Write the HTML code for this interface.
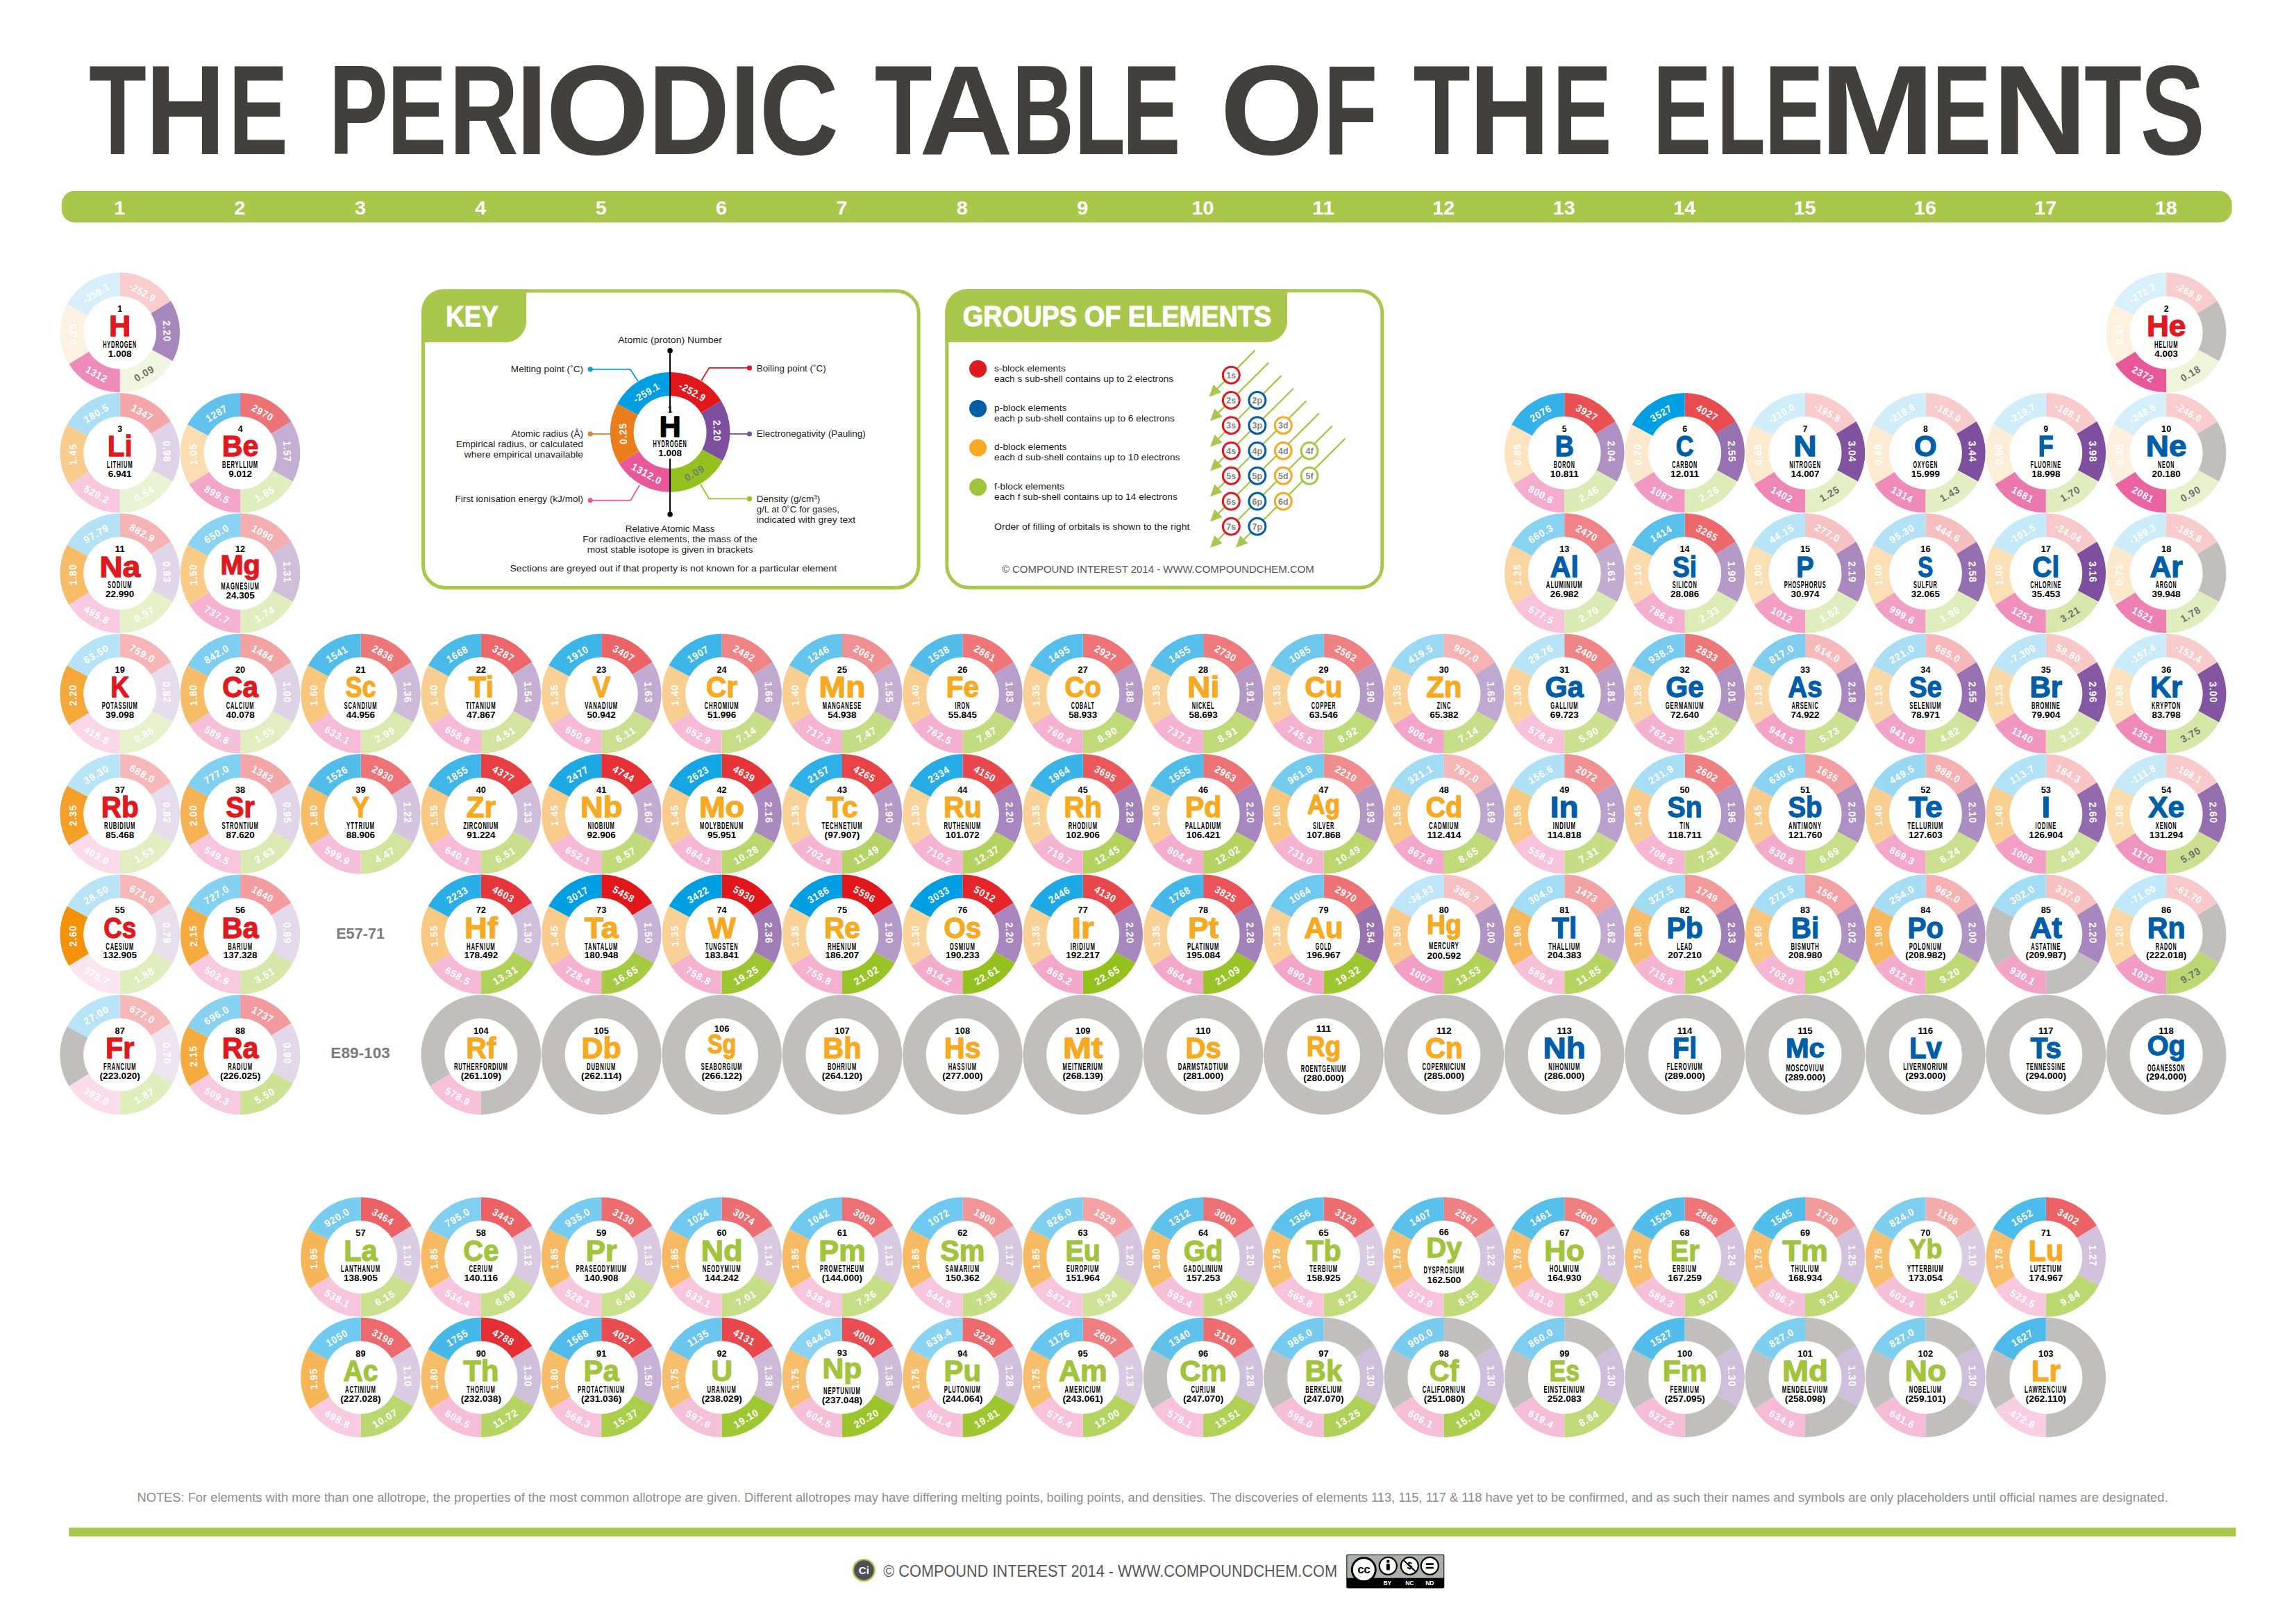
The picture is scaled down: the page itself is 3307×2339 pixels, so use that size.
<!DOCTYPE html>
<html><head><meta charset="utf-8"><title>The Periodic Table of the Elements</title><style>
html,body{margin:0;padding:0;background:#fff;}
body{width:3307px;height:2339px;overflow:hidden;}
svg{display:block;}
text{font-family:"Liberation Sans",sans-serif;}
.title{font-weight:bold;font-size:184px;fill:#41403e;}
.gn{font-weight:bold;font-size:28px;fill:#fff;text-anchor:middle;}
.v{font-weight:bold;font-size:14.6px;fill:#fff;text-anchor:middle;dominant-baseline:central;letter-spacing:1px;}
.vk{font-size:14.6px;fill:#fff;text-anchor:middle;dominant-baseline:central;font-weight:bold;letter-spacing:1px;}
.n{font-weight:bold;font-size:12.5px;fill:#000;text-anchor:middle;}
.s{font-weight:bold;font-size:42.6px;text-anchor:middle;stroke-width:1.3px;stroke-linejoin:round;}
.nm{font-size:14px;fill:#000;text-anchor:middle;font-weight:bold;letter-spacing:1.6px;}
.m{font-weight:bold;font-size:12.5px;fill:#000;text-anchor:middle;}
.lbl{font-weight:bold;font-size:21.5px;fill:#7b7b7b;text-anchor:middle;}
.tab{font-weight:bold;font-size:43px;fill:#fff;stroke:#fff;stroke-width:1.2px;stroke-linejoin:round;}
.kl{font-size:13.6px;fill:#1a1a1a;}
.cp{font-size:15px;fill:#555;}
.orb{font-weight:bold;font-size:12.5px;fill:#868686;text-anchor:middle;}
.note{font-size:18px;fill:#8c8c8c;}
</style></head><body>
<svg width="3307" height="2339" viewBox="0 0 3307 2339">
<text class="title" y="221.7"><tspan x="127.94" textLength="82.93" lengthAdjust="spacingAndGlyphs">T</tspan><tspan x="209.54" textLength="115.06" lengthAdjust="spacingAndGlyphs">H</tspan><tspan x="329.26" textLength="85.59" lengthAdjust="spacingAndGlyphs">E</tspan> <tspan x="473.63" textLength="84.84" lengthAdjust="spacingAndGlyphs">P</tspan><tspan x="557.86" textLength="85.59" lengthAdjust="spacingAndGlyphs">E</tspan><tspan x="647.11" textLength="99.85" lengthAdjust="spacingAndGlyphs">R</tspan><tspan x="743.08" textLength="45.41" lengthAdjust="spacingAndGlyphs">I</tspan><tspan x="785.7" textLength="149.75" lengthAdjust="spacingAndGlyphs">O</tspan><tspan x="933.29" textLength="117.9" lengthAdjust="spacingAndGlyphs">D</tspan><tspan x="1050.38" textLength="45.41" lengthAdjust="spacingAndGlyphs">I</tspan><tspan x="1093.66" textLength="114.44" lengthAdjust="spacingAndGlyphs">C</tspan> <tspan x="1259.64" textLength="82.83" lengthAdjust="spacingAndGlyphs">T</tspan><tspan x="1323.92" textLength="135.16" lengthAdjust="spacingAndGlyphs">A</tspan><tspan x="1457.79" textLength="89.03" lengthAdjust="spacingAndGlyphs">B</tspan><tspan x="1547.96" textLength="72.71" lengthAdjust="spacingAndGlyphs">L</tspan><tspan x="1616.52" textLength="83.93" lengthAdjust="spacingAndGlyphs">E</tspan> <tspan x="1757.34" textLength="148.96" lengthAdjust="spacingAndGlyphs">O</tspan><tspan x="1906.54" textLength="77.61" lengthAdjust="spacingAndGlyphs">F</tspan> <tspan x="2035.45" textLength="82.2" lengthAdjust="spacingAndGlyphs">T</tspan><tspan x="2116.27" textLength="115.91" lengthAdjust="spacingAndGlyphs">H</tspan><tspan x="2236.06" textLength="85.59" lengthAdjust="spacingAndGlyphs">E</tspan> <tspan x="2380.44" textLength="84.76" lengthAdjust="spacingAndGlyphs">E</tspan><tspan x="2473.32" textLength="69.39" lengthAdjust="spacingAndGlyphs">L</tspan><tspan x="2541.26" textLength="85.59" lengthAdjust="spacingAndGlyphs">E</tspan><tspan x="2621.07" textLength="165.77" lengthAdjust="spacingAndGlyphs">M</tspan><tspan x="2782.46" textLength="85.59" lengthAdjust="spacingAndGlyphs">E</tspan><tspan x="2869.71" textLength="136.6" lengthAdjust="spacingAndGlyphs">N</tspan><tspan x="3001.94" textLength="82.93" lengthAdjust="spacingAndGlyphs">T</tspan><tspan x="3082.72" textLength="93.05" lengthAdjust="spacingAndGlyphs">S</tspan></text>
<rect x="88.7" y="274.9" width="3126" height="45.7" rx="19" fill="#a9c74b"/>
<text class="gn" x="172.2" y="309.2" textLength="16.01" lengthAdjust="spacingAndGlyphs">1</text>
<text class="gn" x="345.58" y="309.2" textLength="16.01" lengthAdjust="spacingAndGlyphs">2</text>
<text class="gn" x="518.96" y="309.2" textLength="16.01" lengthAdjust="spacingAndGlyphs">3</text>
<text class="gn" x="692.34" y="309.2" textLength="16.01" lengthAdjust="spacingAndGlyphs">4</text>
<text class="gn" x="865.72" y="309.2" textLength="16.01" lengthAdjust="spacingAndGlyphs">5</text>
<text class="gn" x="1039.1" y="309.2" textLength="16.01" lengthAdjust="spacingAndGlyphs">6</text>
<text class="gn" x="1212.48" y="309.2" textLength="16.01" lengthAdjust="spacingAndGlyphs">7</text>
<text class="gn" x="1385.86" y="309.2" textLength="16.01" lengthAdjust="spacingAndGlyphs">8</text>
<text class="gn" x="1559.24" y="309.2" textLength="16.01" lengthAdjust="spacingAndGlyphs">9</text>
<text class="gn" x="1732.62" y="309.2" textLength="32.02" lengthAdjust="spacingAndGlyphs">10</text>
<text class="gn" x="1906" y="309.2" textLength="32.02" lengthAdjust="spacingAndGlyphs">11</text>
<text class="gn" x="2079.38" y="309.2" textLength="32.02" lengthAdjust="spacingAndGlyphs">12</text>
<text class="gn" x="2252.76" y="309.2" textLength="32.02" lengthAdjust="spacingAndGlyphs">13</text>
<text class="gn" x="2426.14" y="309.2" textLength="32.02" lengthAdjust="spacingAndGlyphs">14</text>
<text class="gn" x="2599.52" y="309.2" textLength="32.02" lengthAdjust="spacingAndGlyphs">15</text>
<text class="gn" x="2772.9" y="309.2" textLength="32.02" lengthAdjust="spacingAndGlyphs">16</text>
<text class="gn" x="2946.28" y="309.2" textLength="32.02" lengthAdjust="spacingAndGlyphs">17</text>
<text class="gn" x="3119.66" y="309.2" textLength="32.02" lengthAdjust="spacingAndGlyphs">18</text>
<rect x="609.5" y="418.9" width="713.6" height="427.6" rx="32" fill="none" stroke="#a9c74b" stroke-width="5"/>
<path d="M639 416.4 H758 V463 A30 30 0 0 1 728 493 H607 V448.4 A32 32 0 0 1 639 416.4 Z" fill="#a9c74b"/>
<text class="tab" x="642.3" y="469.5" textLength="75.3" lengthAdjust="spacingAndGlyphs">KEY</text>
<path d="M965.10 536.10A86.30 86.30 0 0 1 1038.52 577.05L1009.77 594.81A52.50 52.50 0 0 0 965.10 569.90Z" fill="#e2171c"/>
<path d="M1038.52 577.05A86.30 86.30 0 0 1 1040.94 663.58L1011.24 647.45A52.50 52.50 0 0 0 1009.77 594.81Z" fill="#7e4f9e"/>
<path d="M1040.94 663.58A86.30 86.30 0 0 1 965.10 708.70L965.10 674.90A52.50 52.50 0 0 0 1011.24 647.45Z" fill="#95c11e"/>
<path d="M965.10 708.70A86.30 86.30 0 0 1 891.68 667.75L920.43 649.99A52.50 52.50 0 0 0 965.10 674.90Z" fill="#e8579a"/>
<path d="M891.68 667.75A86.30 86.30 0 0 1 889.04 581.62L918.83 597.59A52.50 52.50 0 0 0 920.43 649.99Z" fill="#ec7d1c"/>
<path d="M889.04 581.62A86.30 86.30 0 0 1 965.10 536.10L965.10 569.90A52.50 52.50 0 0 0 918.83 597.59Z" fill="#009ee2"/>
<text class="vk" x="997.35" y="564.58" transform="rotate(29.15 997.35 564.58)" textLength="41.9" lengthAdjust="spacingAndGlyphs">-252.9</text>
<text class="vk" x="1032.67" y="620.51" transform="rotate(88.4 1032.67 620.51)" textLength="31" lengthAdjust="spacingAndGlyphs">2.20</text>
<text class="vk" x="1000.28" y="681.53" transform="rotate(-30.75 1000.28 681.53)" textLength="31" lengthAdjust="spacingAndGlyphs" style="fill:#777">0.09</text>
<text class="vk" x="931.59" y="682.49" transform="rotate(29.15 931.59 682.49)" textLength="47.8" lengthAdjust="spacingAndGlyphs">1312.0</text>
<text class="vk" x="897.53" y="624.46" transform="rotate(-91.75 897.53 624.46)" textLength="31" lengthAdjust="spacingAndGlyphs">0.25</text>
<text class="vk" x="931.1" y="565.6" transform="rotate(-30.9 931.1 565.6)" textLength="41.9" lengthAdjust="spacingAndGlyphs">-259.1</text>
<path d="M965.1 505V595M965.1 660.4V740.7" stroke="#000" stroke-width="2"/>
<circle cx="965.1" cy="505" r="3.8" fill="#000"/><circle cx="965.1" cy="740.7" r="3.8" fill="#000"/>
<text class="n" x="965.1" y="594.1" textLength="6.86" lengthAdjust="spacingAndGlyphs">1</text>
<text class="s" x="965.1" y="629.4" fill="#000" stroke="#000" textLength="31.25" lengthAdjust="spacingAndGlyphs">H</text>
<text class="nm" x="965.1" y="644.2" textLength="48.98" lengthAdjust="spacingAndGlyphs">HYDROGEN</text>
<text class="m" x="965.1" y="657.1" textLength="33.67" lengthAdjust="spacingAndGlyphs">1.008</text>
<path d="M850.2 531.8 L907.8 531.8 L918.9 549" fill="none" stroke="#009ee2" stroke-width="1.8"/><circle cx="850.2" cy="531.8" r="3.6" fill="#009ee2"/>
<path d="M1079.5 529.9 L1021.3 529.9 L1010.2 548.3" fill="none" stroke="#e2171c" stroke-width="1.8"/><circle cx="1079.5" cy="529.9" r="3.6" fill="#e2171c"/>
<path d="M850.2 625 L879.5 625" fill="none" stroke="#ec7d1c" stroke-width="1.8"/><circle cx="850.2" cy="625" r="3.6" fill="#ec7d1c"/>
<path d="M1079.5 625 L1051 625" fill="none" stroke="#7e4f9e" stroke-width="1.8"/><circle cx="1079.5" cy="625" r="3.6" fill="#7e4f9e"/>
<path d="M850.2 720.6 L908.4 720.6 L921.1 698.7" fill="none" stroke="#e8579a" stroke-width="1.8"/><circle cx="850.2" cy="720.6" r="3.6" fill="#e8579a"/>
<path d="M1079.5 718.4 L1021.3 718.4 L1009.2 697.8" fill="none" stroke="#95c11e" stroke-width="1.8"/><circle cx="1079.5" cy="718.4" r="3.6" fill="#95c11e"/>
<text class="kl" x="965.1" y="494.3" text-anchor="middle" textLength="149.66" lengthAdjust="spacingAndGlyphs">Atomic (proton) Number</text>
<text class="kl" x="840" y="535.6" text-anchor="end" textLength="104.16" lengthAdjust="spacingAndGlyphs">Melting point (˚C)</text>
<text class="kl" x="1089.7" y="534.6" textLength="100" lengthAdjust="spacingAndGlyphs">Boiling point (˚C)</text>
<text class="kl" x="840" y="628.8" text-anchor="end" textLength="103.59" lengthAdjust="spacingAndGlyphs">Atomic radius (Å)</text>
<text class="kl" x="840" y="643.7" text-anchor="end" textLength="183.11" lengthAdjust="spacingAndGlyphs">Empirical radius, or calculated</text>
<text class="kl" x="840" y="658.6" text-anchor="end" textLength="171.13" lengthAdjust="spacingAndGlyphs">where empirical unavailable</text>
<text class="kl" x="1089.7" y="628.8" textLength="157.05" lengthAdjust="spacingAndGlyphs">Electronegativity (Pauling)</text>
<text class="kl" x="840" y="723.2" text-anchor="end" textLength="184.51" lengthAdjust="spacingAndGlyphs">First ionisation energy (kJ/mol)</text>
<text class="kl" x="1089.7" y="722.6" textLength="91.68" lengthAdjust="spacingAndGlyphs">Density (g/cm³)</text>
<text class="kl" x="1089.7" y="737.5" textLength="119.22" lengthAdjust="spacingAndGlyphs">g/L at 0˚C for gases,</text>
<text class="kl" x="1089.7" y="753.4" textLength="142.56" lengthAdjust="spacingAndGlyphs">indicated with grey text</text>
<text class="kl" x="965.1" y="766.1" text-anchor="middle" textLength="128.8" lengthAdjust="spacingAndGlyphs">Relative Atomic Mass</text>
<text class="kl" x="965.1" y="781.4" text-anchor="middle" textLength="251.82" lengthAdjust="spacingAndGlyphs">For radioactive elements, the mass of the</text>
<text class="kl" x="965.1" y="796.3" text-anchor="middle" textLength="238.88" lengthAdjust="spacingAndGlyphs">most stable isotope is given in brackets</text>
<text class="kl" x="734.5" y="823.4" textLength="470.6" lengthAdjust="spacingAndGlyphs">Sections are greyed out if that property is not known for a particular element</text>
<rect x="1363.8" y="418.7" width="627" height="427.6" rx="32" fill="none" stroke="#a9c74b" stroke-width="5"/>
<path d="M1393.3 416.2 H1854 V462.7 A30 30 0 0 1 1824 492.7 H1361.3 V448.2 A32 32 0 0 1 1393.3 416.2 Z" fill="#a9c74b"/>
<text class="tab" x="1386.8" y="470.3" textLength="444.5" lengthAdjust="spacingAndGlyphs">GROUPS OF ELEMENTS</text>
<circle cx="1408.6" cy="531.2" r="12.5" fill="#e1191f"/>
<text class="kl" x="1432.1" y="534.6" textLength="102.67" lengthAdjust="spacingAndGlyphs">s-block elements</text>
<text class="kl" x="1432.1" y="549.6" textLength="258.05" lengthAdjust="spacingAndGlyphs">each s sub-shell contains up to 2 electrons</text>
<circle cx="1408.6" cy="588.4" r="12.5" fill="#005ea9"/>
<text class="kl" x="1432.1" y="591.8" textLength="104.44" lengthAdjust="spacingAndGlyphs">p-block elements</text>
<text class="kl" x="1432.1" y="606.8" textLength="259.82" lengthAdjust="spacingAndGlyphs">each p sub-shell contains up to 6 electrons</text>
<circle cx="1408.6" cy="645" r="12.5" fill="#f8a922"/>
<text class="kl" x="1432.1" y="648.4" textLength="104.44" lengthAdjust="spacingAndGlyphs">d-block elements</text>
<text class="kl" x="1432.1" y="663.4" textLength="267.31" lengthAdjust="spacingAndGlyphs">each d sub-shell contains up to 10 electrons</text>
<circle cx="1408.6" cy="701.6" r="12.5" fill="#a2c43c"/>
<text class="kl" x="1432.1" y="705" textLength="100.83" lengthAdjust="spacingAndGlyphs">f-block elements</text>
<text class="kl" x="1432.1" y="720" textLength="263.7" lengthAdjust="spacingAndGlyphs">each f sub-shell contains up to 14 electrons</text>
<text class="kl" x="1432.1" y="762.5" textLength="281.29" lengthAdjust="spacingAndGlyphs">Order of filling of orbitals is shown to the right</text>
<text class="cp" x="1442.9" y="824.8" textLength="449.9" lengthAdjust="spacingAndGlyphs">© COMPOUND INTEREST 2014 - WWW.COMPOUNDCHEM.COM</text>
<path d="M1807.8 504.3 L1752.13 560.72" stroke="#a9c74b" stroke-width="2.4"/>
<path d="M1741.6 571.4 L1747.84 553.68 L1759.23 564.92 Z" fill="#a9c74b"/>
<path d="M1827 522.7 L1753.64 595.63" stroke="#a9c74b" stroke-width="2.4"/>
<path d="M1743 606.2 L1749.42 588.54 L1760.7 599.89 Z" fill="#a9c74b"/>
<path d="M1845.5 541.1 L1753.61 632.99" stroke="#a9c74b" stroke-width="2.4"/>
<path d="M1743 643.6 L1749.36 625.92 L1760.68 637.24 Z" fill="#a9c74b"/>
<path d="M1863 559.5 L1753.66 667.84" stroke="#a9c74b" stroke-width="2.4"/>
<path d="M1743 678.4 L1749.45 660.75 L1760.71 672.12 Z" fill="#a9c74b"/>
<path d="M1881.4 577.6 L1753.64 704.62" stroke="#a9c74b" stroke-width="2.4"/>
<path d="M1743 715.2 L1749.42 697.54 L1760.7 708.89 Z" fill="#a9c74b"/>
<path d="M1899.8 595.4 L1753.64 740.63" stroke="#a9c74b" stroke-width="2.4"/>
<path d="M1743 751.2 L1749.42 733.54 L1760.7 744.89 Z" fill="#a9c74b"/>
<path d="M1918.5 613.8 L1753.62 778.21" stroke="#a9c74b" stroke-width="2.4"/>
<path d="M1743 788.8 L1749.39 771.13 L1760.69 782.46 Z" fill="#a9c74b"/>
<path d="M1937.5 631.7 L1790.43 778.21" stroke="#a9c74b" stroke-width="2.4"/>
<path d="M1779.8 788.8 L1786.2 771.13 L1797.49 782.47 Z" fill="#a9c74b"/>
<circle cx="1773.3" cy="540.2" r="12.0" fill="#fff" stroke="#e1191f" stroke-width="3.0"/>
<text class="orb" x="1773.3" y="544.8">1s</text>
<circle cx="1773.3" cy="576.5" r="12.0" fill="#fff" stroke="#e1191f" stroke-width="3.0"/>
<text class="orb" x="1773.3" y="581.1">2s</text>
<circle cx="1810.9" cy="576.5" r="12.0" fill="#fff" stroke="#005ea9" stroke-width="3.0"/>
<text class="orb" x="1810.9" y="581.1">2p</text>
<circle cx="1773.3" cy="612.7" r="12.0" fill="#fff" stroke="#e1191f" stroke-width="3.0"/>
<text class="orb" x="1773.3" y="617.3">3s</text>
<circle cx="1810.9" cy="612.7" r="12.0" fill="#fff" stroke="#005ea9" stroke-width="3.0"/>
<text class="orb" x="1810.9" y="617.3">3p</text>
<circle cx="1848.3" cy="612.7" r="12.0" fill="#fff" stroke="#f8a922" stroke-width="3.0"/>
<text class="orb" x="1848.3" y="617.3">3d</text>
<circle cx="1773.3" cy="649.2" r="12.0" fill="#fff" stroke="#e1191f" stroke-width="3.0"/>
<text class="orb" x="1773.3" y="653.8">4s</text>
<circle cx="1810.9" cy="649.2" r="12.0" fill="#fff" stroke="#005ea9" stroke-width="3.0"/>
<text class="orb" x="1810.9" y="653.8">4p</text>
<circle cx="1848.3" cy="649.2" r="12.0" fill="#fff" stroke="#f8a922" stroke-width="3.0"/>
<text class="orb" x="1848.3" y="653.8">4d</text>
<circle cx="1886" cy="649.2" r="12.0" fill="#fff" stroke="#a9c74b" stroke-width="3.0"/>
<text class="orb" x="1886" y="653.8">4f</text>
<circle cx="1773.3" cy="685.2" r="12.0" fill="#fff" stroke="#e1191f" stroke-width="3.0"/>
<text class="orb" x="1773.3" y="689.8">5s</text>
<circle cx="1810.9" cy="685.2" r="12.0" fill="#fff" stroke="#005ea9" stroke-width="3.0"/>
<text class="orb" x="1810.9" y="689.8">5p</text>
<circle cx="1848.3" cy="685.2" r="12.0" fill="#fff" stroke="#f8a922" stroke-width="3.0"/>
<text class="orb" x="1848.3" y="689.8">5d</text>
<circle cx="1886" cy="685.2" r="12.0" fill="#fff" stroke="#a9c74b" stroke-width="3.0"/>
<text class="orb" x="1886" y="689.8">5f</text>
<circle cx="1773.3" cy="722" r="12.0" fill="#fff" stroke="#e1191f" stroke-width="3.0"/>
<text class="orb" x="1773.3" y="726.6">6s</text>
<circle cx="1810.9" cy="722" r="12.0" fill="#fff" stroke="#005ea9" stroke-width="3.0"/>
<text class="orb" x="1810.9" y="726.6">6p</text>
<circle cx="1848.3" cy="722" r="12.0" fill="#fff" stroke="#f8a922" stroke-width="3.0"/>
<text class="orb" x="1848.3" y="726.6">6d</text>
<circle cx="1773.3" cy="758.2" r="12.0" fill="#fff" stroke="#e1191f" stroke-width="3.0"/>
<text class="orb" x="1773.3" y="762.8">7s</text>
<circle cx="1810.9" cy="758.2" r="12.0" fill="#fff" stroke="#005ea9" stroke-width="3.0"/>
<text class="orb" x="1810.9" y="762.8">7p</text>
<path d="M172.70 392.60A86.30 86.30 0 0 1 246.12 433.55L217.37 451.31A52.50 52.50 0 0 0 172.70 426.40Z" fill="#f9cccd"/>
<path d="M246.12 433.55A86.30 86.30 0 0 1 248.54 520.08L218.84 503.95A52.50 52.50 0 0 0 217.37 451.31Z" fill="#a787bd"/>
<path d="M248.54 520.08A86.30 86.30 0 0 1 172.70 565.20L172.70 531.40A52.50 52.50 0 0 0 218.84 503.95Z" fill="#f0f6df"/>
<path d="M172.70 565.20A86.30 86.30 0 0 1 99.28 524.25L128.03 506.49A52.50 52.50 0 0 0 172.70 531.40Z" fill="#ef8bb9"/>
<path d="M99.28 524.25A86.30 86.30 0 0 1 96.64 438.12L126.43 454.09A52.50 52.50 0 0 0 128.03 506.49Z" fill="#fdf2e1"/>
<path d="M96.64 438.12A86.30 86.30 0 0 1 172.70 392.60L172.70 426.40A52.50 52.50 0 0 0 126.43 454.09Z" fill="#d6effa"/>
<text class="v" x="204.95" y="421.08" transform="rotate(29.15 204.95 421.08)" textLength="41.9" lengthAdjust="spacingAndGlyphs">-252.9</text>
<text class="v" x="240.27" y="477.01" transform="rotate(88.4 240.27 477.01)" textLength="31" lengthAdjust="spacingAndGlyphs">2.20</text>
<text class="v" x="207.88" y="538.03" transform="rotate(-30.75 207.88 538.03)" textLength="31" lengthAdjust="spacingAndGlyphs" style="fill:#6e6e6e">0.09</text>
<text class="v" x="139.19" y="538.99" transform="rotate(29.15 139.19 538.99)" textLength="33.6" lengthAdjust="spacingAndGlyphs">1312</text>
<text class="v" x="105.13" y="480.96" transform="rotate(-91.75 105.13 480.96)" textLength="31" lengthAdjust="spacingAndGlyphs">0.25</text>
<text class="v" x="138.7" y="422.1" transform="rotate(-30.9 138.7 422.1)" textLength="41.9" lengthAdjust="spacingAndGlyphs">-259.1</text>
<text class="n" x="172.7" y="448.6" textLength="6.86" lengthAdjust="spacingAndGlyphs">1</text>
<text class="s" x="172.7" y="483.9" fill="#e1191f" stroke="#e1191f" textLength="31.25" lengthAdjust="spacingAndGlyphs">H</text>
<text class="nm" x="172.7" y="500.7" textLength="48.98" lengthAdjust="spacingAndGlyphs">HYDROGEN</text>
<text class="m" x="172.7" y="513.6" textLength="33.67" lengthAdjust="spacingAndGlyphs">1.008</text>
<path d="M3193.58 433.55A86.30 86.30 0 0 1 3196.00 520.08L3166.30 503.95A52.50 52.50 0 0 0 3164.83 451.31Z" fill="#c0bfbe"/>
<path d="M3120.16 392.60A86.30 86.30 0 0 1 3193.58 433.55L3164.83 451.31A52.50 52.50 0 0 0 3120.16 426.40Z" fill="#f9cccd"/>
<path d="M3196.00 520.08A86.30 86.30 0 0 1 3120.16 565.20L3120.16 531.40A52.50 52.50 0 0 0 3166.30 503.95Z" fill="#eef5db"/>
<path d="M3120.16 565.20A86.30 86.30 0 0 1 3046.74 524.25L3075.49 506.49A52.50 52.50 0 0 0 3120.16 531.40Z" fill="#e8579a"/>
<path d="M3046.74 524.25A86.30 86.30 0 0 1 3044.10 438.12L3073.89 454.09A52.50 52.50 0 0 0 3075.49 506.49Z" fill="#fdf1e0"/>
<path d="M3044.10 438.12A86.30 86.30 0 0 1 3120.16 392.60L3120.16 426.40A52.50 52.50 0 0 0 3073.89 454.09Z" fill="#d8f0fb"/>
<text class="v" x="3152.41" y="421.08" transform="rotate(29.15 3152.41 421.08)" textLength="41.9" lengthAdjust="spacingAndGlyphs">-268.9</text>
<text class="v" x="3155.34" y="538.03" transform="rotate(-30.75 3155.34 538.03)" textLength="31" lengthAdjust="spacingAndGlyphs" style="fill:#6e6e6e">0.18</text>
<text class="v" x="3086.65" y="538.99" transform="rotate(29.15 3086.65 538.99)" textLength="33.6" lengthAdjust="spacingAndGlyphs">2372</text>
<text class="v" x="3052.59" y="480.96" transform="rotate(-91.75 3052.59 480.96)" textLength="31" lengthAdjust="spacingAndGlyphs">0.31</text>
<text class="v" x="3086.16" y="422.1" transform="rotate(-30.9 3086.16 422.1)" textLength="41.9" lengthAdjust="spacingAndGlyphs">-272.2</text>
<text class="n" x="3120.16" y="448.6" textLength="6.86" lengthAdjust="spacingAndGlyphs">2</text>
<text class="s" x="3120.16" y="483.9" fill="#e1191f" stroke="#e1191f" textLength="56.53" lengthAdjust="spacingAndGlyphs">He</text>
<text class="nm" x="3120.16" y="500.7" textLength="34.57" lengthAdjust="spacingAndGlyphs">HELIUM</text>
<text class="m" x="3120.16" y="513.6" textLength="33.67" lengthAdjust="spacingAndGlyphs">4.003</text>
<path d="M172.70 565.97A86.30 86.30 0 0 1 246.12 606.92L217.37 624.68A52.50 52.50 0 0 0 172.70 599.77Z" fill="#f4a6a8"/>
<path d="M246.12 606.92A86.30 86.30 0 0 1 248.54 693.45L218.84 677.32A52.50 52.50 0 0 0 217.37 624.68Z" fill="#dfd3e7"/>
<path d="M248.54 693.45A86.30 86.30 0 0 1 172.70 738.57L172.70 704.77A52.50 52.50 0 0 0 218.84 677.32Z" fill="#eaf3d3"/>
<path d="M172.70 738.57A86.30 86.30 0 0 1 99.28 697.62L128.03 679.86A52.50 52.50 0 0 0 172.70 704.77Z" fill="#f7c8de"/>
<path d="M99.28 697.62A86.30 86.30 0 0 1 96.64 611.49L126.43 627.46A52.50 52.50 0 0 0 128.03 679.86Z" fill="#f9cc8d"/>
<path d="M96.64 611.49A86.30 86.30 0 0 1 172.70 565.97L172.70 599.77A52.50 52.50 0 0 0 126.43 627.46Z" fill="#acdff6"/>
<text class="v" x="204.95" y="594.45" transform="rotate(29.15 204.95 594.45)" textLength="33.6" lengthAdjust="spacingAndGlyphs">1347</text>
<text class="v" x="240.27" y="650.38" transform="rotate(88.4 240.27 650.38)" textLength="31" lengthAdjust="spacingAndGlyphs">0.98</text>
<text class="v" x="207.88" y="711.4" transform="rotate(-30.75 207.88 711.4)" textLength="31" lengthAdjust="spacingAndGlyphs">0.54</text>
<text class="v" x="139.19" y="712.36" transform="rotate(29.15 139.19 712.36)" textLength="39.4" lengthAdjust="spacingAndGlyphs">520.2</text>
<text class="v" x="105.13" y="654.33" transform="rotate(-91.75 105.13 654.33)" textLength="31" lengthAdjust="spacingAndGlyphs">1.45</text>
<text class="v" x="138.7" y="595.47" transform="rotate(-30.9 138.7 595.47)" textLength="39.4" lengthAdjust="spacingAndGlyphs">180.5</text>
<text class="n" x="172.7" y="621.97" textLength="6.86" lengthAdjust="spacingAndGlyphs">3</text>
<text class="s" x="172.7" y="657.27" fill="#e1191f" stroke="#e1191f" textLength="35.74" lengthAdjust="spacingAndGlyphs">Li</text>
<text class="nm" x="172.7" y="674.07" textLength="37.92" lengthAdjust="spacingAndGlyphs">LITHIUM</text>
<text class="m" x="172.7" y="686.97" textLength="33.67" lengthAdjust="spacingAndGlyphs">6.941</text>
<path d="M346.08 565.97A86.30 86.30 0 0 1 419.50 606.92L390.75 624.68A52.50 52.50 0 0 0 346.08 599.77Z" fill="#ed7275"/>
<path d="M419.50 606.92A86.30 86.30 0 0 1 421.92 693.45L392.22 677.32A52.50 52.50 0 0 0 390.75 624.68Z" fill="#c4aed3"/>
<path d="M421.92 693.45A86.30 86.30 0 0 1 346.08 738.57L346.08 704.77A52.50 52.50 0 0 0 392.22 677.32Z" fill="#e0edbd"/>
<path d="M346.08 738.57A86.30 86.30 0 0 1 272.66 697.62L301.41 679.86A52.50 52.50 0 0 0 346.08 704.77Z" fill="#f3a6c9"/>
<path d="M272.66 697.62A86.30 86.30 0 0 1 270.02 611.49L299.81 627.46A52.50 52.50 0 0 0 301.41 679.86Z" fill="#fbddb1"/>
<path d="M270.02 611.49A86.30 86.30 0 0 1 346.08 565.97L346.08 599.77A52.50 52.50 0 0 0 299.81 627.46Z" fill="#61c3ed"/>
<text class="v" x="378.33" y="594.45" transform="rotate(29.15 378.33 594.45)" textLength="33.6" lengthAdjust="spacingAndGlyphs">2970</text>
<text class="v" x="413.65" y="650.38" transform="rotate(88.4 413.65 650.38)" textLength="31" lengthAdjust="spacingAndGlyphs">1.57</text>
<text class="v" x="381.26" y="711.4" transform="rotate(-30.75 381.26 711.4)" textLength="31" lengthAdjust="spacingAndGlyphs">1.85</text>
<text class="v" x="312.57" y="712.36" transform="rotate(29.15 312.57 712.36)" textLength="39.4" lengthAdjust="spacingAndGlyphs">899.5</text>
<text class="v" x="278.51" y="654.33" transform="rotate(-91.75 278.51 654.33)" textLength="31" lengthAdjust="spacingAndGlyphs">1.05</text>
<text class="v" x="312.08" y="595.47" transform="rotate(-30.9 312.08 595.47)" textLength="33.6" lengthAdjust="spacingAndGlyphs">1287</text>
<text class="n" x="346.08" y="621.97" textLength="6.86" lengthAdjust="spacingAndGlyphs">4</text>
<text class="s" x="346.08" y="657.27" fill="#e1191f" stroke="#e1191f" textLength="52.54" lengthAdjust="spacingAndGlyphs">Be</text>
<text class="nm" x="346.08" y="674.07" textLength="51.92" lengthAdjust="spacingAndGlyphs">BERYLLIUM</text>
<text class="m" x="346.08" y="686.97" textLength="33.67" lengthAdjust="spacingAndGlyphs">9.012</text>
<path d="M2253.26 565.97A86.30 86.30 0 0 1 2326.68 606.92L2297.93 624.68A52.50 52.50 0 0 0 2253.26 599.77Z" fill="#e95053"/>
<path d="M2326.68 606.92A86.30 86.30 0 0 1 2329.10 693.45L2299.40 677.32A52.50 52.50 0 0 0 2297.93 624.68Z" fill="#ae91c2"/>
<path d="M2329.10 693.45A86.30 86.30 0 0 1 2253.26 738.57L2253.26 704.77A52.50 52.50 0 0 0 2299.40 677.32Z" fill="#dcebb5"/>
<path d="M2253.26 738.57A86.30 86.30 0 0 1 2179.84 697.62L2208.59 679.86A52.50 52.50 0 0 0 2253.26 704.77Z" fill="#f4adce"/>
<path d="M2179.84 697.62A86.30 86.30 0 0 1 2177.20 611.49L2206.99 627.46A52.50 52.50 0 0 0 2208.59 679.86Z" fill="#fce4c1"/>
<path d="M2177.20 611.49A86.30 86.30 0 0 1 2253.26 565.97L2253.26 599.77A52.50 52.50 0 0 0 2206.99 627.46Z" fill="#33b1e8"/>
<text class="v" x="2285.51" y="594.45" transform="rotate(29.15 2285.51 594.45)" textLength="33.6" lengthAdjust="spacingAndGlyphs">3927</text>
<text class="v" x="2320.83" y="650.38" transform="rotate(88.4 2320.83 650.38)" textLength="31" lengthAdjust="spacingAndGlyphs">2.04</text>
<text class="v" x="2288.44" y="711.4" transform="rotate(-30.75 2288.44 711.4)" textLength="31" lengthAdjust="spacingAndGlyphs">2.46</text>
<text class="v" x="2219.75" y="712.36" transform="rotate(29.15 2219.75 712.36)" textLength="39.4" lengthAdjust="spacingAndGlyphs">800.6</text>
<text class="v" x="2185.69" y="654.33" transform="rotate(-91.75 2185.69 654.33)" textLength="31" lengthAdjust="spacingAndGlyphs">0.85</text>
<text class="v" x="2219.26" y="595.47" transform="rotate(-30.9 2219.26 595.47)" textLength="33.6" lengthAdjust="spacingAndGlyphs">2076</text>
<text class="n" x="2253.26" y="621.97" textLength="6.86" lengthAdjust="spacingAndGlyphs">5</text>
<text class="s" x="2253.26" y="657.27" fill="#005ea9" stroke="#005ea9" textLength="27.26" lengthAdjust="spacingAndGlyphs">B</text>
<text class="nm" x="2253.26" y="674.07" textLength="30.79" lengthAdjust="spacingAndGlyphs">BORON</text>
<text class="m" x="2253.26" y="686.97" textLength="41.23" lengthAdjust="spacingAndGlyphs">10.811</text>
<path d="M2426.64 565.97A86.30 86.30 0 0 1 2500.06 606.92L2471.31 624.68A52.50 52.50 0 0 0 2426.64 599.77Z" fill="#e94c50"/>
<path d="M2500.06 606.92A86.30 86.30 0 0 1 2502.48 693.45L2472.78 677.32A52.50 52.50 0 0 0 2471.31 624.68Z" fill="#9771b1"/>
<path d="M2502.48 693.45A86.30 86.30 0 0 1 2426.64 738.57L2426.64 704.77A52.50 52.50 0 0 0 2472.78 677.32Z" fill="#ddebb8"/>
<path d="M2426.64 738.57A86.30 86.30 0 0 1 2353.22 697.62L2381.97 679.86A52.50 52.50 0 0 0 2426.64 704.77Z" fill="#f199c2"/>
<path d="M2353.22 697.62A86.30 86.30 0 0 1 2350.58 611.49L2380.37 627.46A52.50 52.50 0 0 0 2381.97 679.86Z" fill="#fce8cc"/>
<path d="M2350.58 611.49A86.30 86.30 0 0 1 2426.64 565.97L2426.64 599.77A52.50 52.50 0 0 0 2380.37 627.46Z" fill="#009ee2"/>
<text class="v" x="2458.89" y="594.45" transform="rotate(29.15 2458.89 594.45)" textLength="33.6" lengthAdjust="spacingAndGlyphs">4027</text>
<text class="v" x="2494.21" y="650.38" transform="rotate(88.4 2494.21 650.38)" textLength="31" lengthAdjust="spacingAndGlyphs">2.55</text>
<text class="v" x="2461.82" y="711.4" transform="rotate(-30.75 2461.82 711.4)" textLength="31" lengthAdjust="spacingAndGlyphs">2.26</text>
<text class="v" x="2393.13" y="712.36" transform="rotate(29.15 2393.13 712.36)" textLength="33.6" lengthAdjust="spacingAndGlyphs">1087</text>
<text class="v" x="2359.07" y="654.33" transform="rotate(-91.75 2359.07 654.33)" textLength="31" lengthAdjust="spacingAndGlyphs">0.70</text>
<text class="v" x="2392.64" y="595.47" transform="rotate(-30.9 2392.64 595.47)" textLength="33.6" lengthAdjust="spacingAndGlyphs">3527</text>
<text class="n" x="2426.64" y="621.97" textLength="6.86" lengthAdjust="spacingAndGlyphs">6</text>
<text class="s" x="2426.64" y="657.27" fill="#005ea9" stroke="#005ea9" textLength="25.77" lengthAdjust="spacingAndGlyphs">C</text>
<text class="nm" x="2426.64" y="674.07" textLength="36.77" lengthAdjust="spacingAndGlyphs">CARBON</text>
<text class="m" x="2426.64" y="686.97" textLength="41.23" lengthAdjust="spacingAndGlyphs">12.011</text>
<path d="M2600.02 565.97A86.30 86.30 0 0 1 2673.44 606.92L2644.69 624.68A52.50 52.50 0 0 0 2600.02 599.77Z" fill="#f9cbcc"/>
<path d="M2673.44 606.92A86.30 86.30 0 0 1 2675.86 693.45L2646.16 677.32A52.50 52.50 0 0 0 2644.69 624.68Z" fill="#8153a0"/>
<path d="M2675.86 693.45A86.30 86.30 0 0 1 2600.02 738.57L2600.02 704.77A52.50 52.50 0 0 0 2646.16 677.32Z" fill="#e4efc6"/>
<path d="M2600.02 738.57A86.30 86.30 0 0 1 2526.60 697.62L2555.35 679.86A52.50 52.50 0 0 0 2600.02 704.77Z" fill="#ee86b6"/>
<path d="M2526.60 697.62A86.30 86.30 0 0 1 2523.96 611.49L2553.75 627.46A52.50 52.50 0 0 0 2555.35 679.86Z" fill="#fceacf"/>
<path d="M2523.96 611.49A86.30 86.30 0 0 1 2600.02 565.97L2600.02 599.77A52.50 52.50 0 0 0 2553.75 627.46Z" fill="#d0edfa"/>
<text class="v" x="2632.27" y="594.45" transform="rotate(29.15 2632.27 594.45)" textLength="41.9" lengthAdjust="spacingAndGlyphs">-195.8</text>
<text class="v" x="2667.59" y="650.38" transform="rotate(88.4 2667.59 650.38)" textLength="31" lengthAdjust="spacingAndGlyphs">3.04</text>
<text class="v" x="2635.2" y="711.4" transform="rotate(-30.75 2635.2 711.4)" textLength="31" lengthAdjust="spacingAndGlyphs" style="fill:#6e6e6e">1.25</text>
<text class="v" x="2566.51" y="712.36" transform="rotate(29.15 2566.51 712.36)" textLength="33.6" lengthAdjust="spacingAndGlyphs">1402</text>
<text class="v" x="2532.45" y="654.33" transform="rotate(-91.75 2532.45 654.33)" textLength="31" lengthAdjust="spacingAndGlyphs">0.65</text>
<text class="v" x="2566.02" y="595.47" transform="rotate(-30.9 2566.02 595.47)" textLength="41.9" lengthAdjust="spacingAndGlyphs">-210.0</text>
<text class="n" x="2600.02" y="621.97" textLength="6.86" lengthAdjust="spacingAndGlyphs">7</text>
<text class="s" x="2600.02" y="657.27" fill="#005ea9" stroke="#005ea9" textLength="33.3" lengthAdjust="spacingAndGlyphs">N</text>
<text class="nm" x="2600.02" y="674.07" textLength="45.7" lengthAdjust="spacingAndGlyphs">NITROGEN</text>
<text class="m" x="2600.02" y="686.97" textLength="41.23" lengthAdjust="spacingAndGlyphs">14.007</text>
<path d="M2773.40 565.97A86.30 86.30 0 0 1 2846.82 606.92L2818.07 624.68A52.50 52.50 0 0 0 2773.40 599.77Z" fill="#f8cbcc"/>
<path d="M2846.82 606.92A86.30 86.30 0 0 1 2849.24 693.45L2819.54 677.32A52.50 52.50 0 0 0 2818.07 624.68Z" fill="#7e4f9e"/>
<path d="M2849.24 693.45A86.30 86.30 0 0 1 2773.40 738.57L2773.40 704.77A52.50 52.50 0 0 0 2819.54 677.32Z" fill="#e3efc3"/>
<path d="M2773.40 738.57A86.30 86.30 0 0 1 2699.98 697.62L2728.73 679.86A52.50 52.50 0 0 0 2773.40 704.77Z" fill="#ef8bb9"/>
<path d="M2699.98 697.62A86.30 86.30 0 0 1 2697.34 611.49L2727.13 627.46A52.50 52.50 0 0 0 2728.73 679.86Z" fill="#fdebd2"/>
<path d="M2697.34 611.49A86.30 86.30 0 0 1 2773.40 565.97L2773.40 599.77A52.50 52.50 0 0 0 2727.13 627.46Z" fill="#d1edfa"/>
<text class="v" x="2805.65" y="594.45" transform="rotate(29.15 2805.65 594.45)" textLength="41.9" lengthAdjust="spacingAndGlyphs">-183.0</text>
<text class="v" x="2840.97" y="650.38" transform="rotate(88.4 2840.97 650.38)" textLength="31" lengthAdjust="spacingAndGlyphs">3.44</text>
<text class="v" x="2808.58" y="711.4" transform="rotate(-30.75 2808.58 711.4)" textLength="31" lengthAdjust="spacingAndGlyphs" style="fill:#6e6e6e">1.43</text>
<text class="v" x="2739.89" y="712.36" transform="rotate(29.15 2739.89 712.36)" textLength="33.6" lengthAdjust="spacingAndGlyphs">1314</text>
<text class="v" x="2705.83" y="654.33" transform="rotate(-91.75 2705.83 654.33)" textLength="31" lengthAdjust="spacingAndGlyphs">0.60</text>
<text class="v" x="2739.4" y="595.47" transform="rotate(-30.9 2739.4 595.47)" textLength="41.9" lengthAdjust="spacingAndGlyphs">-218.8</text>
<text class="n" x="2773.4" y="621.97" textLength="6.86" lengthAdjust="spacingAndGlyphs">8</text>
<text class="s" x="2773.4" y="657.27" fill="#005ea9" stroke="#005ea9" textLength="32.56" lengthAdjust="spacingAndGlyphs">O</text>
<text class="nm" x="2773.4" y="674.07" textLength="35.79" lengthAdjust="spacingAndGlyphs">OXYGEN</text>
<text class="m" x="2773.4" y="686.97" textLength="41.23" lengthAdjust="spacingAndGlyphs">15.999</text>
<path d="M2946.78 565.97A86.30 86.30 0 0 1 3020.20 606.92L2991.45 624.68A52.50 52.50 0 0 0 2946.78 599.77Z" fill="#f9cbcc"/>
<path d="M3020.20 606.92A86.30 86.30 0 0 1 3022.62 693.45L2992.92 677.32A52.50 52.50 0 0 0 2991.45 624.68Z" fill="#7e4f9e"/>
<path d="M3022.62 693.45A86.30 86.30 0 0 1 2946.78 738.57L2946.78 704.77A52.50 52.50 0 0 0 2992.92 677.32Z" fill="#e1edbf"/>
<path d="M2946.78 738.57A86.30 86.30 0 0 1 2873.36 697.62L2902.11 679.86A52.50 52.50 0 0 0 2946.78 704.77Z" fill="#ec77ad"/>
<path d="M2873.36 697.62A86.30 86.30 0 0 1 2870.72 611.49L2900.51 627.46A52.50 52.50 0 0 0 2902.11 679.86Z" fill="#fdeed8"/>
<path d="M2870.72 611.49A86.30 86.30 0 0 1 2946.78 565.97L2946.78 599.77A52.50 52.50 0 0 0 2900.51 627.46Z" fill="#d1edfa"/>
<text class="v" x="2979.03" y="594.45" transform="rotate(29.15 2979.03 594.45)" textLength="41.9" lengthAdjust="spacingAndGlyphs">-188.1</text>
<text class="v" x="3014.35" y="650.38" transform="rotate(88.4 3014.35 650.38)" textLength="31" lengthAdjust="spacingAndGlyphs">3.98</text>
<text class="v" x="2981.96" y="711.4" transform="rotate(-30.75 2981.96 711.4)" textLength="31" lengthAdjust="spacingAndGlyphs" style="fill:#6e6e6e">1.70</text>
<text class="v" x="2913.27" y="712.36" transform="rotate(29.15 2913.27 712.36)" textLength="33.6" lengthAdjust="spacingAndGlyphs">1681</text>
<text class="v" x="2879.21" y="654.33" transform="rotate(-91.75 2879.21 654.33)" textLength="31" lengthAdjust="spacingAndGlyphs">0.50</text>
<text class="v" x="2912.78" y="595.47" transform="rotate(-30.9 2912.78 595.47)" textLength="41.9" lengthAdjust="spacingAndGlyphs">-219.7</text>
<text class="n" x="2946.78" y="621.97" textLength="6.86" lengthAdjust="spacingAndGlyphs">9</text>
<text class="s" x="2946.78" y="657.27" fill="#005ea9" stroke="#005ea9" textLength="21.99" lengthAdjust="spacingAndGlyphs">F</text>
<text class="nm" x="2946.78" y="674.07" textLength="44.43" lengthAdjust="spacingAndGlyphs">FLUORINE</text>
<text class="m" x="2946.78" y="686.97" textLength="41.23" lengthAdjust="spacingAndGlyphs">18.998</text>
<path d="M3193.58 606.92A86.30 86.30 0 0 1 3196.00 693.45L3166.30 677.32A52.50 52.50 0 0 0 3164.83 624.68Z" fill="#c0bfbe"/>
<path d="M3120.16 565.97A86.30 86.30 0 0 1 3193.58 606.92L3164.83 624.68A52.50 52.50 0 0 0 3120.16 599.77Z" fill="#f9cccd"/>
<path d="M3196.00 693.45A86.30 86.30 0 0 1 3120.16 738.57L3120.16 704.77A52.50 52.50 0 0 0 3166.30 677.32Z" fill="#e7f1cc"/>
<path d="M3120.16 738.57A86.30 86.30 0 0 1 3046.74 697.62L3075.49 679.86A52.50 52.50 0 0 0 3120.16 704.77Z" fill="#ea64a2"/>
<path d="M3046.74 697.62A86.30 86.30 0 0 1 3044.10 611.49L3073.89 627.46A52.50 52.50 0 0 0 3075.49 679.86Z" fill="#fdf0de"/>
<path d="M3044.10 611.49A86.30 86.30 0 0 1 3120.16 565.97L3120.16 599.77A52.50 52.50 0 0 0 3073.89 627.46Z" fill="#d4effa"/>
<text class="v" x="3152.41" y="594.45" transform="rotate(29.15 3152.41 594.45)" textLength="41.9" lengthAdjust="spacingAndGlyphs">-246.0</text>
<text class="v" x="3155.34" y="711.4" transform="rotate(-30.75 3155.34 711.4)" textLength="31" lengthAdjust="spacingAndGlyphs" style="fill:#6e6e6e">0.90</text>
<text class="v" x="3086.65" y="712.36" transform="rotate(29.15 3086.65 712.36)" textLength="33.6" lengthAdjust="spacingAndGlyphs">2081</text>
<text class="v" x="3052.59" y="654.33" transform="rotate(-91.75 3052.59 654.33)" textLength="31" lengthAdjust="spacingAndGlyphs">0.38</text>
<text class="v" x="3086.16" y="595.47" transform="rotate(-30.9 3086.16 595.47)" textLength="41.9" lengthAdjust="spacingAndGlyphs">-248.6</text>
<text class="n" x="3120.16" y="621.97" textLength="14.22" lengthAdjust="spacingAndGlyphs">10</text>
<text class="s" x="3120.16" y="657.27" fill="#005ea9" stroke="#005ea9" textLength="58.58" lengthAdjust="spacingAndGlyphs">Ne</text>
<text class="nm" x="3120.16" y="674.07" textLength="24.35" lengthAdjust="spacingAndGlyphs">NEON</text>
<text class="m" x="3120.16" y="686.97" textLength="41.23" lengthAdjust="spacingAndGlyphs">20.180</text>
<path d="M172.70 739.34A86.30 86.30 0 0 1 246.12 780.29L217.37 798.05A52.50 52.50 0 0 0 172.70 773.14Z" fill="#f6b3b5"/>
<path d="M246.12 780.29A86.30 86.30 0 0 1 248.54 866.82L218.84 850.69A52.50 52.50 0 0 0 217.37 798.05Z" fill="#e1d6e9"/>
<path d="M248.54 866.82A86.30 86.30 0 0 1 172.70 911.94L172.70 878.14A52.50 52.50 0 0 0 218.84 850.69Z" fill="#e6f1ca"/>
<path d="M172.70 911.94A86.30 86.30 0 0 1 99.28 870.99L128.03 853.23A52.50 52.50 0 0 0 172.70 878.14Z" fill="#f8cbe0"/>
<path d="M99.28 870.99A86.30 86.30 0 0 1 96.64 784.86L126.43 800.83A52.50 52.50 0 0 0 128.03 853.23Z" fill="#f7bc68"/>
<path d="M96.64 784.86A86.30 86.30 0 0 1 172.70 739.34L172.70 773.14A52.50 52.50 0 0 0 126.43 800.83Z" fill="#b3e2f6"/>
<text class="v" x="204.95" y="767.82" transform="rotate(29.15 204.95 767.82)" textLength="39.4" lengthAdjust="spacingAndGlyphs">882.9</text>
<text class="v" x="240.27" y="823.75" transform="rotate(88.4 240.27 823.75)" textLength="31" lengthAdjust="spacingAndGlyphs">0.93</text>
<text class="v" x="207.88" y="884.77" transform="rotate(-30.75 207.88 884.77)" textLength="31" lengthAdjust="spacingAndGlyphs">0.97</text>
<text class="v" x="139.19" y="885.73" transform="rotate(29.15 139.19 885.73)" textLength="39.4" lengthAdjust="spacingAndGlyphs">495.8</text>
<text class="v" x="105.13" y="827.7" transform="rotate(-91.75 105.13 827.7)" textLength="31" lengthAdjust="spacingAndGlyphs">1.80</text>
<text class="v" x="138.7" y="768.84" transform="rotate(-30.9 138.7 768.84)" textLength="39.4" lengthAdjust="spacingAndGlyphs">97.79</text>
<text class="n" x="172.7" y="795.34" textLength="14.22" lengthAdjust="spacingAndGlyphs">11</text>
<text class="s" x="172.7" y="830.64" fill="#e1191f" stroke="#e1191f" textLength="59.15" lengthAdjust="spacingAndGlyphs">Na</text>
<text class="nm" x="172.7" y="847.44" textLength="35.28" lengthAdjust="spacingAndGlyphs">SODIUM</text>
<text class="m" x="172.7" y="860.34" textLength="41.23" lengthAdjust="spacingAndGlyphs">22.990</text>
<path d="M346.08 739.34A86.30 86.30 0 0 1 419.50 780.29L390.75 798.05A52.50 52.50 0 0 0 346.08 773.14Z" fill="#f5aeaf"/>
<path d="M419.50 780.29A86.30 86.30 0 0 1 421.92 866.82L392.22 850.69A52.50 52.50 0 0 0 390.75 798.05Z" fill="#d0bfdb"/>
<path d="M421.92 866.82A86.30 86.30 0 0 1 346.08 911.94L346.08 878.14A52.50 52.50 0 0 0 392.22 850.69Z" fill="#e1edbf"/>
<path d="M346.08 911.94A86.30 86.30 0 0 1 272.66 870.99L301.41 853.23A52.50 52.50 0 0 0 346.08 878.14Z" fill="#f5b2d1"/>
<path d="M272.66 870.99A86.30 86.30 0 0 1 270.02 784.86L299.81 800.83A52.50 52.50 0 0 0 301.41 853.23Z" fill="#f9ca88"/>
<path d="M270.02 784.86A86.30 86.30 0 0 1 346.08 739.34L346.08 773.14A52.50 52.50 0 0 0 299.81 800.83Z" fill="#8ad3f2"/>
<text class="v" x="378.33" y="767.82" transform="rotate(29.15 378.33 767.82)" textLength="33.6" lengthAdjust="spacingAndGlyphs">1090</text>
<text class="v" x="413.65" y="823.75" transform="rotate(88.4 413.65 823.75)" textLength="31" lengthAdjust="spacingAndGlyphs">1.31</text>
<text class="v" x="381.26" y="884.77" transform="rotate(-30.75 381.26 884.77)" textLength="31" lengthAdjust="spacingAndGlyphs">1.74</text>
<text class="v" x="312.57" y="885.73" transform="rotate(29.15 312.57 885.73)" textLength="39.4" lengthAdjust="spacingAndGlyphs">737.7</text>
<text class="v" x="278.51" y="827.7" transform="rotate(-91.75 278.51 827.7)" textLength="31" lengthAdjust="spacingAndGlyphs">1.50</text>
<text class="v" x="312.08" y="768.84" transform="rotate(-30.9 312.08 768.84)" textLength="39.4" lengthAdjust="spacingAndGlyphs">650.0</text>
<text class="n" x="346.08" y="795.34" textLength="14.22" lengthAdjust="spacingAndGlyphs">12</text>
<text class="s" x="346.08" y="827.24" fill="#e1191f" stroke="#e1191f" textLength="57.36" lengthAdjust="spacingAndGlyphs" style="font-size:38.77px">Mg</text>
<text class="nm" x="346.08" y="849.04" textLength="55.45" lengthAdjust="spacingAndGlyphs">MAGNESIUM</text>
<text class="m" x="346.08" y="861.94" textLength="41.23" lengthAdjust="spacingAndGlyphs">24.305</text>
<path d="M2253.26 739.34A86.30 86.30 0 0 1 2326.68 780.29L2297.93 798.05A52.50 52.50 0 0 0 2253.26 773.14Z" fill="#ef8386"/>
<path d="M2326.68 780.29A86.30 86.30 0 0 1 2329.10 866.82L2299.40 850.69A52.50 52.50 0 0 0 2297.93 798.05Z" fill="#c2acd1"/>
<path d="M2329.10 866.82A86.30 86.30 0 0 1 2253.26 911.94L2253.26 878.14A52.50 52.50 0 0 0 2299.40 850.69Z" fill="#dbeab2"/>
<path d="M2253.26 911.94A86.30 86.30 0 0 1 2179.84 870.99L2208.59 853.23A52.50 52.50 0 0 0 2253.26 878.14Z" fill="#f7c2da"/>
<path d="M2179.84 870.99A86.30 86.30 0 0 1 2177.20 784.86L2206.99 800.83A52.50 52.50 0 0 0 2208.59 853.23Z" fill="#fad5a0"/>
<path d="M2177.20 784.86A86.30 86.30 0 0 1 2253.26 739.34L2253.26 773.14A52.50 52.50 0 0 0 2206.99 800.83Z" fill="#89d2f2"/>
<text class="v" x="2285.51" y="767.82" transform="rotate(29.15 2285.51 767.82)" textLength="33.6" lengthAdjust="spacingAndGlyphs">2470</text>
<text class="v" x="2320.83" y="823.75" transform="rotate(88.4 2320.83 823.75)" textLength="31" lengthAdjust="spacingAndGlyphs">1.61</text>
<text class="v" x="2288.44" y="884.77" transform="rotate(-30.75 2288.44 884.77)" textLength="31" lengthAdjust="spacingAndGlyphs">2.70</text>
<text class="v" x="2219.75" y="885.73" transform="rotate(29.15 2219.75 885.73)" textLength="39.4" lengthAdjust="spacingAndGlyphs">577.5</text>
<text class="v" x="2185.69" y="827.7" transform="rotate(-91.75 2185.69 827.7)" textLength="31" lengthAdjust="spacingAndGlyphs">1.25</text>
<text class="v" x="2219.26" y="768.84" transform="rotate(-30.9 2219.26 768.84)" textLength="39.4" lengthAdjust="spacingAndGlyphs">660.3</text>
<text class="n" x="2253.26" y="795.34" textLength="14.22" lengthAdjust="spacingAndGlyphs">13</text>
<text class="s" x="2253.26" y="830.64" fill="#005ea9" stroke="#005ea9" textLength="41.09" lengthAdjust="spacingAndGlyphs">Al</text>
<text class="nm" x="2253.26" y="847.44" textLength="52.86" lengthAdjust="spacingAndGlyphs">ALUMINIUM</text>
<text class="m" x="2253.26" y="860.34" textLength="41.23" lengthAdjust="spacingAndGlyphs">26.982</text>
<path d="M2426.64 739.34A86.30 86.30 0 0 1 2500.06 780.29L2471.31 798.05A52.50 52.50 0 0 0 2426.64 773.14Z" fill="#ec686b"/>
<path d="M2500.06 780.29A86.30 86.30 0 0 1 2502.48 866.82L2472.78 850.69A52.50 52.50 0 0 0 2471.31 798.05Z" fill="#b59ac7"/>
<path d="M2502.48 866.82A86.30 86.30 0 0 1 2426.64 911.94L2426.64 878.14A52.50 52.50 0 0 0 2472.78 850.69Z" fill="#ddebb7"/>
<path d="M2426.64 911.94A86.30 86.30 0 0 1 2353.22 870.99L2381.97 853.23A52.50 52.50 0 0 0 2426.64 878.14Z" fill="#f4aecf"/>
<path d="M2353.22 870.99A86.30 86.30 0 0 1 2350.58 784.86L2380.37 800.83A52.50 52.50 0 0 0 2381.97 853.23Z" fill="#fbdbad"/>
<path d="M2350.58 784.86A86.30 86.30 0 0 1 2426.64 739.34L2426.64 773.14A52.50 52.50 0 0 0 2380.37 800.83Z" fill="#59c0ec"/>
<text class="v" x="2458.89" y="767.82" transform="rotate(29.15 2458.89 767.82)" textLength="33.6" lengthAdjust="spacingAndGlyphs">3265</text>
<text class="v" x="2494.21" y="823.75" transform="rotate(88.4 2494.21 823.75)" textLength="31" lengthAdjust="spacingAndGlyphs">1.90</text>
<text class="v" x="2461.82" y="884.77" transform="rotate(-30.75 2461.82 884.77)" textLength="31" lengthAdjust="spacingAndGlyphs">2.33</text>
<text class="v" x="2393.13" y="885.73" transform="rotate(29.15 2393.13 885.73)" textLength="39.4" lengthAdjust="spacingAndGlyphs">786.5</text>
<text class="v" x="2359.07" y="827.7" transform="rotate(-91.75 2359.07 827.7)" textLength="31" lengthAdjust="spacingAndGlyphs">1.10</text>
<text class="v" x="2392.64" y="768.84" transform="rotate(-30.9 2392.64 768.84)" textLength="33.6" lengthAdjust="spacingAndGlyphs">1414</text>
<text class="n" x="2426.64" y="795.34" textLength="14.22" lengthAdjust="spacingAndGlyphs">14</text>
<text class="s" x="2426.64" y="830.64" fill="#005ea9" stroke="#005ea9" textLength="35.13" lengthAdjust="spacingAndGlyphs">Si</text>
<text class="nm" x="2426.64" y="847.44" textLength="35.99" lengthAdjust="spacingAndGlyphs">SILICON</text>
<text class="m" x="2426.64" y="860.34" textLength="41.23" lengthAdjust="spacingAndGlyphs">28.086</text>
<path d="M2600.02 739.34A86.30 86.30 0 0 1 2673.44 780.29L2644.69 798.05A52.50 52.50 0 0 0 2600.02 773.14Z" fill="#f7c2c3"/>
<path d="M2673.44 780.29A86.30 86.30 0 0 1 2675.86 866.82L2646.16 850.69A52.50 52.50 0 0 0 2644.69 798.05Z" fill="#a888bd"/>
<path d="M2675.86 866.82A86.30 86.30 0 0 1 2600.02 911.94L2600.02 878.14A52.50 52.50 0 0 0 2646.16 850.69Z" fill="#e0edbe"/>
<path d="M2600.02 911.94A86.30 86.30 0 0 1 2526.60 870.99L2555.35 853.23A52.50 52.50 0 0 0 2600.02 878.14Z" fill="#f29ec5"/>
<path d="M2526.60 870.99A86.30 86.30 0 0 1 2523.96 784.86L2553.75 800.83A52.50 52.50 0 0 0 2555.35 853.23Z" fill="#fbdfb5"/>
<path d="M2523.96 784.86A86.30 86.30 0 0 1 2600.02 739.34L2600.02 773.14A52.50 52.50 0 0 0 2553.75 800.83Z" fill="#b7e4f7"/>
<text class="v" x="2632.27" y="767.82" transform="rotate(29.15 2632.27 767.82)" textLength="39.4" lengthAdjust="spacingAndGlyphs">277.0</text>
<text class="v" x="2667.59" y="823.75" transform="rotate(88.4 2667.59 823.75)" textLength="31" lengthAdjust="spacingAndGlyphs">2.19</text>
<text class="v" x="2635.2" y="884.77" transform="rotate(-30.75 2635.2 884.77)" textLength="31" lengthAdjust="spacingAndGlyphs">1.82</text>
<text class="v" x="2566.51" y="885.73" transform="rotate(29.15 2566.51 885.73)" textLength="33.6" lengthAdjust="spacingAndGlyphs">1012</text>
<text class="v" x="2532.45" y="827.7" transform="rotate(-91.75 2532.45 827.7)" textLength="31" lengthAdjust="spacingAndGlyphs">1.00</text>
<text class="v" x="2566.02" y="768.84" transform="rotate(-30.9 2566.02 768.84)" textLength="39.4" lengthAdjust="spacingAndGlyphs">44.15</text>
<text class="n" x="2600.02" y="795.34" textLength="14.22" lengthAdjust="spacingAndGlyphs">15</text>
<text class="s" x="2600.02" y="830.64" fill="#005ea9" stroke="#005ea9" textLength="25.38" lengthAdjust="spacingAndGlyphs">P</text>
<text class="nm" x="2600.02" y="847.44" textLength="60.78" lengthAdjust="spacingAndGlyphs">PHOSPHORUS</text>
<text class="m" x="2600.02" y="860.34" textLength="41.23" lengthAdjust="spacingAndGlyphs">30.974</text>
<path d="M2773.40 739.34A86.30 86.30 0 0 1 2846.82 780.29L2818.07 798.05A52.50 52.50 0 0 0 2773.40 773.14Z" fill="#f7bec0"/>
<path d="M2846.82 780.29A86.30 86.30 0 0 1 2849.24 866.82L2819.54 850.69A52.50 52.50 0 0 0 2818.07 798.05Z" fill="#966fb0"/>
<path d="M2849.24 866.82A86.30 86.30 0 0 1 2773.40 911.94L2773.40 878.14A52.50 52.50 0 0 0 2819.54 850.69Z" fill="#dfecbc"/>
<path d="M2773.40 911.94A86.30 86.30 0 0 1 2699.98 870.99L2728.73 853.23A52.50 52.50 0 0 0 2773.40 878.14Z" fill="#f29fc5"/>
<path d="M2699.98 870.99A86.30 86.30 0 0 1 2697.34 784.86L2727.13 800.83A52.50 52.50 0 0 0 2728.73 853.23Z" fill="#fbdfb5"/>
<path d="M2697.34 784.86A86.30 86.30 0 0 1 2773.40 739.34L2773.40 773.14A52.50 52.50 0 0 0 2727.13 800.83Z" fill="#b3e2f6"/>
<text class="v" x="2805.65" y="767.82" transform="rotate(29.15 2805.65 767.82)" textLength="39.4" lengthAdjust="spacingAndGlyphs">444.6</text>
<text class="v" x="2840.97" y="823.75" transform="rotate(88.4 2840.97 823.75)" textLength="31" lengthAdjust="spacingAndGlyphs">2.58</text>
<text class="v" x="2808.58" y="884.77" transform="rotate(-30.75 2808.58 884.77)" textLength="31" lengthAdjust="spacingAndGlyphs">1.96</text>
<text class="v" x="2739.89" y="885.73" transform="rotate(29.15 2739.89 885.73)" textLength="39.4" lengthAdjust="spacingAndGlyphs">999.6</text>
<text class="v" x="2705.83" y="827.7" transform="rotate(-91.75 2705.83 827.7)" textLength="31" lengthAdjust="spacingAndGlyphs">1.00</text>
<text class="v" x="2739.4" y="768.84" transform="rotate(-30.9 2739.4 768.84)" textLength="39.4" lengthAdjust="spacingAndGlyphs">95.30</text>
<text class="n" x="2773.4" y="795.34" textLength="14.22" lengthAdjust="spacingAndGlyphs">16</text>
<text class="s" x="2773.4" y="830.64" fill="#005ea9" stroke="#005ea9" textLength="22.07" lengthAdjust="spacingAndGlyphs">S</text>
<text class="nm" x="2773.4" y="847.44" textLength="34.68" lengthAdjust="spacingAndGlyphs">SULFUR</text>
<text class="m" x="2773.4" y="860.34" textLength="41.23" lengthAdjust="spacingAndGlyphs">32.065</text>
<path d="M2946.78 739.34A86.30 86.30 0 0 1 3020.20 780.29L2991.45 798.05A52.50 52.50 0 0 0 2946.78 773.14Z" fill="#f8c9ca"/>
<path d="M3020.20 780.29A86.30 86.30 0 0 1 3022.62 866.82L2992.92 850.69A52.50 52.50 0 0 0 2991.45 798.05Z" fill="#7e4f9e"/>
<path d="M3022.62 866.82A86.30 86.30 0 0 1 2946.78 911.94L2946.78 878.14A52.50 52.50 0 0 0 2992.92 850.69Z" fill="#d8e8ac"/>
<path d="M2946.78 911.94A86.30 86.30 0 0 1 2873.36 870.99L2902.11 853.23A52.50 52.50 0 0 0 2946.78 878.14Z" fill="#f08fbb"/>
<path d="M2873.36 870.99A86.30 86.30 0 0 1 2870.72 784.86L2900.51 800.83A52.50 52.50 0 0 0 2902.11 853.23Z" fill="#fbdfb5"/>
<path d="M2870.72 784.86A86.30 86.30 0 0 1 2946.78 739.34L2946.78 773.14A52.50 52.50 0 0 0 2900.51 800.83Z" fill="#c4e9f8"/>
<text class="v" x="2979.03" y="767.82" transform="rotate(29.15 2979.03 767.82)" textLength="41.9" lengthAdjust="spacingAndGlyphs">-34.04</text>
<text class="v" x="3014.35" y="823.75" transform="rotate(88.4 3014.35 823.75)" textLength="31" lengthAdjust="spacingAndGlyphs">3.16</text>
<text class="v" x="2981.96" y="884.77" transform="rotate(-30.75 2981.96 884.77)" textLength="31" lengthAdjust="spacingAndGlyphs" style="fill:#6e6e6e">3.21</text>
<text class="v" x="2913.27" y="885.73" transform="rotate(29.15 2913.27 885.73)" textLength="33.6" lengthAdjust="spacingAndGlyphs">1251</text>
<text class="v" x="2879.21" y="827.7" transform="rotate(-91.75 2879.21 827.7)" textLength="31" lengthAdjust="spacingAndGlyphs">1.00</text>
<text class="v" x="2912.78" y="768.84" transform="rotate(-30.9 2912.78 768.84)" textLength="41.9" lengthAdjust="spacingAndGlyphs">-101.5</text>
<text class="n" x="2946.78" y="795.34" textLength="14.22" lengthAdjust="spacingAndGlyphs">17</text>
<text class="s" x="2946.78" y="830.64" fill="#005ea9" stroke="#005ea9" textLength="38.83" lengthAdjust="spacingAndGlyphs">Cl</text>
<text class="nm" x="2946.78" y="847.44" textLength="45.17" lengthAdjust="spacingAndGlyphs">CHLORINE</text>
<text class="m" x="2946.78" y="860.34" textLength="41.23" lengthAdjust="spacingAndGlyphs">35.453</text>
<path d="M3193.58 780.29A86.30 86.30 0 0 1 3196.00 866.82L3166.30 850.69A52.50 52.50 0 0 0 3164.83 798.05Z" fill="#c0bfbe"/>
<path d="M3120.16 739.34A86.30 86.30 0 0 1 3193.58 780.29L3164.83 798.05A52.50 52.50 0 0 0 3120.16 773.14Z" fill="#f8cbcc"/>
<path d="M3196.00 866.82A86.30 86.30 0 0 1 3120.16 911.94L3120.16 878.14A52.50 52.50 0 0 0 3166.30 850.69Z" fill="#e0edbe"/>
<path d="M3120.16 911.94A86.30 86.30 0 0 1 3046.74 870.99L3075.49 853.23A52.50 52.50 0 0 0 3120.16 878.14Z" fill="#ee7fb2"/>
<path d="M3046.74 870.99A86.30 86.30 0 0 1 3044.10 784.86L3073.89 800.83A52.50 52.50 0 0 0 3075.49 853.23Z" fill="#fce8cb"/>
<path d="M3044.10 784.86A86.30 86.30 0 0 1 3120.16 739.34L3120.16 773.14A52.50 52.50 0 0 0 3073.89 800.83Z" fill="#cdecf9"/>
<text class="v" x="3152.41" y="767.82" transform="rotate(29.15 3152.41 767.82)" textLength="41.9" lengthAdjust="spacingAndGlyphs">-185.8</text>
<text class="v" x="3155.34" y="884.77" transform="rotate(-30.75 3155.34 884.77)" textLength="31" lengthAdjust="spacingAndGlyphs" style="fill:#6e6e6e">1.78</text>
<text class="v" x="3086.65" y="885.73" transform="rotate(29.15 3086.65 885.73)" textLength="33.6" lengthAdjust="spacingAndGlyphs">1521</text>
<text class="v" x="3052.59" y="827.7" transform="rotate(-91.75 3052.59 827.7)" textLength="31" lengthAdjust="spacingAndGlyphs">0.71</text>
<text class="v" x="3086.16" y="768.84" transform="rotate(-30.9 3086.16 768.84)" textLength="41.9" lengthAdjust="spacingAndGlyphs">-189.3</text>
<text class="n" x="3120.16" y="795.34" textLength="14.22" lengthAdjust="spacingAndGlyphs">18</text>
<text class="s" x="3120.16" y="830.64" fill="#005ea9" stroke="#005ea9" textLength="47.47" lengthAdjust="spacingAndGlyphs">Ar</text>
<text class="nm" x="3120.16" y="847.44" textLength="30.62" lengthAdjust="spacingAndGlyphs">ARGON</text>
<text class="m" x="3120.16" y="860.34" textLength="41.23" lengthAdjust="spacingAndGlyphs">39.948</text>
<path d="M172.70 912.71A86.30 86.30 0 0 1 246.12 953.66L217.37 971.42A52.50 52.50 0 0 0 172.70 946.51Z" fill="#f6b6b8"/>
<path d="M246.12 953.66A86.30 86.30 0 0 1 248.54 1040.19L218.84 1024.06A52.50 52.50 0 0 0 217.37 971.42Z" fill="#e6ddec"/>
<path d="M248.54 1040.19A86.30 86.30 0 0 1 172.70 1085.31L172.70 1051.51A52.50 52.50 0 0 0 218.84 1024.06Z" fill="#e7f1cc"/>
<path d="M172.70 1085.31A86.30 86.30 0 0 1 99.28 1044.36L128.03 1026.60A52.50 52.50 0 0 0 172.70 1051.51Z" fill="#fad7e7"/>
<path d="M99.28 1044.36A86.30 86.30 0 0 1 96.64 958.23L126.43 974.20A52.50 52.50 0 0 0 128.03 1026.60Z" fill="#f5a83a"/>
<path d="M96.64 958.23A86.30 86.30 0 0 1 172.70 912.71L172.70 946.51A52.50 52.50 0 0 0 126.43 974.20Z" fill="#b6e3f7"/>
<text class="v" x="204.95" y="941.19" transform="rotate(29.15 204.95 941.19)" textLength="39.4" lengthAdjust="spacingAndGlyphs">759.0</text>
<text class="v" x="240.27" y="997.12" transform="rotate(88.4 240.27 997.12)" textLength="31" lengthAdjust="spacingAndGlyphs">0.82</text>
<text class="v" x="207.88" y="1058.14" transform="rotate(-30.75 207.88 1058.14)" textLength="31" lengthAdjust="spacingAndGlyphs">0.86</text>
<text class="v" x="139.19" y="1059.1" transform="rotate(29.15 139.19 1059.1)" textLength="39.4" lengthAdjust="spacingAndGlyphs">418.8</text>
<text class="v" x="105.13" y="1001.07" transform="rotate(-91.75 105.13 1001.07)" textLength="31" lengthAdjust="spacingAndGlyphs">2.20</text>
<text class="v" x="138.7" y="942.21" transform="rotate(-30.9 138.7 942.21)" textLength="39.4" lengthAdjust="spacingAndGlyphs">63.50</text>
<text class="n" x="172.7" y="968.71" textLength="14.22" lengthAdjust="spacingAndGlyphs">19</text>
<text class="s" x="172.7" y="1004.01" fill="#e1191f" stroke="#e1191f" textLength="26.92" lengthAdjust="spacingAndGlyphs">K</text>
<text class="nm" x="172.7" y="1020.81" textLength="52" lengthAdjust="spacingAndGlyphs">POTASSIUM</text>
<text class="m" x="172.7" y="1033.71" textLength="41.23" lengthAdjust="spacingAndGlyphs">39.098</text>
<path d="M346.08 912.71A86.30 86.30 0 0 1 419.50 953.66L390.75 971.42A52.50 52.50 0 0 0 346.08 946.51Z" fill="#f3a2a4"/>
<path d="M419.50 953.66A86.30 86.30 0 0 1 421.92 1040.19L392.22 1024.06A52.50 52.50 0 0 0 390.75 971.42Z" fill="#ded2e6"/>
<path d="M421.92 1040.19A86.30 86.30 0 0 1 346.08 1085.31L346.08 1051.51A52.50 52.50 0 0 0 392.22 1024.06Z" fill="#e2eec1"/>
<path d="M346.08 1085.31A86.30 86.30 0 0 1 272.66 1044.36L301.41 1026.60A52.50 52.50 0 0 0 346.08 1051.51Z" fill="#f6c0d9"/>
<path d="M272.66 1044.36A86.30 86.30 0 0 1 270.02 958.23L299.81 974.20A52.50 52.50 0 0 0 301.41 1026.60Z" fill="#f7bc68"/>
<path d="M270.02 958.23A86.30 86.30 0 0 1 346.08 912.71L346.08 946.51A52.50 52.50 0 0 0 299.81 974.20Z" fill="#7dcef0"/>
<text class="v" x="378.33" y="941.19" transform="rotate(29.15 378.33 941.19)" textLength="33.6" lengthAdjust="spacingAndGlyphs">1484</text>
<text class="v" x="413.65" y="997.12" transform="rotate(88.4 413.65 997.12)" textLength="31" lengthAdjust="spacingAndGlyphs">1.00</text>
<text class="v" x="381.26" y="1058.14" transform="rotate(-30.75 381.26 1058.14)" textLength="31" lengthAdjust="spacingAndGlyphs">1.55</text>
<text class="v" x="312.57" y="1059.1" transform="rotate(29.15 312.57 1059.1)" textLength="39.4" lengthAdjust="spacingAndGlyphs">589.8</text>
<text class="v" x="278.51" y="1001.07" transform="rotate(-91.75 278.51 1001.07)" textLength="31" lengthAdjust="spacingAndGlyphs">1.80</text>
<text class="v" x="312.08" y="942.21" transform="rotate(-30.9 312.08 942.21)" textLength="39.4" lengthAdjust="spacingAndGlyphs">842.0</text>
<text class="n" x="346.08" y="968.71" textLength="14.22" lengthAdjust="spacingAndGlyphs">20</text>
<text class="s" x="346.08" y="1004.01" fill="#e1191f" stroke="#e1191f" textLength="51.62" lengthAdjust="spacingAndGlyphs">Ca</text>
<text class="nm" x="346.08" y="1020.81" textLength="40.5" lengthAdjust="spacingAndGlyphs">CALCIUM</text>
<text class="m" x="346.08" y="1033.71" textLength="41.23" lengthAdjust="spacingAndGlyphs">40.078</text>
<path d="M519.46 912.71A86.30 86.30 0 0 1 592.88 953.66L564.13 971.42A52.50 52.50 0 0 0 519.46 946.51Z" fill="#ee777a"/>
<path d="M592.88 953.66A86.30 86.30 0 0 1 595.30 1040.19L565.60 1024.06A52.50 52.50 0 0 0 564.13 971.42Z" fill="#cdbbda"/>
<path d="M595.30 1040.19A86.30 86.30 0 0 1 519.46 1085.31L519.46 1051.51A52.50 52.50 0 0 0 565.60 1024.06Z" fill="#d9e9af"/>
<path d="M519.46 1085.31A86.30 86.30 0 0 1 446.04 1044.36L474.79 1026.60A52.50 52.50 0 0 0 519.46 1051.51Z" fill="#f6bcd7"/>
<path d="M446.04 1044.36A86.30 86.30 0 0 1 443.40 958.23L473.19 974.20A52.50 52.50 0 0 0 474.79 1026.60Z" fill="#f8c67d"/>
<path d="M443.40 958.23A86.30 86.30 0 0 1 519.46 912.71L519.46 946.51A52.50 52.50 0 0 0 473.19 974.20Z" fill="#52bdeb"/>
<text class="v" x="551.71" y="941.19" transform="rotate(29.15 551.71 941.19)" textLength="33.6" lengthAdjust="spacingAndGlyphs">2836</text>
<text class="v" x="587.03" y="997.12" transform="rotate(88.4 587.03 997.12)" textLength="31" lengthAdjust="spacingAndGlyphs">1.36</text>
<text class="v" x="554.64" y="1058.14" transform="rotate(-30.75 554.64 1058.14)" textLength="31" lengthAdjust="spacingAndGlyphs">2.99</text>
<text class="v" x="485.95" y="1059.1" transform="rotate(29.15 485.95 1059.1)" textLength="39.4" lengthAdjust="spacingAndGlyphs">633.1</text>
<text class="v" x="451.89" y="1001.07" transform="rotate(-91.75 451.89 1001.07)" textLength="31" lengthAdjust="spacingAndGlyphs">1.60</text>
<text class="v" x="485.46" y="942.21" transform="rotate(-30.9 485.46 942.21)" textLength="33.6" lengthAdjust="spacingAndGlyphs">1541</text>
<text class="n" x="519.46" y="968.71" textLength="14.22" lengthAdjust="spacingAndGlyphs">21</text>
<text class="s" x="519.46" y="1004.01" fill="#f8a922" stroke="#f8a922" textLength="44.08" lengthAdjust="spacingAndGlyphs">Sc</text>
<text class="nm" x="519.46" y="1020.81" textLength="47.83" lengthAdjust="spacingAndGlyphs">SCANDIUM</text>
<text class="m" x="519.46" y="1033.71" textLength="41.23" lengthAdjust="spacingAndGlyphs">44.956</text>
<path d="M692.84 912.71A86.30 86.30 0 0 1 766.26 953.66L737.51 971.42A52.50 52.50 0 0 0 692.84 946.51Z" fill="#ec676a"/>
<path d="M766.26 953.66A86.30 86.30 0 0 1 768.68 1040.19L738.98 1024.06A52.50 52.50 0 0 0 737.51 971.42Z" fill="#c5b0d4"/>
<path d="M768.68 1040.19A86.30 86.30 0 0 1 692.84 1085.31L692.84 1051.51A52.50 52.50 0 0 0 738.98 1024.06Z" fill="#d2e49f"/>
<path d="M692.84 1085.31A86.30 86.30 0 0 1 619.42 1044.36L648.17 1026.60A52.50 52.50 0 0 0 692.84 1051.51Z" fill="#f5bad5"/>
<path d="M619.42 1044.36A86.30 86.30 0 0 1 616.78 958.23L646.57 974.20A52.50 52.50 0 0 0 648.17 1026.60Z" fill="#f9cf91"/>
<path d="M616.78 958.23A86.30 86.30 0 0 1 692.84 912.71L692.84 946.51A52.50 52.50 0 0 0 646.57 974.20Z" fill="#4abaea"/>
<text class="v" x="725.09" y="941.19" transform="rotate(29.15 725.09 941.19)" textLength="33.6" lengthAdjust="spacingAndGlyphs">3287</text>
<text class="v" x="760.41" y="997.12" transform="rotate(88.4 760.41 997.12)" textLength="31" lengthAdjust="spacingAndGlyphs">1.54</text>
<text class="v" x="728.02" y="1058.14" transform="rotate(-30.75 728.02 1058.14)" textLength="31" lengthAdjust="spacingAndGlyphs">4.51</text>
<text class="v" x="659.33" y="1059.1" transform="rotate(29.15 659.33 1059.1)" textLength="39.4" lengthAdjust="spacingAndGlyphs">658.8</text>
<text class="v" x="625.27" y="1001.07" transform="rotate(-91.75 625.27 1001.07)" textLength="31" lengthAdjust="spacingAndGlyphs">1.40</text>
<text class="v" x="658.84" y="942.21" transform="rotate(-30.9 658.84 942.21)" textLength="33.6" lengthAdjust="spacingAndGlyphs">1668</text>
<text class="n" x="692.84" y="968.71" textLength="14.22" lengthAdjust="spacingAndGlyphs">22</text>
<text class="s" x="692.84" y="1004.01" fill="#f8a922" stroke="#f8a922" textLength="36.35" lengthAdjust="spacingAndGlyphs">Ti</text>
<text class="nm" x="692.84" y="1020.81" textLength="43.87" lengthAdjust="spacingAndGlyphs">TITANIUM</text>
<text class="m" x="692.84" y="1033.71" textLength="41.23" lengthAdjust="spacingAndGlyphs">47.867</text>
<path d="M866.22 912.71A86.30 86.30 0 0 1 939.64 953.66L910.89 971.42A52.50 52.50 0 0 0 866.22 946.51Z" fill="#eb6366"/>
<path d="M939.64 953.66A86.30 86.30 0 0 1 942.06 1040.19L912.36 1024.06A52.50 52.50 0 0 0 910.89 971.42Z" fill="#c1abd1"/>
<path d="M942.06 1040.19A86.30 86.30 0 0 1 866.22 1085.31L866.22 1051.51A52.50 52.50 0 0 0 912.36 1024.06Z" fill="#cae090"/>
<path d="M866.22 1085.31A86.30 86.30 0 0 1 792.80 1044.36L821.55 1026.60A52.50 52.50 0 0 0 866.22 1051.51Z" fill="#f6bad6"/>
<path d="M792.80 1044.36A86.30 86.30 0 0 1 790.16 958.23L819.95 974.20A52.50 52.50 0 0 0 821.55 1026.60Z" fill="#f9d196"/>
<path d="M790.16 958.23A86.30 86.30 0 0 1 866.22 912.71L866.22 946.51A52.50 52.50 0 0 0 819.95 974.20Z" fill="#3cb5e9"/>
<text class="v" x="898.47" y="941.19" transform="rotate(29.15 898.47 941.19)" textLength="33.6" lengthAdjust="spacingAndGlyphs">3407</text>
<text class="v" x="933.79" y="997.12" transform="rotate(88.4 933.79 997.12)" textLength="31" lengthAdjust="spacingAndGlyphs">1.63</text>
<text class="v" x="901.4" y="1058.14" transform="rotate(-30.75 901.4 1058.14)" textLength="31" lengthAdjust="spacingAndGlyphs">6.11</text>
<text class="v" x="832.71" y="1059.1" transform="rotate(29.15 832.71 1059.1)" textLength="39.4" lengthAdjust="spacingAndGlyphs">650.9</text>
<text class="v" x="798.65" y="1001.07" transform="rotate(-91.75 798.65 1001.07)" textLength="31" lengthAdjust="spacingAndGlyphs">1.35</text>
<text class="v" x="832.22" y="942.21" transform="rotate(-30.9 832.22 942.21)" textLength="33.6" lengthAdjust="spacingAndGlyphs">1910</text>
<text class="n" x="866.22" y="968.71" textLength="14.22" lengthAdjust="spacingAndGlyphs">23</text>
<text class="s" x="866.22" y="1004.01" fill="#f8a922" stroke="#f8a922" textLength="26.32" lengthAdjust="spacingAndGlyphs">V</text>
<text class="nm" x="866.22" y="1020.81" textLength="47.83" lengthAdjust="spacingAndGlyphs">VANADIUM</text>
<text class="m" x="866.22" y="1033.71" textLength="41.23" lengthAdjust="spacingAndGlyphs">50.942</text>
<path d="M1039.60 912.71A86.30 86.30 0 0 1 1113.02 953.66L1084.27 971.42A52.50 52.50 0 0 0 1039.60 946.51Z" fill="#ef8385"/>
<path d="M1113.02 953.66A86.30 86.30 0 0 1 1115.44 1040.19L1085.74 1024.06A52.50 52.50 0 0 0 1084.27 971.42Z" fill="#c0a9cf"/>
<path d="M1115.44 1040.19A86.30 86.30 0 0 1 1039.60 1085.31L1039.60 1051.51A52.50 52.50 0 0 0 1085.74 1024.06Z" fill="#c6de87"/>
<path d="M1039.60 1085.31A86.30 86.30 0 0 1 966.18 1044.36L994.93 1026.60A52.50 52.50 0 0 0 1039.60 1051.51Z" fill="#f6bad6"/>
<path d="M966.18 1044.36A86.30 86.30 0 0 1 963.54 958.23L993.33 974.20A52.50 52.50 0 0 0 994.93 1026.60Z" fill="#f9cf91"/>
<path d="M963.54 958.23A86.30 86.30 0 0 1 1039.60 912.71L1039.60 946.51A52.50 52.50 0 0 0 993.33 974.20Z" fill="#3cb5e9"/>
<text class="v" x="1071.85" y="941.19" transform="rotate(29.15 1071.85 941.19)" textLength="33.6" lengthAdjust="spacingAndGlyphs">2482</text>
<text class="v" x="1107.17" y="997.12" transform="rotate(88.4 1107.17 997.12)" textLength="31" lengthAdjust="spacingAndGlyphs">1.66</text>
<text class="v" x="1074.78" y="1058.14" transform="rotate(-30.75 1074.78 1058.14)" textLength="31" lengthAdjust="spacingAndGlyphs">7.14</text>
<text class="v" x="1006.09" y="1059.1" transform="rotate(29.15 1006.09 1059.1)" textLength="39.4" lengthAdjust="spacingAndGlyphs">652.9</text>
<text class="v" x="972.03" y="1001.07" transform="rotate(-91.75 972.03 1001.07)" textLength="31" lengthAdjust="spacingAndGlyphs">1.40</text>
<text class="v" x="1005.6" y="942.21" transform="rotate(-30.9 1005.6 942.21)" textLength="33.6" lengthAdjust="spacingAndGlyphs">1907</text>
<text class="n" x="1039.6" y="968.71" textLength="14.22" lengthAdjust="spacingAndGlyphs">24</text>
<text class="s" x="1039.6" y="1004.01" fill="#f8a922" stroke="#f8a922" textLength="45.21" lengthAdjust="spacingAndGlyphs">Cr</text>
<text class="nm" x="1039.6" y="1020.81" textLength="49.97" lengthAdjust="spacingAndGlyphs">CHROMIUM</text>
<text class="m" x="1039.6" y="1033.71" textLength="41.23" lengthAdjust="spacingAndGlyphs">51.996</text>
<path d="M1212.98 912.71A86.30 86.30 0 0 1 1286.40 953.66L1257.65 971.42A52.50 52.50 0 0 0 1212.98 946.51Z" fill="#f19093"/>
<path d="M1286.40 953.66A86.30 86.30 0 0 1 1288.82 1040.19L1259.12 1024.06A52.50 52.50 0 0 0 1257.65 971.42Z" fill="#c5b0d3"/>
<path d="M1288.82 1040.19A86.30 86.30 0 0 1 1212.98 1085.31L1212.98 1051.51A52.50 52.50 0 0 0 1259.12 1024.06Z" fill="#c5dd84"/>
<path d="M1212.98 1085.31A86.30 86.30 0 0 1 1139.56 1044.36L1168.31 1026.60A52.50 52.50 0 0 0 1212.98 1051.51Z" fill="#f5b4d2"/>
<path d="M1139.56 1044.36A86.30 86.30 0 0 1 1136.92 958.23L1166.71 974.20A52.50 52.50 0 0 0 1168.31 1026.60Z" fill="#f9cf91"/>
<path d="M1136.92 958.23A86.30 86.30 0 0 1 1212.98 912.71L1212.98 946.51A52.50 52.50 0 0 0 1166.71 974.20Z" fill="#63c4ed"/>
<text class="v" x="1245.23" y="941.19" transform="rotate(29.15 1245.23 941.19)" textLength="33.6" lengthAdjust="spacingAndGlyphs">2061</text>
<text class="v" x="1280.55" y="997.12" transform="rotate(88.4 1280.55 997.12)" textLength="31" lengthAdjust="spacingAndGlyphs">1.55</text>
<text class="v" x="1248.16" y="1058.14" transform="rotate(-30.75 1248.16 1058.14)" textLength="31" lengthAdjust="spacingAndGlyphs">7.47</text>
<text class="v" x="1179.47" y="1059.1" transform="rotate(29.15 1179.47 1059.1)" textLength="39.4" lengthAdjust="spacingAndGlyphs">717.3</text>
<text class="v" x="1145.41" y="1001.07" transform="rotate(-91.75 1145.41 1001.07)" textLength="31" lengthAdjust="spacingAndGlyphs">1.40</text>
<text class="v" x="1178.98" y="942.21" transform="rotate(-30.9 1178.98 942.21)" textLength="33.6" lengthAdjust="spacingAndGlyphs">1246</text>
<text class="n" x="1212.98" y="968.71" textLength="14.22" lengthAdjust="spacingAndGlyphs">25</text>
<text class="s" x="1212.98" y="1004.01" fill="#f8a922" stroke="#f8a922" textLength="66.98" lengthAdjust="spacingAndGlyphs">Mn</text>
<text class="nm" x="1212.98" y="1020.81" textLength="56.29" lengthAdjust="spacingAndGlyphs">MANGANESE</text>
<text class="m" x="1212.98" y="1033.71" textLength="41.23" lengthAdjust="spacingAndGlyphs">54.938</text>
<path d="M1386.36 912.71A86.30 86.30 0 0 1 1459.78 953.66L1431.03 971.42A52.50 52.50 0 0 0 1386.36 946.51Z" fill="#ee7679"/>
<path d="M1459.78 953.66A86.30 86.30 0 0 1 1462.20 1040.19L1432.50 1024.06A52.50 52.50 0 0 0 1431.03 971.42Z" fill="#b89eca"/>
<path d="M1462.20 1040.19A86.30 86.30 0 0 1 1386.36 1085.31L1386.36 1051.51A52.50 52.50 0 0 0 1432.50 1024.06Z" fill="#c3dc80"/>
<path d="M1386.36 1085.31A86.30 86.30 0 0 1 1312.94 1044.36L1341.69 1026.60A52.50 52.50 0 0 0 1386.36 1051.51Z" fill="#f4b0d0"/>
<path d="M1312.94 1044.36A86.30 86.30 0 0 1 1310.30 958.23L1340.09 974.20A52.50 52.50 0 0 0 1341.69 1026.60Z" fill="#f9cf91"/>
<path d="M1310.30 958.23A86.30 86.30 0 0 1 1386.36 912.71L1386.36 946.51A52.50 52.50 0 0 0 1340.09 974.20Z" fill="#52bdeb"/>
<text class="v" x="1418.61" y="941.19" transform="rotate(29.15 1418.61 941.19)" textLength="33.6" lengthAdjust="spacingAndGlyphs">2861</text>
<text class="v" x="1453.93" y="997.12" transform="rotate(88.4 1453.93 997.12)" textLength="31" lengthAdjust="spacingAndGlyphs">1.83</text>
<text class="v" x="1421.54" y="1058.14" transform="rotate(-30.75 1421.54 1058.14)" textLength="31" lengthAdjust="spacingAndGlyphs">7.87</text>
<text class="v" x="1352.85" y="1059.1" transform="rotate(29.15 1352.85 1059.1)" textLength="39.4" lengthAdjust="spacingAndGlyphs">762.5</text>
<text class="v" x="1318.79" y="1001.07" transform="rotate(-91.75 1318.79 1001.07)" textLength="31" lengthAdjust="spacingAndGlyphs">1.40</text>
<text class="v" x="1352.36" y="942.21" transform="rotate(-30.9 1352.36 942.21)" textLength="33.6" lengthAdjust="spacingAndGlyphs">1538</text>
<text class="n" x="1386.36" y="968.71" textLength="14.22" lengthAdjust="spacingAndGlyphs">26</text>
<text class="s" x="1386.36" y="1004.01" fill="#f8a922" stroke="#f8a922" textLength="47.28" lengthAdjust="spacingAndGlyphs">Fe</text>
<text class="nm" x="1386.36" y="1020.81" textLength="21.66" lengthAdjust="spacingAndGlyphs">IRON</text>
<text class="m" x="1386.36" y="1033.71" textLength="41.23" lengthAdjust="spacingAndGlyphs">55.845</text>
<path d="M1559.74 912.71A86.30 86.30 0 0 1 1633.16 953.66L1604.41 971.42A52.50 52.50 0 0 0 1559.74 946.51Z" fill="#ee7377"/>
<path d="M1633.16 953.66A86.30 86.30 0 0 1 1635.58 1040.19L1605.88 1024.06A52.50 52.50 0 0 0 1604.41 971.42Z" fill="#b69bc8"/>
<path d="M1635.58 1040.19A86.30 86.30 0 0 1 1559.74 1085.31L1559.74 1051.51A52.50 52.50 0 0 0 1605.88 1024.06Z" fill="#bfda78"/>
<path d="M1559.74 1085.31A86.30 86.30 0 0 1 1486.32 1044.36L1515.07 1026.60A52.50 52.50 0 0 0 1559.74 1051.51Z" fill="#f4b1d0"/>
<path d="M1486.32 1044.36A86.30 86.30 0 0 1 1483.68 958.23L1513.47 974.20A52.50 52.50 0 0 0 1515.07 1026.60Z" fill="#f9d196"/>
<path d="M1483.68 958.23A86.30 86.30 0 0 1 1559.74 912.71L1559.74 946.51A52.50 52.50 0 0 0 1513.47 974.20Z" fill="#54beec"/>
<text class="v" x="1591.99" y="941.19" transform="rotate(29.15 1591.99 941.19)" textLength="33.6" lengthAdjust="spacingAndGlyphs">2927</text>
<text class="v" x="1627.31" y="997.12" transform="rotate(88.4 1627.31 997.12)" textLength="31" lengthAdjust="spacingAndGlyphs">1.88</text>
<text class="v" x="1594.92" y="1058.14" transform="rotate(-30.75 1594.92 1058.14)" textLength="31" lengthAdjust="spacingAndGlyphs">8.90</text>
<text class="v" x="1526.23" y="1059.1" transform="rotate(29.15 1526.23 1059.1)" textLength="39.4" lengthAdjust="spacingAndGlyphs">760.4</text>
<text class="v" x="1492.17" y="1001.07" transform="rotate(-91.75 1492.17 1001.07)" textLength="31" lengthAdjust="spacingAndGlyphs">1.35</text>
<text class="v" x="1525.74" y="942.21" transform="rotate(-30.9 1525.74 942.21)" textLength="33.6" lengthAdjust="spacingAndGlyphs">1495</text>
<text class="n" x="1559.74" y="968.71" textLength="14.22" lengthAdjust="spacingAndGlyphs">27</text>
<text class="s" x="1559.74" y="1004.01" fill="#f8a922" stroke="#f8a922" textLength="52.27" lengthAdjust="spacingAndGlyphs">Co</text>
<text class="nm" x="1559.74" y="1020.81" textLength="34.04" lengthAdjust="spacingAndGlyphs">COBALT</text>
<text class="m" x="1559.74" y="1033.71" textLength="41.23" lengthAdjust="spacingAndGlyphs">58.933</text>
<path d="M1733.12 912.71A86.30 86.30 0 0 1 1806.54 953.66L1777.79 971.42A52.50 52.50 0 0 0 1733.12 946.51Z" fill="#ee7a7d"/>
<path d="M1806.54 953.66A86.30 86.30 0 0 1 1808.96 1040.19L1779.26 1024.06A52.50 52.50 0 0 0 1777.79 971.42Z" fill="#b499c7"/>
<path d="M1808.96 1040.19A86.30 86.30 0 0 1 1733.12 1085.31L1733.12 1051.51A52.50 52.50 0 0 0 1779.26 1024.06Z" fill="#bfda78"/>
<path d="M1733.12 1085.31A86.30 86.30 0 0 1 1659.70 1044.36L1688.45 1026.60A52.50 52.50 0 0 0 1733.12 1051.51Z" fill="#f5b3d1"/>
<path d="M1659.70 1044.36A86.30 86.30 0 0 1 1657.06 958.23L1686.85 974.20A52.50 52.50 0 0 0 1688.45 1026.60Z" fill="#f9d196"/>
<path d="M1657.06 958.23A86.30 86.30 0 0 1 1733.12 912.71L1733.12 946.51A52.50 52.50 0 0 0 1686.85 974.20Z" fill="#57bfec"/>
<text class="v" x="1765.37" y="941.19" transform="rotate(29.15 1765.37 941.19)" textLength="33.6" lengthAdjust="spacingAndGlyphs">2730</text>
<text class="v" x="1800.69" y="997.12" transform="rotate(88.4 1800.69 997.12)" textLength="31" lengthAdjust="spacingAndGlyphs">1.91</text>
<text class="v" x="1768.3" y="1058.14" transform="rotate(-30.75 1768.3 1058.14)" textLength="31" lengthAdjust="spacingAndGlyphs">8.91</text>
<text class="v" x="1699.61" y="1059.1" transform="rotate(29.15 1699.61 1059.1)" textLength="39.4" lengthAdjust="spacingAndGlyphs">737.1</text>
<text class="v" x="1665.55" y="1001.07" transform="rotate(-91.75 1665.55 1001.07)" textLength="31" lengthAdjust="spacingAndGlyphs">1.35</text>
<text class="v" x="1699.12" y="942.21" transform="rotate(-30.9 1699.12 942.21)" textLength="33.6" lengthAdjust="spacingAndGlyphs">1455</text>
<text class="n" x="1733.12" y="968.71" textLength="14.22" lengthAdjust="spacingAndGlyphs">28</text>
<text class="s" x="1733.12" y="1004.01" fill="#f8a922" stroke="#f8a922" textLength="46.36" lengthAdjust="spacingAndGlyphs">Ni</text>
<text class="nm" x="1733.12" y="1020.81" textLength="32.7" lengthAdjust="spacingAndGlyphs">NICKEL</text>
<text class="m" x="1733.12" y="1033.71" textLength="41.23" lengthAdjust="spacingAndGlyphs">58.693</text>
<path d="M1906.50 912.71A86.30 86.30 0 0 1 1979.92 953.66L1951.17 971.42A52.50 52.50 0 0 0 1906.50 946.51Z" fill="#ef8083"/>
<path d="M1979.92 953.66A86.30 86.30 0 0 1 1982.34 1040.19L1952.64 1024.06A52.50 52.50 0 0 0 1951.17 971.42Z" fill="#b59ac7"/>
<path d="M1982.34 1040.19A86.30 86.30 0 0 1 1906.50 1085.31L1906.50 1051.51A52.50 52.50 0 0 0 1952.64 1024.06Z" fill="#bfda78"/>
<path d="M1906.50 1085.31A86.30 86.30 0 0 1 1833.08 1044.36L1861.83 1026.60A52.50 52.50 0 0 0 1906.50 1051.51Z" fill="#f4b2d1"/>
<path d="M1833.08 1044.36A86.30 86.30 0 0 1 1830.44 958.23L1860.23 974.20A52.50 52.50 0 0 0 1861.83 1026.60Z" fill="#f9d196"/>
<path d="M1830.44 958.23A86.30 86.30 0 0 1 1906.50 912.71L1906.50 946.51A52.50 52.50 0 0 0 1860.23 974.20Z" fill="#6ec8ee"/>
<text class="v" x="1938.75" y="941.19" transform="rotate(29.15 1938.75 941.19)" textLength="33.6" lengthAdjust="spacingAndGlyphs">2562</text>
<text class="v" x="1974.07" y="997.12" transform="rotate(88.4 1974.07 997.12)" textLength="31" lengthAdjust="spacingAndGlyphs">1.90</text>
<text class="v" x="1941.68" y="1058.14" transform="rotate(-30.75 1941.68 1058.14)" textLength="31" lengthAdjust="spacingAndGlyphs">8.92</text>
<text class="v" x="1872.99" y="1059.1" transform="rotate(29.15 1872.99 1059.1)" textLength="39.4" lengthAdjust="spacingAndGlyphs">745.5</text>
<text class="v" x="1838.93" y="1001.07" transform="rotate(-91.75 1838.93 1001.07)" textLength="31" lengthAdjust="spacingAndGlyphs">1.35</text>
<text class="v" x="1872.5" y="942.21" transform="rotate(-30.9 1872.5 942.21)" textLength="33.6" lengthAdjust="spacingAndGlyphs">1085</text>
<text class="n" x="1906.5" y="968.71" textLength="14.22" lengthAdjust="spacingAndGlyphs">29</text>
<text class="s" x="1906.5" y="1004.01" fill="#f8a922" stroke="#f8a922" textLength="53.9" lengthAdjust="spacingAndGlyphs">Cu</text>
<text class="nm" x="1906.5" y="1020.81" textLength="35.46" lengthAdjust="spacingAndGlyphs">COPPER</text>
<text class="m" x="1906.5" y="1033.71" textLength="41.23" lengthAdjust="spacingAndGlyphs">63.546</text>
<path d="M2079.88 912.71A86.30 86.30 0 0 1 2153.30 953.66L2124.55 971.42A52.50 52.50 0 0 0 2079.88 946.51Z" fill="#f5b3b4"/>
<path d="M2153.30 953.66A86.30 86.30 0 0 1 2155.72 1040.19L2126.02 1024.06A52.50 52.50 0 0 0 2124.55 971.42Z" fill="#c0a9d0"/>
<path d="M2155.72 1040.19A86.30 86.30 0 0 1 2079.88 1085.31L2079.88 1051.51A52.50 52.50 0 0 0 2126.02 1024.06Z" fill="#c6de87"/>
<path d="M2079.88 1085.31A86.30 86.30 0 0 1 2006.46 1044.36L2035.21 1026.60A52.50 52.50 0 0 0 2079.88 1051.51Z" fill="#f3a5c9"/>
<path d="M2006.46 1044.36A86.30 86.30 0 0 1 2003.82 958.23L2033.61 974.20A52.50 52.50 0 0 0 2035.21 1026.60Z" fill="#f9d196"/>
<path d="M2003.82 958.23A86.30 86.30 0 0 1 2079.88 912.71L2079.88 946.51A52.50 52.50 0 0 0 2033.61 974.20Z" fill="#9ad9f4"/>
<text class="v" x="2112.13" y="941.19" transform="rotate(29.15 2112.13 941.19)" textLength="39.4" lengthAdjust="spacingAndGlyphs">907.0</text>
<text class="v" x="2147.45" y="997.12" transform="rotate(88.4 2147.45 997.12)" textLength="31" lengthAdjust="spacingAndGlyphs">1.65</text>
<text class="v" x="2115.06" y="1058.14" transform="rotate(-30.75 2115.06 1058.14)" textLength="31" lengthAdjust="spacingAndGlyphs">7.14</text>
<text class="v" x="2046.37" y="1059.1" transform="rotate(29.15 2046.37 1059.1)" textLength="39.4" lengthAdjust="spacingAndGlyphs">906.4</text>
<text class="v" x="2012.31" y="1001.07" transform="rotate(-91.75 2012.31 1001.07)" textLength="31" lengthAdjust="spacingAndGlyphs">1.35</text>
<text class="v" x="2045.88" y="942.21" transform="rotate(-30.9 2045.88 942.21)" textLength="39.4" lengthAdjust="spacingAndGlyphs">419.5</text>
<text class="n" x="2079.88" y="968.71" textLength="14.22" lengthAdjust="spacingAndGlyphs">30</text>
<text class="s" x="2079.88" y="1004.01" fill="#f8a922" stroke="#f8a922" textLength="51.41" lengthAdjust="spacingAndGlyphs">Zn</text>
<text class="nm" x="2079.88" y="1020.81" textLength="20.86" lengthAdjust="spacingAndGlyphs">ZINC</text>
<text class="m" x="2079.88" y="1033.71" textLength="41.23" lengthAdjust="spacingAndGlyphs">65.382</text>
<path d="M2253.26 912.71A86.30 86.30 0 0 1 2326.68 953.66L2297.93 971.42A52.50 52.50 0 0 0 2253.26 946.51Z" fill="#f08588"/>
<path d="M2326.68 953.66A86.30 86.30 0 0 1 2329.10 1040.19L2299.40 1024.06A52.50 52.50 0 0 0 2297.93 971.42Z" fill="#b99fca"/>
<path d="M2329.10 1040.19A86.30 86.30 0 0 1 2253.26 1085.31L2253.26 1051.51A52.50 52.50 0 0 0 2299.40 1024.06Z" fill="#cbe191"/>
<path d="M2253.26 1085.31A86.30 86.30 0 0 1 2179.84 1044.36L2208.59 1026.60A52.50 52.50 0 0 0 2253.26 1051.51Z" fill="#f7c1da"/>
<path d="M2179.84 1044.36A86.30 86.30 0 0 1 2177.20 958.23L2206.99 974.20A52.50 52.50 0 0 0 2208.59 1026.60Z" fill="#fad39b"/>
<path d="M2177.20 958.23A86.30 86.30 0 0 1 2253.26 912.71L2253.26 946.51A52.50 52.50 0 0 0 2206.99 974.20Z" fill="#b8e4f7"/>
<text class="v" x="2285.51" y="941.19" transform="rotate(29.15 2285.51 941.19)" textLength="33.6" lengthAdjust="spacingAndGlyphs">2400</text>
<text class="v" x="2320.83" y="997.12" transform="rotate(88.4 2320.83 997.12)" textLength="31" lengthAdjust="spacingAndGlyphs">1.81</text>
<text class="v" x="2288.44" y="1058.14" transform="rotate(-30.75 2288.44 1058.14)" textLength="31" lengthAdjust="spacingAndGlyphs">5.90</text>
<text class="v" x="2219.75" y="1059.1" transform="rotate(29.15 2219.75 1059.1)" textLength="39.4" lengthAdjust="spacingAndGlyphs">578.8</text>
<text class="v" x="2185.69" y="1001.07" transform="rotate(-91.75 2185.69 1001.07)" textLength="31" lengthAdjust="spacingAndGlyphs">1.30</text>
<text class="v" x="2219.26" y="942.21" transform="rotate(-30.9 2219.26 942.21)" textLength="39.4" lengthAdjust="spacingAndGlyphs">29.76</text>
<text class="n" x="2253.26" y="968.71" textLength="14.22" lengthAdjust="spacingAndGlyphs">31</text>
<text class="s" x="2253.26" y="1004.01" fill="#005ea9" stroke="#005ea9" textLength="55.34" lengthAdjust="spacingAndGlyphs">Ga</text>
<text class="nm" x="2253.26" y="1020.81" textLength="40.13" lengthAdjust="spacingAndGlyphs">GALLIUM</text>
<text class="m" x="2253.26" y="1033.71" textLength="41.23" lengthAdjust="spacingAndGlyphs">69.723</text>
<path d="M2426.64 912.71A86.30 86.30 0 0 1 2500.06 953.66L2471.31 971.42A52.50 52.50 0 0 0 2426.64 946.51Z" fill="#ee777a"/>
<path d="M2500.06 953.66A86.30 86.30 0 0 1 2502.48 1040.19L2472.78 1024.06A52.50 52.50 0 0 0 2471.31 971.42Z" fill="#b093c3"/>
<path d="M2502.48 1040.19A86.30 86.30 0 0 1 2426.64 1085.31L2426.64 1051.51A52.50 52.50 0 0 0 2472.78 1024.06Z" fill="#cee297"/>
<path d="M2426.64 1085.31A86.30 86.30 0 0 1 2353.22 1044.36L2381.97 1026.60A52.50 52.50 0 0 0 2426.64 1051.51Z" fill="#f4b0d0"/>
<path d="M2353.22 1044.36A86.30 86.30 0 0 1 2350.58 958.23L2380.37 974.20A52.50 52.50 0 0 0 2381.97 1026.60Z" fill="#fad5a0"/>
<path d="M2350.58 958.23A86.30 86.30 0 0 1 2426.64 912.71L2426.64 946.51A52.50 52.50 0 0 0 2380.37 974.20Z" fill="#77cbf0"/>
<text class="v" x="2458.89" y="941.19" transform="rotate(29.15 2458.89 941.19)" textLength="33.6" lengthAdjust="spacingAndGlyphs">2833</text>
<text class="v" x="2494.21" y="997.12" transform="rotate(88.4 2494.21 997.12)" textLength="31" lengthAdjust="spacingAndGlyphs">2.01</text>
<text class="v" x="2461.82" y="1058.14" transform="rotate(-30.75 2461.82 1058.14)" textLength="31" lengthAdjust="spacingAndGlyphs">5.32</text>
<text class="v" x="2393.13" y="1059.1" transform="rotate(29.15 2393.13 1059.1)" textLength="39.4" lengthAdjust="spacingAndGlyphs">762.2</text>
<text class="v" x="2359.07" y="1001.07" transform="rotate(-91.75 2359.07 1001.07)" textLength="31" lengthAdjust="spacingAndGlyphs">1.25</text>
<text class="v" x="2392.64" y="942.21" transform="rotate(-30.9 2392.64 942.21)" textLength="39.4" lengthAdjust="spacingAndGlyphs">938.3</text>
<text class="n" x="2426.64" y="968.71" textLength="14.22" lengthAdjust="spacingAndGlyphs">32</text>
<text class="s" x="2426.64" y="1004.01" fill="#005ea9" stroke="#005ea9" textLength="54.78" lengthAdjust="spacingAndGlyphs">Ge</text>
<text class="nm" x="2426.64" y="1020.81" textLength="55.88" lengthAdjust="spacingAndGlyphs">GERMANIUM</text>
<text class="m" x="2426.64" y="1033.71" textLength="41.23" lengthAdjust="spacingAndGlyphs">72.640</text>
<path d="M2600.02 912.71A86.30 86.30 0 0 1 2673.44 953.66L2644.69 971.42A52.50 52.50 0 0 0 2600.02 946.51Z" fill="#f6babc"/>
<path d="M2673.44 953.66A86.30 86.30 0 0 1 2675.86 1040.19L2646.16 1024.06A52.50 52.50 0 0 0 2644.69 971.42Z" fill="#a888be"/>
<path d="M2675.86 1040.19A86.30 86.30 0 0 1 2600.02 1085.31L2600.02 1051.51A52.50 52.50 0 0 0 2646.16 1024.06Z" fill="#cce193"/>
<path d="M2600.02 1085.31A86.30 86.30 0 0 1 2526.60 1044.36L2555.35 1026.60A52.50 52.50 0 0 0 2600.02 1051.51Z" fill="#f2a3c7"/>
<path d="M2526.60 1044.36A86.30 86.30 0 0 1 2523.96 958.23L2553.75 974.20A52.50 52.50 0 0 0 2555.35 1026.60Z" fill="#fad9a9"/>
<path d="M2523.96 958.23A86.30 86.30 0 0 1 2600.02 912.71L2600.02 946.51A52.50 52.50 0 0 0 2553.75 974.20Z" fill="#7fcef0"/>
<text class="v" x="2632.27" y="941.19" transform="rotate(29.15 2632.27 941.19)" textLength="39.4" lengthAdjust="spacingAndGlyphs">614.0</text>
<text class="v" x="2667.59" y="997.12" transform="rotate(88.4 2667.59 997.12)" textLength="31" lengthAdjust="spacingAndGlyphs">2.18</text>
<text class="v" x="2635.2" y="1058.14" transform="rotate(-30.75 2635.2 1058.14)" textLength="31" lengthAdjust="spacingAndGlyphs">5.73</text>
<text class="v" x="2566.51" y="1059.1" transform="rotate(29.15 2566.51 1059.1)" textLength="39.4" lengthAdjust="spacingAndGlyphs">944.5</text>
<text class="v" x="2532.45" y="1001.07" transform="rotate(-91.75 2532.45 1001.07)" textLength="31" lengthAdjust="spacingAndGlyphs">1.15</text>
<text class="v" x="2566.02" y="942.21" transform="rotate(-30.9 2566.02 942.21)" textLength="39.4" lengthAdjust="spacingAndGlyphs">817.0</text>
<text class="n" x="2600.02" y="968.71" textLength="14.22" lengthAdjust="spacingAndGlyphs">33</text>
<text class="s" x="2600.02" y="1004.01" fill="#005ea9" stroke="#005ea9" textLength="49.3" lengthAdjust="spacingAndGlyphs">As</text>
<text class="nm" x="2600.02" y="1020.81" textLength="39.15" lengthAdjust="spacingAndGlyphs">ARSENIC</text>
<text class="m" x="2600.02" y="1033.71" textLength="41.23" lengthAdjust="spacingAndGlyphs">74.922</text>
<path d="M2773.40 912.71A86.30 86.30 0 0 1 2846.82 953.66L2818.07 971.42A52.50 52.50 0 0 0 2773.40 946.51Z" fill="#f6b8ba"/>
<path d="M2846.82 953.66A86.30 86.30 0 0 1 2849.24 1040.19L2819.54 1024.06A52.50 52.50 0 0 0 2818.07 971.42Z" fill="#9771b1"/>
<path d="M2849.24 1040.19A86.30 86.30 0 0 1 2773.40 1085.31L2773.40 1051.51A52.50 52.50 0 0 0 2819.54 1024.06Z" fill="#d0e49c"/>
<path d="M2773.40 1085.31A86.30 86.30 0 0 1 2699.98 1044.36L2728.73 1026.60A52.50 52.50 0 0 0 2773.40 1051.51Z" fill="#f2a3c8"/>
<path d="M2699.98 1044.36A86.30 86.30 0 0 1 2697.34 958.23L2727.13 974.20A52.50 52.50 0 0 0 2728.73 1026.60Z" fill="#fad9a9"/>
<path d="M2697.34 958.23A86.30 86.30 0 0 1 2773.40 912.71L2773.40 946.51A52.50 52.50 0 0 0 2727.13 974.20Z" fill="#a9def5"/>
<text class="v" x="2805.65" y="941.19" transform="rotate(29.15 2805.65 941.19)" textLength="39.4" lengthAdjust="spacingAndGlyphs">685.0</text>
<text class="v" x="2840.97" y="997.12" transform="rotate(88.4 2840.97 997.12)" textLength="31" lengthAdjust="spacingAndGlyphs">2.55</text>
<text class="v" x="2808.58" y="1058.14" transform="rotate(-30.75 2808.58 1058.14)" textLength="31" lengthAdjust="spacingAndGlyphs">4.82</text>
<text class="v" x="2739.89" y="1059.1" transform="rotate(29.15 2739.89 1059.1)" textLength="39.4" lengthAdjust="spacingAndGlyphs">941.0</text>
<text class="v" x="2705.83" y="1001.07" transform="rotate(-91.75 2705.83 1001.07)" textLength="31" lengthAdjust="spacingAndGlyphs">1.15</text>
<text class="v" x="2739.4" y="942.21" transform="rotate(-30.9 2739.4 942.21)" textLength="39.4" lengthAdjust="spacingAndGlyphs">221.0</text>
<text class="n" x="2773.4" y="968.71" textLength="14.22" lengthAdjust="spacingAndGlyphs">34</text>
<text class="s" x="2773.4" y="1004.01" fill="#005ea9" stroke="#005ea9" textLength="47.36" lengthAdjust="spacingAndGlyphs">Se</text>
<text class="nm" x="2773.4" y="1020.81" textLength="46.17" lengthAdjust="spacingAndGlyphs">SELENIUM</text>
<text class="m" x="2773.4" y="1033.71" textLength="41.23" lengthAdjust="spacingAndGlyphs">78.971</text>
<path d="M2946.78 912.71A86.30 86.30 0 0 1 3020.20 953.66L2991.45 971.42A52.50 52.50 0 0 0 2946.78 946.51Z" fill="#f8c7c8"/>
<path d="M3020.20 953.66A86.30 86.30 0 0 1 3022.62 1040.19L2992.92 1024.06A52.50 52.50 0 0 0 2991.45 971.42Z" fill="#8458a3"/>
<path d="M3022.62 1040.19A86.30 86.30 0 0 1 2946.78 1085.31L2946.78 1051.51A52.50 52.50 0 0 0 2992.92 1024.06Z" fill="#d9e9ad"/>
<path d="M2946.78 1085.31A86.30 86.30 0 0 1 2873.36 1044.36L2902.11 1026.60A52.50 52.50 0 0 0 2946.78 1051.51Z" fill="#f196c0"/>
<path d="M2873.36 1044.36A86.30 86.30 0 0 1 2870.72 958.23L2900.51 974.20A52.50 52.50 0 0 0 2902.11 1026.60Z" fill="#fad9a9"/>
<path d="M2870.72 958.23A86.30 86.30 0 0 1 2946.78 912.71L2946.78 946.51A52.50 52.50 0 0 0 2900.51 974.20Z" fill="#bce5f7"/>
<text class="v" x="2979.03" y="941.19" transform="rotate(29.15 2979.03 941.19)" textLength="39.4" lengthAdjust="spacingAndGlyphs">58.80</text>
<text class="v" x="3014.35" y="997.12" transform="rotate(88.4 3014.35 997.12)" textLength="31" lengthAdjust="spacingAndGlyphs">2.96</text>
<text class="v" x="2981.96" y="1058.14" transform="rotate(-30.75 2981.96 1058.14)" textLength="31" lengthAdjust="spacingAndGlyphs">3.12</text>
<text class="v" x="2913.27" y="1059.1" transform="rotate(29.15 2913.27 1059.1)" textLength="33.6" lengthAdjust="spacingAndGlyphs">1140</text>
<text class="v" x="2879.21" y="1001.07" transform="rotate(-91.75 2879.21 1001.07)" textLength="31" lengthAdjust="spacingAndGlyphs">1.15</text>
<text class="v" x="2912.78" y="942.21" transform="rotate(-30.9 2912.78 942.21)" textLength="41.9" lengthAdjust="spacingAndGlyphs">-7.300</text>
<text class="n" x="2946.78" y="968.71" textLength="14.22" lengthAdjust="spacingAndGlyphs">35</text>
<text class="s" x="2946.78" y="1004.01" fill="#005ea9" stroke="#005ea9" textLength="46.69" lengthAdjust="spacingAndGlyphs">Br</text>
<text class="nm" x="2946.78" y="1020.81" textLength="41.71" lengthAdjust="spacingAndGlyphs">BROMINE</text>
<text class="m" x="2946.78" y="1033.71" textLength="41.23" lengthAdjust="spacingAndGlyphs">79.904</text>
<path d="M3120.16 912.71A86.30 86.30 0 0 1 3193.58 953.66L3164.83 971.42A52.50 52.50 0 0 0 3120.16 946.51Z" fill="#f8cbcc"/>
<path d="M3193.58 953.66A86.30 86.30 0 0 1 3196.00 1040.19L3166.30 1024.06A52.50 52.50 0 0 0 3164.83 971.42Z" fill="#8355a1"/>
<path d="M3196.00 1040.19A86.30 86.30 0 0 1 3120.16 1085.31L3120.16 1051.51A52.50 52.50 0 0 0 3166.30 1024.06Z" fill="#d5e7a6"/>
<path d="M3120.16 1085.31A86.30 86.30 0 0 1 3046.74 1044.36L3075.49 1026.60A52.50 52.50 0 0 0 3120.16 1051.51Z" fill="#ef89b8"/>
<path d="M3046.74 1044.36A86.30 86.30 0 0 1 3044.10 958.23L3073.89 974.20A52.50 52.50 0 0 0 3075.49 1026.60Z" fill="#fce3bf"/>
<path d="M3044.10 958.23A86.30 86.30 0 0 1 3120.16 912.71L3120.16 946.51A52.50 52.50 0 0 0 3073.89 974.20Z" fill="#caebf9"/>
<text class="v" x="3152.41" y="941.19" transform="rotate(29.15 3152.41 941.19)" textLength="41.9" lengthAdjust="spacingAndGlyphs">-153.4</text>
<text class="v" x="3187.73" y="997.12" transform="rotate(88.4 3187.73 997.12)" textLength="31" lengthAdjust="spacingAndGlyphs">3.00</text>
<text class="v" x="3155.34" y="1058.14" transform="rotate(-30.75 3155.34 1058.14)" textLength="31" lengthAdjust="spacingAndGlyphs" style="fill:#6e6e6e">3.75</text>
<text class="v" x="3086.65" y="1059.1" transform="rotate(29.15 3086.65 1059.1)" textLength="33.6" lengthAdjust="spacingAndGlyphs">1351</text>
<text class="v" x="3052.59" y="1001.07" transform="rotate(-91.75 3052.59 1001.07)" textLength="31" lengthAdjust="spacingAndGlyphs">0.88</text>
<text class="v" x="3086.16" y="942.21" transform="rotate(-30.9 3086.16 942.21)" textLength="41.9" lengthAdjust="spacingAndGlyphs">-157.4</text>
<text class="n" x="3120.16" y="968.71" textLength="14.22" lengthAdjust="spacingAndGlyphs">36</text>
<text class="s" x="3120.16" y="1004.01" fill="#005ea9" stroke="#005ea9" textLength="46.36" lengthAdjust="spacingAndGlyphs">Kr</text>
<text class="nm" x="3120.16" y="1020.81" textLength="42.31" lengthAdjust="spacingAndGlyphs">KRYPTON</text>
<text class="m" x="3120.16" y="1033.71" textLength="41.23" lengthAdjust="spacingAndGlyphs">83.798</text>
<path d="M172.70 1086.08A86.30 86.30 0 0 1 246.12 1127.03L217.37 1144.79A52.50 52.50 0 0 0 172.70 1119.88Z" fill="#f6b8ba"/>
<path d="M246.12 1127.03A86.30 86.30 0 0 1 248.54 1213.56L218.84 1197.43A52.50 52.50 0 0 0 217.37 1144.79Z" fill="#e6ddec"/>
<path d="M248.54 1213.56A86.30 86.30 0 0 1 172.70 1258.68L172.70 1224.88A52.50 52.50 0 0 0 218.84 1197.43Z" fill="#e2eec2"/>
<path d="M172.70 1258.68A86.30 86.30 0 0 1 99.28 1217.73L128.03 1199.97A52.50 52.50 0 0 0 172.70 1224.88Z" fill="#fadbe9"/>
<path d="M99.28 1217.73A86.30 86.30 0 0 1 96.64 1131.60L126.43 1147.57A52.50 52.50 0 0 0 128.03 1199.97Z" fill="#f4a028"/>
<path d="M96.64 1131.60A86.30 86.30 0 0 1 172.70 1086.08L172.70 1119.88A52.50 52.50 0 0 0 126.43 1147.57Z" fill="#b8e4f7"/>
<text class="v" x="204.95" y="1114.56" transform="rotate(29.15 204.95 1114.56)" textLength="39.4" lengthAdjust="spacingAndGlyphs">688.0</text>
<text class="v" x="240.27" y="1170.49" transform="rotate(88.4 240.27 1170.49)" textLength="31" lengthAdjust="spacingAndGlyphs">0.82</text>
<text class="v" x="207.88" y="1231.51" transform="rotate(-30.75 207.88 1231.51)" textLength="31" lengthAdjust="spacingAndGlyphs">1.53</text>
<text class="v" x="139.19" y="1232.47" transform="rotate(29.15 139.19 1232.47)" textLength="39.4" lengthAdjust="spacingAndGlyphs">403.0</text>
<text class="v" x="105.13" y="1174.44" transform="rotate(-91.75 105.13 1174.44)" textLength="31" lengthAdjust="spacingAndGlyphs">2.35</text>
<text class="v" x="138.7" y="1115.58" transform="rotate(-30.9 138.7 1115.58)" textLength="39.4" lengthAdjust="spacingAndGlyphs">39.30</text>
<text class="n" x="172.7" y="1142.08" textLength="14.22" lengthAdjust="spacingAndGlyphs">37</text>
<text class="s" x="172.7" y="1177.38" fill="#e1191f" stroke="#e1191f" textLength="53.84" lengthAdjust="spacingAndGlyphs">Rb</text>
<text class="nm" x="172.7" y="1194.18" textLength="45.32" lengthAdjust="spacingAndGlyphs">RUBIDIUM</text>
<text class="m" x="172.7" y="1207.08" textLength="41.23" lengthAdjust="spacingAndGlyphs">85.468</text>
<path d="M346.08 1086.08A86.30 86.30 0 0 1 419.50 1127.03L390.75 1144.79A52.50 52.50 0 0 0 346.08 1119.88Z" fill="#f4a5a7"/>
<path d="M419.50 1127.03A86.30 86.30 0 0 1 421.92 1213.56L392.22 1197.43A52.50 52.50 0 0 0 390.75 1144.79Z" fill="#e0d5e8"/>
<path d="M421.92 1213.56A86.30 86.30 0 0 1 346.08 1258.68L346.08 1224.88A52.50 52.50 0 0 0 392.22 1197.43Z" fill="#dbeab3"/>
<path d="M346.08 1258.68A86.30 86.30 0 0 1 272.66 1217.73L301.41 1199.97A52.50 52.50 0 0 0 346.08 1224.88Z" fill="#f7c5dc"/>
<path d="M272.66 1217.73A86.30 86.30 0 0 1 270.02 1131.60L299.81 1147.57A52.50 52.50 0 0 0 301.41 1199.97Z" fill="#f6b252"/>
<path d="M270.02 1131.60A86.30 86.30 0 0 1 346.08 1086.08L346.08 1119.88A52.50 52.50 0 0 0 299.81 1147.57Z" fill="#81cff1"/>
<text class="v" x="378.33" y="1114.56" transform="rotate(29.15 378.33 1114.56)" textLength="33.6" lengthAdjust="spacingAndGlyphs">1382</text>
<text class="v" x="413.65" y="1170.49" transform="rotate(88.4 413.65 1170.49)" textLength="31" lengthAdjust="spacingAndGlyphs">0.95</text>
<text class="v" x="381.26" y="1231.51" transform="rotate(-30.75 381.26 1231.51)" textLength="31" lengthAdjust="spacingAndGlyphs">2.63</text>
<text class="v" x="312.57" y="1232.47" transform="rotate(29.15 312.57 1232.47)" textLength="39.4" lengthAdjust="spacingAndGlyphs">549.5</text>
<text class="v" x="278.51" y="1174.44" transform="rotate(-91.75 278.51 1174.44)" textLength="31" lengthAdjust="spacingAndGlyphs">2.00</text>
<text class="v" x="312.08" y="1115.58" transform="rotate(-30.9 312.08 1115.58)" textLength="39.4" lengthAdjust="spacingAndGlyphs">777.0</text>
<text class="n" x="346.08" y="1142.08" textLength="14.22" lengthAdjust="spacingAndGlyphs">38</text>
<text class="s" x="346.08" y="1177.38" fill="#e1191f" stroke="#e1191f" textLength="41.51" lengthAdjust="spacingAndGlyphs">Sr</text>
<text class="nm" x="346.08" y="1194.18" textLength="53.22" lengthAdjust="spacingAndGlyphs">STRONTIUM</text>
<text class="m" x="346.08" y="1207.08" textLength="41.23" lengthAdjust="spacingAndGlyphs">87.620</text>
<path d="M519.46 1086.08A86.30 86.30 0 0 1 592.88 1127.03L564.13 1144.79A52.50 52.50 0 0 0 519.46 1119.88Z" fill="#ee7376"/>
<path d="M592.88 1127.03A86.30 86.30 0 0 1 595.30 1213.56L565.60 1197.43A52.50 52.50 0 0 0 564.13 1144.79Z" fill="#d4c4df"/>
<path d="M595.30 1213.56A86.30 86.30 0 0 1 519.46 1258.68L519.46 1224.88A52.50 52.50 0 0 0 565.60 1197.43Z" fill="#d2e59f"/>
<path d="M519.46 1258.68A86.30 86.30 0 0 1 446.04 1217.73L474.79 1199.97A52.50 52.50 0 0 0 519.46 1224.88Z" fill="#f6bfd9"/>
<path d="M446.04 1217.73A86.30 86.30 0 0 1 443.40 1131.60L473.19 1147.57A52.50 52.50 0 0 0 474.79 1199.97Z" fill="#f7bc68"/>
<path d="M443.40 1131.60A86.30 86.30 0 0 1 519.46 1086.08L519.46 1119.88A52.50 52.50 0 0 0 473.19 1147.57Z" fill="#52bdeb"/>
<text class="v" x="551.71" y="1114.56" transform="rotate(29.15 551.71 1114.56)" textLength="33.6" lengthAdjust="spacingAndGlyphs">2930</text>
<text class="v" x="587.03" y="1170.49" transform="rotate(88.4 587.03 1170.49)" textLength="31" lengthAdjust="spacingAndGlyphs">1.22</text>
<text class="v" x="554.64" y="1231.51" transform="rotate(-30.75 554.64 1231.51)" textLength="31" lengthAdjust="spacingAndGlyphs">4.47</text>
<text class="v" x="485.95" y="1232.47" transform="rotate(29.15 485.95 1232.47)" textLength="39.4" lengthAdjust="spacingAndGlyphs">599.9</text>
<text class="v" x="451.89" y="1174.44" transform="rotate(-91.75 451.89 1174.44)" textLength="31" lengthAdjust="spacingAndGlyphs">1.80</text>
<text class="v" x="485.46" y="1115.58" transform="rotate(-30.9 485.46 1115.58)" textLength="33.6" lengthAdjust="spacingAndGlyphs">1526</text>
<text class="n" x="519.46" y="1142.08" textLength="14.22" lengthAdjust="spacingAndGlyphs">39</text>
<text class="s" x="519.46" y="1177.38" fill="#f8a922" stroke="#f8a922" textLength="25.21" lengthAdjust="spacingAndGlyphs">Y</text>
<text class="nm" x="519.46" y="1194.18" textLength="40.94" lengthAdjust="spacingAndGlyphs">YTTRIUM</text>
<text class="m" x="519.46" y="1207.08" textLength="41.23" lengthAdjust="spacingAndGlyphs">88.906</text>
<path d="M692.84 1086.08A86.30 86.30 0 0 1 766.26 1127.03L737.51 1144.79A52.50 52.50 0 0 0 692.84 1119.88Z" fill="#e73f43"/>
<path d="M766.26 1127.03A86.30 86.30 0 0 1 768.68 1213.56L738.98 1197.43A52.50 52.50 0 0 0 737.51 1144.79Z" fill="#cfbddb"/>
<path d="M768.68 1213.56A86.30 86.30 0 0 1 692.84 1258.68L692.84 1224.88A52.50 52.50 0 0 0 738.98 1197.43Z" fill="#c9df8c"/>
<path d="M692.84 1258.68A86.30 86.30 0 0 1 619.42 1217.73L648.17 1199.97A52.50 52.50 0 0 0 692.84 1224.88Z" fill="#f6bbd6"/>
<path d="M619.42 1217.73A86.30 86.30 0 0 1 616.78 1131.60L646.57 1147.57A52.50 52.50 0 0 0 648.17 1199.97Z" fill="#f8c882"/>
<path d="M616.78 1131.60A86.30 86.30 0 0 1 692.84 1086.08L692.84 1119.88A52.50 52.50 0 0 0 646.57 1147.57Z" fill="#3fb6e9"/>
<text class="v" x="725.09" y="1114.56" transform="rotate(29.15 725.09 1114.56)" textLength="33.6" lengthAdjust="spacingAndGlyphs">4377</text>
<text class="v" x="760.41" y="1170.49" transform="rotate(88.4 760.41 1170.49)" textLength="31" lengthAdjust="spacingAndGlyphs">1.33</text>
<text class="v" x="728.02" y="1231.51" transform="rotate(-30.75 728.02 1231.51)" textLength="31" lengthAdjust="spacingAndGlyphs">6.51</text>
<text class="v" x="659.33" y="1232.47" transform="rotate(29.15 659.33 1232.47)" textLength="39.4" lengthAdjust="spacingAndGlyphs">640.1</text>
<text class="v" x="625.27" y="1174.44" transform="rotate(-91.75 625.27 1174.44)" textLength="31" lengthAdjust="spacingAndGlyphs">1.55</text>
<text class="v" x="658.84" y="1115.58" transform="rotate(-30.9 658.84 1115.58)" textLength="33.6" lengthAdjust="spacingAndGlyphs">1855</text>
<text class="n" x="692.84" y="1142.08" textLength="14.22" lengthAdjust="spacingAndGlyphs">40</text>
<text class="s" x="692.84" y="1177.38" fill="#f8a922" stroke="#f8a922" textLength="42.72" lengthAdjust="spacingAndGlyphs">Zr</text>
<text class="nm" x="692.84" y="1194.18" textLength="50.99" lengthAdjust="spacingAndGlyphs">ZIRCONIUM</text>
<text class="m" x="692.84" y="1207.08" textLength="41.23" lengthAdjust="spacingAndGlyphs">91.224</text>
<path d="M866.22 1086.08A86.30 86.30 0 0 1 939.64 1127.03L910.89 1144.79A52.50 52.50 0 0 0 866.22 1119.88Z" fill="#e53135"/>
<path d="M939.64 1127.03A86.30 86.30 0 0 1 942.06 1213.56L912.36 1197.43A52.50 52.50 0 0 0 910.89 1144.79Z" fill="#c3acd2"/>
<path d="M942.06 1213.56A86.30 86.30 0 0 1 866.22 1258.68L866.22 1224.88A52.50 52.50 0 0 0 912.36 1197.43Z" fill="#c1db7b"/>
<path d="M866.22 1258.68A86.30 86.30 0 0 1 792.80 1217.73L821.55 1199.97A52.50 52.50 0 0 0 866.22 1224.88Z" fill="#f6bad6"/>
<path d="M792.80 1217.73A86.30 86.30 0 0 1 790.16 1131.60L819.95 1147.57A52.50 52.50 0 0 0 821.55 1199.97Z" fill="#f9cc8d"/>
<path d="M790.16 1131.60A86.30 86.30 0 0 1 866.22 1086.08L866.22 1119.88A52.50 52.50 0 0 0 819.95 1147.57Z" fill="#1ca9e5"/>
<text class="v" x="898.47" y="1114.56" transform="rotate(29.15 898.47 1114.56)" textLength="33.6" lengthAdjust="spacingAndGlyphs">4744</text>
<text class="v" x="933.79" y="1170.49" transform="rotate(88.4 933.79 1170.49)" textLength="31" lengthAdjust="spacingAndGlyphs">1.60</text>
<text class="v" x="901.4" y="1231.51" transform="rotate(-30.75 901.4 1231.51)" textLength="31" lengthAdjust="spacingAndGlyphs">8.57</text>
<text class="v" x="832.71" y="1232.47" transform="rotate(29.15 832.71 1232.47)" textLength="39.4" lengthAdjust="spacingAndGlyphs">652.1</text>
<text class="v" x="798.65" y="1174.44" transform="rotate(-91.75 798.65 1174.44)" textLength="31" lengthAdjust="spacingAndGlyphs">1.45</text>
<text class="v" x="832.22" y="1115.58" transform="rotate(-30.9 832.22 1115.58)" textLength="33.6" lengthAdjust="spacingAndGlyphs">2477</text>
<text class="n" x="866.22" y="1142.08" textLength="14.22" lengthAdjust="spacingAndGlyphs">41</text>
<text class="s" x="866.22" y="1177.38" fill="#f8a922" stroke="#f8a922" textLength="60.38" lengthAdjust="spacingAndGlyphs">Nb</text>
<text class="nm" x="866.22" y="1194.18" textLength="39.34" lengthAdjust="spacingAndGlyphs">NIOBIUM</text>
<text class="m" x="866.22" y="1207.08" textLength="41.23" lengthAdjust="spacingAndGlyphs">92.906</text>
<path d="M1039.60 1086.08A86.30 86.30 0 0 1 1113.02 1127.03L1084.27 1144.79A52.50 52.50 0 0 0 1039.60 1119.88Z" fill="#e63539"/>
<path d="M1113.02 1127.03A86.30 86.30 0 0 1 1115.44 1213.56L1085.74 1197.43A52.50 52.50 0 0 0 1084.27 1144.79Z" fill="#a98abe"/>
<path d="M1115.44 1213.56A86.30 86.30 0 0 1 1039.60 1258.68L1039.60 1224.88A52.50 52.50 0 0 0 1085.74 1197.43Z" fill="#bad76e"/>
<path d="M1039.60 1258.68A86.30 86.30 0 0 1 966.18 1217.73L994.93 1199.97A52.50 52.50 0 0 0 1039.60 1224.88Z" fill="#f5b7d4"/>
<path d="M966.18 1217.73A86.30 86.30 0 0 1 963.54 1131.60L993.33 1147.57A52.50 52.50 0 0 0 994.93 1199.97Z" fill="#f9cc8d"/>
<path d="M963.54 1131.60A86.30 86.30 0 0 1 1039.60 1086.08L1039.60 1119.88A52.50 52.50 0 0 0 993.33 1147.57Z" fill="#14a6e4"/>
<text class="v" x="1071.85" y="1114.56" transform="rotate(29.15 1071.85 1114.56)" textLength="33.6" lengthAdjust="spacingAndGlyphs">4639</text>
<text class="v" x="1107.17" y="1170.49" transform="rotate(88.4 1107.17 1170.49)" textLength="31" lengthAdjust="spacingAndGlyphs">2.16</text>
<text class="v" x="1074.78" y="1231.51" transform="rotate(-30.75 1074.78 1231.51)" textLength="39.4" lengthAdjust="spacingAndGlyphs">10.28</text>
<text class="v" x="1006.09" y="1232.47" transform="rotate(29.15 1006.09 1232.47)" textLength="39.4" lengthAdjust="spacingAndGlyphs">684.3</text>
<text class="v" x="972.03" y="1174.44" transform="rotate(-91.75 972.03 1174.44)" textLength="31" lengthAdjust="spacingAndGlyphs">1.45</text>
<text class="v" x="1005.6" y="1115.58" transform="rotate(-30.9 1005.6 1115.58)" textLength="33.6" lengthAdjust="spacingAndGlyphs">2623</text>
<text class="n" x="1039.6" y="1142.08" textLength="14.22" lengthAdjust="spacingAndGlyphs">42</text>
<text class="s" x="1039.6" y="1177.38" fill="#f8a922" stroke="#f8a922" textLength="65.35" lengthAdjust="spacingAndGlyphs">Mo</text>
<text class="nm" x="1039.6" y="1194.18" textLength="63.09" lengthAdjust="spacingAndGlyphs">MOLYBDENUM</text>
<text class="m" x="1039.6" y="1207.08" textLength="41.23" lengthAdjust="spacingAndGlyphs">95.951</text>
<path d="M1212.98 1086.08A86.30 86.30 0 0 1 1286.40 1127.03L1257.65 1144.79A52.50 52.50 0 0 0 1212.98 1119.88Z" fill="#e84347"/>
<path d="M1286.40 1127.03A86.30 86.30 0 0 1 1288.82 1213.56L1259.12 1197.43A52.50 52.50 0 0 0 1257.65 1144.79Z" fill="#b59ac7"/>
<path d="M1288.82 1213.56A86.30 86.30 0 0 1 1212.98 1258.68L1212.98 1224.88A52.50 52.50 0 0 0 1259.12 1197.43Z" fill="#b6d465"/>
<path d="M1212.98 1258.68A86.30 86.30 0 0 1 1139.56 1217.73L1168.31 1199.97A52.50 52.50 0 0 0 1212.98 1224.88Z" fill="#f5b6d3"/>
<path d="M1139.56 1217.73A86.30 86.30 0 0 1 1136.92 1131.60L1166.71 1147.57A52.50 52.50 0 0 0 1168.31 1199.97Z" fill="#f9d196"/>
<path d="M1136.92 1131.60A86.30 86.30 0 0 1 1212.98 1086.08L1212.98 1119.88A52.50 52.50 0 0 0 1166.71 1147.57Z" fill="#2eafe7"/>
<text class="v" x="1245.23" y="1114.56" transform="rotate(29.15 1245.23 1114.56)" textLength="33.6" lengthAdjust="spacingAndGlyphs">4265</text>
<text class="v" x="1280.55" y="1170.49" transform="rotate(88.4 1280.55 1170.49)" textLength="31" lengthAdjust="spacingAndGlyphs">1.90</text>
<text class="v" x="1248.16" y="1231.51" transform="rotate(-30.75 1248.16 1231.51)" textLength="39.4" lengthAdjust="spacingAndGlyphs">11.49</text>
<text class="v" x="1179.47" y="1232.47" transform="rotate(29.15 1179.47 1232.47)" textLength="39.4" lengthAdjust="spacingAndGlyphs">702.4</text>
<text class="v" x="1145.41" y="1174.44" transform="rotate(-91.75 1145.41 1174.44)" textLength="31" lengthAdjust="spacingAndGlyphs">1.35</text>
<text class="v" x="1178.98" y="1115.58" transform="rotate(-30.9 1178.98 1115.58)" textLength="33.6" lengthAdjust="spacingAndGlyphs">2157</text>
<text class="n" x="1212.98" y="1142.08" textLength="14.22" lengthAdjust="spacingAndGlyphs">43</text>
<text class="s" x="1212.98" y="1177.38" fill="#f8a922" stroke="#f8a922" textLength="45.29" lengthAdjust="spacingAndGlyphs">Tc</text>
<text class="nm" x="1212.98" y="1194.18" textLength="58.78" lengthAdjust="spacingAndGlyphs">TECHNETIUM</text>
<text class="m" x="1212.98" y="1207.08" textLength="50.76" lengthAdjust="spacingAndGlyphs">(97.907)</text>
<path d="M1386.36 1086.08A86.30 86.30 0 0 1 1459.78 1127.03L1431.03 1144.79A52.50 52.50 0 0 0 1386.36 1119.88Z" fill="#e8474b"/>
<path d="M1459.78 1127.03A86.30 86.30 0 0 1 1462.20 1213.56L1432.50 1197.43A52.50 52.50 0 0 0 1431.03 1144.79Z" fill="#a787bd"/>
<path d="M1462.20 1213.56A86.30 86.30 0 0 1 1386.36 1258.68L1386.36 1224.88A52.50 52.50 0 0 0 1432.50 1197.43Z" fill="#b3d35e"/>
<path d="M1386.36 1258.68A86.30 86.30 0 0 1 1312.94 1217.73L1341.69 1199.97A52.50 52.50 0 0 0 1386.36 1224.88Z" fill="#f5b5d2"/>
<path d="M1312.94 1217.73A86.30 86.30 0 0 1 1310.30 1131.60L1340.09 1147.57A52.50 52.50 0 0 0 1341.69 1199.97Z" fill="#fad39b"/>
<path d="M1310.30 1131.60A86.30 86.30 0 0 1 1386.36 1086.08L1386.36 1119.88A52.50 52.50 0 0 0 1340.09 1147.57Z" fill="#24ace6"/>
<text class="v" x="1418.61" y="1114.56" transform="rotate(29.15 1418.61 1114.56)" textLength="33.6" lengthAdjust="spacingAndGlyphs">4150</text>
<text class="v" x="1453.93" y="1170.49" transform="rotate(88.4 1453.93 1170.49)" textLength="31" lengthAdjust="spacingAndGlyphs">2.20</text>
<text class="v" x="1421.54" y="1231.51" transform="rotate(-30.75 1421.54 1231.51)" textLength="39.4" lengthAdjust="spacingAndGlyphs">12.37</text>
<text class="v" x="1352.85" y="1232.47" transform="rotate(29.15 1352.85 1232.47)" textLength="39.4" lengthAdjust="spacingAndGlyphs">710.2</text>
<text class="v" x="1318.79" y="1174.44" transform="rotate(-91.75 1318.79 1174.44)" textLength="31" lengthAdjust="spacingAndGlyphs">1.30</text>
<text class="v" x="1352.36" y="1115.58" transform="rotate(-30.9 1352.36 1115.58)" textLength="33.6" lengthAdjust="spacingAndGlyphs">2334</text>
<text class="n" x="1386.36" y="1142.08" textLength="14.22" lengthAdjust="spacingAndGlyphs">44</text>
<text class="s" x="1386.36" y="1177.38" fill="#f8a922" stroke="#f8a922" textLength="54.88" lengthAdjust="spacingAndGlyphs">Ru</text>
<text class="nm" x="1386.36" y="1194.18" textLength="53.89" lengthAdjust="spacingAndGlyphs">RUTHENIUM</text>
<text class="m" x="1386.36" y="1207.08" textLength="48.79" lengthAdjust="spacingAndGlyphs">101.072</text>
<path d="M1559.74 1086.08A86.30 86.30 0 0 1 1633.16 1127.03L1604.41 1144.79A52.50 52.50 0 0 0 1559.74 1119.88Z" fill="#ea585c"/>
<path d="M1633.16 1127.03A86.30 86.30 0 0 1 1635.58 1213.56L1605.88 1197.43A52.50 52.50 0 0 0 1604.41 1144.79Z" fill="#a382ba"/>
<path d="M1635.58 1213.56A86.30 86.30 0 0 1 1559.74 1258.68L1559.74 1224.88A52.50 52.50 0 0 0 1605.88 1197.43Z" fill="#b3d35e"/>
<path d="M1559.74 1258.68A86.30 86.30 0 0 1 1486.32 1217.73L1515.07 1199.97A52.50 52.50 0 0 0 1559.74 1224.88Z" fill="#f5b4d2"/>
<path d="M1486.32 1217.73A86.30 86.30 0 0 1 1483.68 1131.60L1513.47 1147.57A52.50 52.50 0 0 0 1515.07 1199.97Z" fill="#f9d196"/>
<path d="M1483.68 1131.60A86.30 86.30 0 0 1 1559.74 1086.08L1559.74 1119.88A52.50 52.50 0 0 0 1513.47 1147.57Z" fill="#39b4e8"/>
<text class="v" x="1591.99" y="1114.56" transform="rotate(29.15 1591.99 1114.56)" textLength="33.6" lengthAdjust="spacingAndGlyphs">3695</text>
<text class="v" x="1627.31" y="1170.49" transform="rotate(88.4 1627.31 1170.49)" textLength="31" lengthAdjust="spacingAndGlyphs">2.28</text>
<text class="v" x="1594.92" y="1231.51" transform="rotate(-30.75 1594.92 1231.51)" textLength="39.4" lengthAdjust="spacingAndGlyphs">12.45</text>
<text class="v" x="1526.23" y="1232.47" transform="rotate(29.15 1526.23 1232.47)" textLength="39.4" lengthAdjust="spacingAndGlyphs">719.7</text>
<text class="v" x="1492.17" y="1174.44" transform="rotate(-91.75 1492.17 1174.44)" textLength="31" lengthAdjust="spacingAndGlyphs">1.35</text>
<text class="v" x="1525.74" y="1115.58" transform="rotate(-30.9 1525.74 1115.58)" textLength="33.6" lengthAdjust="spacingAndGlyphs">1964</text>
<text class="n" x="1559.74" y="1142.08" textLength="14.22" lengthAdjust="spacingAndGlyphs">45</text>
<text class="s" x="1559.74" y="1177.38" fill="#f8a922" stroke="#f8a922" textLength="54.88" lengthAdjust="spacingAndGlyphs">Rh</text>
<text class="nm" x="1559.74" y="1194.18" textLength="42.18" lengthAdjust="spacingAndGlyphs">RHODIUM</text>
<text class="m" x="1559.74" y="1207.08" textLength="48.79" lengthAdjust="spacingAndGlyphs">102.906</text>
<path d="M1733.12 1086.08A86.30 86.30 0 0 1 1806.54 1127.03L1777.79 1144.79A52.50 52.50 0 0 0 1733.12 1119.88Z" fill="#ed7275"/>
<path d="M1806.54 1127.03A86.30 86.30 0 0 1 1808.96 1213.56L1779.26 1197.43A52.50 52.50 0 0 0 1777.79 1144.79Z" fill="#a787bd"/>
<path d="M1808.96 1213.56A86.30 86.30 0 0 1 1733.12 1258.68L1733.12 1224.88A52.50 52.50 0 0 0 1779.26 1197.43Z" fill="#b4d361"/>
<path d="M1733.12 1258.68A86.30 86.30 0 0 1 1659.70 1217.73L1688.45 1199.97A52.50 52.50 0 0 0 1733.12 1224.88Z" fill="#f4adce"/>
<path d="M1659.70 1217.73A86.30 86.30 0 0 1 1657.06 1131.60L1686.85 1147.57A52.50 52.50 0 0 0 1688.45 1199.97Z" fill="#f9cf91"/>
<path d="M1657.06 1131.60A86.30 86.30 0 0 1 1733.12 1086.08L1733.12 1119.88A52.50 52.50 0 0 0 1686.85 1147.57Z" fill="#51bdeb"/>
<text class="v" x="1765.37" y="1114.56" transform="rotate(29.15 1765.37 1114.56)" textLength="33.6" lengthAdjust="spacingAndGlyphs">2963</text>
<text class="v" x="1800.69" y="1170.49" transform="rotate(88.4 1800.69 1170.49)" textLength="31" lengthAdjust="spacingAndGlyphs">2.20</text>
<text class="v" x="1768.3" y="1231.51" transform="rotate(-30.75 1768.3 1231.51)" textLength="39.4" lengthAdjust="spacingAndGlyphs">12.02</text>
<text class="v" x="1699.61" y="1232.47" transform="rotate(29.15 1699.61 1232.47)" textLength="39.4" lengthAdjust="spacingAndGlyphs">804.4</text>
<text class="v" x="1665.55" y="1174.44" transform="rotate(-91.75 1665.55 1174.44)" textLength="31" lengthAdjust="spacingAndGlyphs">1.40</text>
<text class="v" x="1699.12" y="1115.58" transform="rotate(-30.9 1699.12 1115.58)" textLength="33.6" lengthAdjust="spacingAndGlyphs">1555</text>
<text class="n" x="1733.12" y="1142.08" textLength="14.22" lengthAdjust="spacingAndGlyphs">46</text>
<text class="s" x="1733.12" y="1177.38" fill="#f8a922" stroke="#f8a922" textLength="52.46" lengthAdjust="spacingAndGlyphs">Pd</text>
<text class="nm" x="1733.12" y="1194.18" textLength="52.13" lengthAdjust="spacingAndGlyphs">PALLADIUM</text>
<text class="m" x="1733.12" y="1207.08" textLength="48.79" lengthAdjust="spacingAndGlyphs">106.421</text>
<path d="M1906.50 1086.08A86.30 86.30 0 0 1 1979.92 1127.03L1951.17 1144.79A52.50 52.50 0 0 0 1906.50 1119.88Z" fill="#f18c8e"/>
<path d="M1979.92 1127.03A86.30 86.30 0 0 1 1982.34 1213.56L1952.64 1197.43A52.50 52.50 0 0 0 1951.17 1144.79Z" fill="#b398c6"/>
<path d="M1982.34 1213.56A86.30 86.30 0 0 1 1906.50 1258.68L1906.50 1224.88A52.50 52.50 0 0 0 1952.64 1197.43Z" fill="#bad66c"/>
<path d="M1906.50 1258.68A86.30 86.30 0 0 1 1833.08 1217.73L1861.83 1199.97A52.50 52.50 0 0 0 1906.50 1224.88Z" fill="#f5b3d1"/>
<path d="M1833.08 1217.73A86.30 86.30 0 0 1 1830.44 1131.60L1860.23 1147.57A52.50 52.50 0 0 0 1861.83 1199.97Z" fill="#f8c67d"/>
<path d="M1830.44 1131.60A86.30 86.30 0 0 1 1906.50 1086.08L1906.50 1119.88A52.50 52.50 0 0 0 1860.23 1147.57Z" fill="#75cbef"/>
<text class="v" x="1938.75" y="1114.56" transform="rotate(29.15 1938.75 1114.56)" textLength="33.6" lengthAdjust="spacingAndGlyphs">2210</text>
<text class="v" x="1974.07" y="1170.49" transform="rotate(88.4 1974.07 1170.49)" textLength="31" lengthAdjust="spacingAndGlyphs">1.93</text>
<text class="v" x="1941.68" y="1231.51" transform="rotate(-30.75 1941.68 1231.51)" textLength="39.4" lengthAdjust="spacingAndGlyphs">10.49</text>
<text class="v" x="1872.99" y="1232.47" transform="rotate(29.15 1872.99 1232.47)" textLength="39.4" lengthAdjust="spacingAndGlyphs">731.0</text>
<text class="v" x="1838.93" y="1174.44" transform="rotate(-91.75 1838.93 1174.44)" textLength="31" lengthAdjust="spacingAndGlyphs">1.60</text>
<text class="v" x="1872.5" y="1115.58" transform="rotate(-30.9 1872.5 1115.58)" textLength="39.4" lengthAdjust="spacingAndGlyphs">961.8</text>
<text class="n" x="1906.5" y="1142.08" textLength="14.22" lengthAdjust="spacingAndGlyphs">47</text>
<text class="s" x="1906.5" y="1172.18" fill="#f8a922" stroke="#f8a922" textLength="46.99" lengthAdjust="spacingAndGlyphs" style="font-size:38.34px">Ag</text>
<text class="nm" x="1906.5" y="1194.18" textLength="31.14" lengthAdjust="spacingAndGlyphs">SILVER</text>
<text class="m" x="1906.5" y="1207.08" textLength="48.79" lengthAdjust="spacingAndGlyphs">107.868</text>
<path d="M2079.88 1086.08A86.30 86.30 0 0 1 2153.30 1127.03L2124.55 1144.79A52.50 52.50 0 0 0 2079.88 1119.88Z" fill="#f6b6b8"/>
<path d="M2153.30 1127.03A86.30 86.30 0 0 1 2155.72 1213.56L2126.02 1197.43A52.50 52.50 0 0 0 2124.55 1144.79Z" fill="#bea7ce"/>
<path d="M2155.72 1213.56A86.30 86.30 0 0 1 2079.88 1258.68L2079.88 1224.88A52.50 52.50 0 0 0 2126.02 1197.43Z" fill="#c0da7a"/>
<path d="M2079.88 1258.68A86.30 86.30 0 0 1 2006.46 1217.73L2035.21 1199.97A52.50 52.50 0 0 0 2079.88 1224.88Z" fill="#f3a8cb"/>
<path d="M2006.46 1217.73A86.30 86.30 0 0 1 2003.82 1131.60L2033.61 1147.57A52.50 52.50 0 0 0 2035.21 1199.97Z" fill="#f8c882"/>
<path d="M2003.82 1131.60A86.30 86.30 0 0 1 2079.88 1086.08L2079.88 1119.88A52.50 52.50 0 0 0 2033.61 1147.57Z" fill="#a1dbf4"/>
<text class="v" x="2112.13" y="1114.56" transform="rotate(29.15 2112.13 1114.56)" textLength="39.4" lengthAdjust="spacingAndGlyphs">767.0</text>
<text class="v" x="2147.45" y="1170.49" transform="rotate(88.4 2147.45 1170.49)" textLength="31" lengthAdjust="spacingAndGlyphs">1.69</text>
<text class="v" x="2115.06" y="1231.51" transform="rotate(-30.75 2115.06 1231.51)" textLength="31" lengthAdjust="spacingAndGlyphs">8.65</text>
<text class="v" x="2046.37" y="1232.47" transform="rotate(29.15 2046.37 1232.47)" textLength="39.4" lengthAdjust="spacingAndGlyphs">867.8</text>
<text class="v" x="2012.31" y="1174.44" transform="rotate(-91.75 2012.31 1174.44)" textLength="31" lengthAdjust="spacingAndGlyphs">1.55</text>
<text class="v" x="2045.88" y="1115.58" transform="rotate(-30.9 2045.88 1115.58)" textLength="39.4" lengthAdjust="spacingAndGlyphs">321.1</text>
<text class="n" x="2079.88" y="1142.08" textLength="14.22" lengthAdjust="spacingAndGlyphs">48</text>
<text class="s" x="2079.88" y="1177.38" fill="#f8a922" stroke="#f8a922" textLength="52.86" lengthAdjust="spacingAndGlyphs">Cd</text>
<text class="nm" x="2079.88" y="1194.18" textLength="43.55" lengthAdjust="spacingAndGlyphs">CADMIUM</text>
<text class="m" x="2079.88" y="1207.08" textLength="48.79" lengthAdjust="spacingAndGlyphs">112.414</text>
<path d="M2253.26 1086.08A86.30 86.30 0 0 1 2326.68 1127.03L2297.93 1144.79A52.50 52.50 0 0 0 2253.26 1119.88Z" fill="#f19092"/>
<path d="M2326.68 1127.03A86.30 86.30 0 0 1 2329.10 1213.56L2299.40 1197.43A52.50 52.50 0 0 0 2297.93 1144.79Z" fill="#baa1cb"/>
<path d="M2329.10 1213.56A86.30 86.30 0 0 1 2253.26 1258.68L2253.26 1224.88A52.50 52.50 0 0 0 2299.40 1197.43Z" fill="#c6dd85"/>
<path d="M2253.26 1258.68A86.30 86.30 0 0 1 2179.84 1217.73L2208.59 1199.97A52.50 52.50 0 0 0 2253.26 1224.88Z" fill="#f7c4db"/>
<path d="M2179.84 1217.73A86.30 86.30 0 0 1 2177.20 1131.60L2206.99 1147.57A52.50 52.50 0 0 0 2208.59 1199.97Z" fill="#f8c882"/>
<path d="M2177.20 1131.60A86.30 86.30 0 0 1 2253.26 1086.08L2253.26 1119.88A52.50 52.50 0 0 0 2206.99 1147.57Z" fill="#aee0f6"/>
<text class="v" x="2285.51" y="1114.56" transform="rotate(29.15 2285.51 1114.56)" textLength="33.6" lengthAdjust="spacingAndGlyphs">2072</text>
<text class="v" x="2320.83" y="1170.49" transform="rotate(88.4 2320.83 1170.49)" textLength="31" lengthAdjust="spacingAndGlyphs">1.78</text>
<text class="v" x="2288.44" y="1231.51" transform="rotate(-30.75 2288.44 1231.51)" textLength="31" lengthAdjust="spacingAndGlyphs">7.31</text>
<text class="v" x="2219.75" y="1232.47" transform="rotate(29.15 2219.75 1232.47)" textLength="39.4" lengthAdjust="spacingAndGlyphs">558.3</text>
<text class="v" x="2185.69" y="1174.44" transform="rotate(-91.75 2185.69 1174.44)" textLength="31" lengthAdjust="spacingAndGlyphs">1.55</text>
<text class="v" x="2219.26" y="1115.58" transform="rotate(-30.9 2219.26 1115.58)" textLength="39.4" lengthAdjust="spacingAndGlyphs">156.6</text>
<text class="n" x="2253.26" y="1142.08" textLength="14.22" lengthAdjust="spacingAndGlyphs">49</text>
<text class="s" x="2253.26" y="1177.38" fill="#005ea9" stroke="#005ea9" textLength="40.8" lengthAdjust="spacingAndGlyphs">In</text>
<text class="nm" x="2253.26" y="1194.18" textLength="33.17" lengthAdjust="spacingAndGlyphs">INDIUM</text>
<text class="m" x="2253.26" y="1207.08" textLength="48.79" lengthAdjust="spacingAndGlyphs">114.818</text>
<path d="M2426.64 1086.08A86.30 86.30 0 0 1 2500.06 1127.03L2471.31 1144.79A52.50 52.50 0 0 0 2426.64 1119.88Z" fill="#ef7f81"/>
<path d="M2500.06 1127.03A86.30 86.30 0 0 1 2502.48 1213.56L2472.78 1197.43A52.50 52.50 0 0 0 2471.31 1144.79Z" fill="#b296c5"/>
<path d="M2502.48 1213.56A86.30 86.30 0 0 1 2426.64 1258.68L2426.64 1224.88A52.50 52.50 0 0 0 2472.78 1197.43Z" fill="#c6dd85"/>
<path d="M2426.64 1258.68A86.30 86.30 0 0 1 2353.22 1217.73L2381.97 1199.97A52.50 52.50 0 0 0 2426.64 1224.88Z" fill="#f5b5d3"/>
<path d="M2353.22 1217.73A86.30 86.30 0 0 1 2350.58 1131.60L2380.37 1147.57A52.50 52.50 0 0 0 2381.97 1199.97Z" fill="#f9cc8d"/>
<path d="M2350.58 1131.60A86.30 86.30 0 0 1 2426.64 1086.08L2426.64 1119.88A52.50 52.50 0 0 0 2380.37 1147.57Z" fill="#a8def5"/>
<text class="v" x="2458.89" y="1114.56" transform="rotate(29.15 2458.89 1114.56)" textLength="33.6" lengthAdjust="spacingAndGlyphs">2602</text>
<text class="v" x="2494.21" y="1170.49" transform="rotate(88.4 2494.21 1170.49)" textLength="31" lengthAdjust="spacingAndGlyphs">1.96</text>
<text class="v" x="2461.82" y="1231.51" transform="rotate(-30.75 2461.82 1231.51)" textLength="31" lengthAdjust="spacingAndGlyphs">7.31</text>
<text class="v" x="2393.13" y="1232.47" transform="rotate(29.15 2393.13 1232.47)" textLength="39.4" lengthAdjust="spacingAndGlyphs">708.6</text>
<text class="v" x="2359.07" y="1174.44" transform="rotate(-91.75 2359.07 1174.44)" textLength="31" lengthAdjust="spacingAndGlyphs">1.45</text>
<text class="v" x="2392.64" y="1115.58" transform="rotate(-30.9 2392.64 1115.58)" textLength="39.4" lengthAdjust="spacingAndGlyphs">231.9</text>
<text class="n" x="2426.64" y="1142.08" textLength="14.22" lengthAdjust="spacingAndGlyphs">50</text>
<text class="s" x="2426.64" y="1177.38" fill="#005ea9" stroke="#005ea9" textLength="50.2" lengthAdjust="spacingAndGlyphs">Sn</text>
<text class="nm" x="2426.64" y="1194.18" textLength="14.93" lengthAdjust="spacingAndGlyphs">TIN</text>
<text class="m" x="2426.64" y="1207.08" textLength="48.79" lengthAdjust="spacingAndGlyphs">118.711</text>
<path d="M2600.02 1086.08A86.30 86.30 0 0 1 2673.44 1127.03L2644.69 1144.79A52.50 52.50 0 0 0 2600.02 1119.88Z" fill="#f39ea0"/>
<path d="M2673.44 1127.03A86.30 86.30 0 0 1 2675.86 1213.56L2646.16 1197.43A52.50 52.50 0 0 0 2644.69 1144.79Z" fill="#ae90c2"/>
<path d="M2675.86 1213.56A86.30 86.30 0 0 1 2600.02 1258.68L2600.02 1224.88A52.50 52.50 0 0 0 2646.16 1197.43Z" fill="#c8df8a"/>
<path d="M2600.02 1258.68A86.30 86.30 0 0 1 2526.60 1217.73L2555.35 1199.97A52.50 52.50 0 0 0 2600.02 1224.88Z" fill="#f3abcc"/>
<path d="M2526.60 1217.73A86.30 86.30 0 0 1 2523.96 1131.60L2553.75 1147.57A52.50 52.50 0 0 0 2555.35 1199.97Z" fill="#f9cc8d"/>
<path d="M2523.96 1131.60A86.30 86.30 0 0 1 2600.02 1086.08L2600.02 1119.88A52.50 52.50 0 0 0 2553.75 1147.57Z" fill="#8bd3f2"/>
<text class="v" x="2632.27" y="1114.56" transform="rotate(29.15 2632.27 1114.56)" textLength="33.6" lengthAdjust="spacingAndGlyphs">1635</text>
<text class="v" x="2667.59" y="1170.49" transform="rotate(88.4 2667.59 1170.49)" textLength="31" lengthAdjust="spacingAndGlyphs">2.05</text>
<text class="v" x="2635.2" y="1231.51" transform="rotate(-30.75 2635.2 1231.51)" textLength="31" lengthAdjust="spacingAndGlyphs">6.69</text>
<text class="v" x="2566.51" y="1232.47" transform="rotate(29.15 2566.51 1232.47)" textLength="39.4" lengthAdjust="spacingAndGlyphs">830.6</text>
<text class="v" x="2532.45" y="1174.44" transform="rotate(-91.75 2532.45 1174.44)" textLength="31" lengthAdjust="spacingAndGlyphs">1.45</text>
<text class="v" x="2566.02" y="1115.58" transform="rotate(-30.9 2566.02 1115.58)" textLength="39.4" lengthAdjust="spacingAndGlyphs">630.6</text>
<text class="n" x="2600.02" y="1142.08" textLength="14.22" lengthAdjust="spacingAndGlyphs">51</text>
<text class="s" x="2600.02" y="1177.38" fill="#005ea9" stroke="#005ea9" textLength="49.16" lengthAdjust="spacingAndGlyphs">Sb</text>
<text class="nm" x="2600.02" y="1194.18" textLength="48.13" lengthAdjust="spacingAndGlyphs">ANTIMONY</text>
<text class="m" x="2600.02" y="1207.08" textLength="48.79" lengthAdjust="spacingAndGlyphs">121.760</text>
<path d="M2773.40 1086.08A86.30 86.30 0 0 1 2846.82 1127.03L2818.07 1144.79A52.50 52.50 0 0 0 2773.40 1119.88Z" fill="#f5b0b2"/>
<path d="M2846.82 1127.03A86.30 86.30 0 0 1 2849.24 1213.56L2819.54 1197.43A52.50 52.50 0 0 0 2818.07 1144.79Z" fill="#ac8dc0"/>
<path d="M2849.24 1213.56A86.30 86.30 0 0 1 2773.40 1258.68L2773.40 1224.88A52.50 52.50 0 0 0 2819.54 1197.43Z" fill="#cae08e"/>
<path d="M2773.40 1258.68A86.30 86.30 0 0 1 2699.98 1217.73L2728.73 1199.97A52.50 52.50 0 0 0 2773.40 1224.88Z" fill="#f3a8cb"/>
<path d="M2699.98 1217.73A86.30 86.30 0 0 1 2697.34 1131.60L2727.13 1147.57A52.50 52.50 0 0 0 2728.73 1199.97Z" fill="#f9cf91"/>
<path d="M2697.34 1131.60A86.30 86.30 0 0 1 2773.40 1086.08L2773.40 1119.88A52.50 52.50 0 0 0 2727.13 1147.57Z" fill="#98d8f3"/>
<text class="v" x="2805.65" y="1114.56" transform="rotate(29.15 2805.65 1114.56)" textLength="39.4" lengthAdjust="spacingAndGlyphs">988.0</text>
<text class="v" x="2840.97" y="1170.49" transform="rotate(88.4 2840.97 1170.49)" textLength="31" lengthAdjust="spacingAndGlyphs">2.10</text>
<text class="v" x="2808.58" y="1231.51" transform="rotate(-30.75 2808.58 1231.51)" textLength="31" lengthAdjust="spacingAndGlyphs">6.24</text>
<text class="v" x="2739.89" y="1232.47" transform="rotate(29.15 2739.89 1232.47)" textLength="39.4" lengthAdjust="spacingAndGlyphs">869.3</text>
<text class="v" x="2705.83" y="1174.44" transform="rotate(-91.75 2705.83 1174.44)" textLength="31" lengthAdjust="spacingAndGlyphs">1.40</text>
<text class="v" x="2739.4" y="1115.58" transform="rotate(-30.9 2739.4 1115.58)" textLength="39.4" lengthAdjust="spacingAndGlyphs">449.5</text>
<text class="n" x="2773.4" y="1142.08" textLength="14.22" lengthAdjust="spacingAndGlyphs">52</text>
<text class="s" x="2773.4" y="1177.38" fill="#005ea9" stroke="#005ea9" textLength="48.57" lengthAdjust="spacingAndGlyphs">Te</text>
<text class="nm" x="2773.4" y="1194.18" textLength="51.7" lengthAdjust="spacingAndGlyphs">TELLURIUM</text>
<text class="m" x="2773.4" y="1207.08" textLength="48.79" lengthAdjust="spacingAndGlyphs">127.603</text>
<path d="M2946.78 1086.08A86.30 86.30 0 0 1 3020.20 1127.03L2991.45 1144.79A52.50 52.50 0 0 0 2946.78 1119.88Z" fill="#f8c4c5"/>
<path d="M3020.20 1127.03A86.30 86.30 0 0 1 3022.62 1213.56L2992.92 1197.43A52.50 52.50 0 0 0 2991.45 1144.79Z" fill="#926aad"/>
<path d="M3022.62 1213.56A86.30 86.30 0 0 1 2946.78 1258.68L2946.78 1224.88A52.50 52.50 0 0 0 2992.92 1197.43Z" fill="#d0e39a"/>
<path d="M2946.78 1258.68A86.30 86.30 0 0 1 2873.36 1217.73L2902.11 1199.97A52.50 52.50 0 0 0 2946.78 1224.88Z" fill="#f29ec5"/>
<path d="M2873.36 1217.73A86.30 86.30 0 0 1 2870.72 1131.60L2900.51 1147.57A52.50 52.50 0 0 0 2902.11 1199.97Z" fill="#f9cf91"/>
<path d="M2870.72 1131.60A86.30 86.30 0 0 1 2946.78 1086.08L2946.78 1119.88A52.50 52.50 0 0 0 2900.51 1147.57Z" fill="#b1e2f6"/>
<text class="v" x="2979.03" y="1114.56" transform="rotate(29.15 2979.03 1114.56)" textLength="39.4" lengthAdjust="spacingAndGlyphs">184.3</text>
<text class="v" x="3014.35" y="1170.49" transform="rotate(88.4 3014.35 1170.49)" textLength="31" lengthAdjust="spacingAndGlyphs">2.66</text>
<text class="v" x="2981.96" y="1231.51" transform="rotate(-30.75 2981.96 1231.51)" textLength="31" lengthAdjust="spacingAndGlyphs">4.94</text>
<text class="v" x="2913.27" y="1232.47" transform="rotate(29.15 2913.27 1232.47)" textLength="33.6" lengthAdjust="spacingAndGlyphs">1008</text>
<text class="v" x="2879.21" y="1174.44" transform="rotate(-91.75 2879.21 1174.44)" textLength="31" lengthAdjust="spacingAndGlyphs">1.40</text>
<text class="v" x="2912.78" y="1115.58" transform="rotate(-30.9 2912.78 1115.58)" textLength="39.4" lengthAdjust="spacingAndGlyphs">113.7</text>
<text class="n" x="2946.78" y="1142.08" textLength="14.22" lengthAdjust="spacingAndGlyphs">53</text>
<text class="s" x="2946.78" y="1177.38" fill="#005ea9" stroke="#005ea9" textLength="12.67" lengthAdjust="spacingAndGlyphs">I</text>
<text class="nm" x="2946.78" y="1194.18" textLength="30.72" lengthAdjust="spacingAndGlyphs">IODINE</text>
<text class="m" x="2946.78" y="1207.08" textLength="48.79" lengthAdjust="spacingAndGlyphs">126.904</text>
<path d="M3120.16 1086.08A86.30 86.30 0 0 1 3193.58 1127.03L3164.83 1144.79A52.50 52.50 0 0 0 3120.16 1119.88Z" fill="#f8cacb"/>
<path d="M3193.58 1127.03A86.30 86.30 0 0 1 3196.00 1213.56L3166.30 1197.43A52.50 52.50 0 0 0 3164.83 1144.79Z" fill="#956eaf"/>
<path d="M3196.00 1213.56A86.30 86.30 0 0 1 3120.16 1258.68L3120.16 1224.88A52.50 52.50 0 0 0 3166.30 1197.43Z" fill="#cbe191"/>
<path d="M3120.16 1258.68A86.30 86.30 0 0 1 3046.74 1217.73L3075.49 1199.97A52.50 52.50 0 0 0 3120.16 1224.88Z" fill="#f094be"/>
<path d="M3046.74 1217.73A86.30 86.30 0 0 1 3044.10 1131.60L3073.89 1147.57A52.50 52.50 0 0 0 3075.49 1199.97Z" fill="#fbdcaf"/>
<path d="M3044.10 1131.60A86.30 86.30 0 0 1 3120.16 1086.08L3120.16 1119.88A52.50 52.50 0 0 0 3073.89 1147.57Z" fill="#c5e9f8"/>
<text class="v" x="3152.41" y="1114.56" transform="rotate(29.15 3152.41 1114.56)" textLength="41.9" lengthAdjust="spacingAndGlyphs">-108.1</text>
<text class="v" x="3187.73" y="1170.49" transform="rotate(88.4 3187.73 1170.49)" textLength="31" lengthAdjust="spacingAndGlyphs">2.60</text>
<text class="v" x="3155.34" y="1231.51" transform="rotate(-30.75 3155.34 1231.51)" textLength="31" lengthAdjust="spacingAndGlyphs" style="fill:#6e6e6e">5.90</text>
<text class="v" x="3086.65" y="1232.47" transform="rotate(29.15 3086.65 1232.47)" textLength="33.6" lengthAdjust="spacingAndGlyphs">1170</text>
<text class="v" x="3052.59" y="1174.44" transform="rotate(-91.75 3052.59 1174.44)" textLength="31" lengthAdjust="spacingAndGlyphs">1.08</text>
<text class="v" x="3086.16" y="1115.58" transform="rotate(-30.9 3086.16 1115.58)" textLength="41.9" lengthAdjust="spacingAndGlyphs">-111.8</text>
<text class="n" x="3120.16" y="1142.08" textLength="14.22" lengthAdjust="spacingAndGlyphs">54</text>
<text class="s" x="3120.16" y="1177.38" fill="#005ea9" stroke="#005ea9" textLength="52.33" lengthAdjust="spacingAndGlyphs">Xe</text>
<text class="nm" x="3120.16" y="1194.18" textLength="30.64" lengthAdjust="spacingAndGlyphs">XENON</text>
<text class="m" x="3120.16" y="1207.08" textLength="48.79" lengthAdjust="spacingAndGlyphs">131.294</text>
<path d="M172.70 1259.45A86.30 86.30 0 0 1 246.12 1300.40L217.37 1318.16A52.50 52.50 0 0 0 172.70 1293.25Z" fill="#f6b9ba"/>
<path d="M246.12 1300.40A86.30 86.30 0 0 1 248.54 1386.93L218.84 1370.80A52.50 52.50 0 0 0 217.37 1318.16Z" fill="#e8dfed"/>
<path d="M248.54 1386.93A86.30 86.30 0 0 1 172.70 1432.05L172.70 1398.25A52.50 52.50 0 0 0 218.84 1370.80Z" fill="#e0edbd"/>
<path d="M172.70 1432.05A86.30 86.30 0 0 1 99.28 1391.10L128.03 1373.34A52.50 52.50 0 0 0 172.70 1398.25Z" fill="#fbe5ef"/>
<path d="M99.28 1391.10A86.30 86.30 0 0 1 96.64 1304.97L126.43 1320.94A52.50 52.50 0 0 0 128.03 1373.34Z" fill="#f29208"/>
<path d="M96.64 1304.97A86.30 86.30 0 0 1 172.70 1259.45L172.70 1293.25A52.50 52.50 0 0 0 126.43 1320.94Z" fill="#b9e4f7"/>
<text class="v" x="204.95" y="1287.93" transform="rotate(29.15 204.95 1287.93)" textLength="39.4" lengthAdjust="spacingAndGlyphs">671.0</text>
<text class="v" x="240.27" y="1343.86" transform="rotate(88.4 240.27 1343.86)" textLength="31" lengthAdjust="spacingAndGlyphs">0.79</text>
<text class="v" x="207.88" y="1404.88" transform="rotate(-30.75 207.88 1404.88)" textLength="31" lengthAdjust="spacingAndGlyphs">1.88</text>
<text class="v" x="139.19" y="1405.84" transform="rotate(29.15 139.19 1405.84)" textLength="39.4" lengthAdjust="spacingAndGlyphs">375.7</text>
<text class="v" x="105.13" y="1347.81" transform="rotate(-91.75 105.13 1347.81)" textLength="31" lengthAdjust="spacingAndGlyphs">2.60</text>
<text class="v" x="138.7" y="1288.95" transform="rotate(-30.9 138.7 1288.95)" textLength="39.4" lengthAdjust="spacingAndGlyphs">28.50</text>
<text class="n" x="172.7" y="1315.45" textLength="14.22" lengthAdjust="spacingAndGlyphs">55</text>
<text class="s" x="172.7" y="1350.75" fill="#e1191f" stroke="#e1191f" textLength="47.05" lengthAdjust="spacingAndGlyphs">Cs</text>
<text class="nm" x="172.7" y="1367.55" textLength="40.69" lengthAdjust="spacingAndGlyphs">CAESIUM</text>
<text class="m" x="172.7" y="1380.45" textLength="48.79" lengthAdjust="spacingAndGlyphs">132.905</text>
<path d="M346.08 1259.45A86.30 86.30 0 0 1 419.50 1300.40L390.75 1318.16A52.50 52.50 0 0 0 346.08 1293.25Z" fill="#f39da0"/>
<path d="M419.50 1300.40A86.30 86.30 0 0 1 421.92 1386.93L392.22 1370.80A52.50 52.50 0 0 0 390.75 1318.16Z" fill="#e3d9ea"/>
<path d="M421.92 1386.93A86.30 86.30 0 0 1 346.08 1432.05L346.08 1398.25A52.50 52.50 0 0 0 392.22 1370.80Z" fill="#d7e7a9"/>
<path d="M346.08 1432.05A86.30 86.30 0 0 1 272.66 1391.10L301.41 1373.34A52.50 52.50 0 0 0 346.08 1398.25Z" fill="#f8cadf"/>
<path d="M272.66 1391.10A86.30 86.30 0 0 1 270.02 1304.97L299.81 1320.94A52.50 52.50 0 0 0 301.41 1373.34Z" fill="#f5ab40"/>
<path d="M270.02 1304.97A86.30 86.30 0 0 1 346.08 1259.45L346.08 1293.25A52.50 52.50 0 0 0 299.81 1320.94Z" fill="#85d1f1"/>
<text class="v" x="378.33" y="1287.93" transform="rotate(29.15 378.33 1287.93)" textLength="33.6" lengthAdjust="spacingAndGlyphs">1640</text>
<text class="v" x="413.65" y="1343.86" transform="rotate(88.4 413.65 1343.86)" textLength="31" lengthAdjust="spacingAndGlyphs">0.89</text>
<text class="v" x="381.26" y="1404.88" transform="rotate(-30.75 381.26 1404.88)" textLength="31" lengthAdjust="spacingAndGlyphs">3.51</text>
<text class="v" x="312.57" y="1405.84" transform="rotate(29.15 312.57 1405.84)" textLength="39.4" lengthAdjust="spacingAndGlyphs">502.9</text>
<text class="v" x="278.51" y="1347.81" transform="rotate(-91.75 278.51 1347.81)" textLength="31" lengthAdjust="spacingAndGlyphs">2.15</text>
<text class="v" x="312.08" y="1288.95" transform="rotate(-30.9 312.08 1288.95)" textLength="39.4" lengthAdjust="spacingAndGlyphs">727.0</text>
<text class="n" x="346.08" y="1315.45" textLength="14.22" lengthAdjust="spacingAndGlyphs">56</text>
<text class="s" x="346.08" y="1350.75" fill="#e1191f" stroke="#e1191f" textLength="53.11" lengthAdjust="spacingAndGlyphs">Ba</text>
<text class="nm" x="346.08" y="1367.55" textLength="35.69" lengthAdjust="spacingAndGlyphs">BARIUM</text>
<text class="m" x="346.08" y="1380.45" textLength="48.79" lengthAdjust="spacingAndGlyphs">137.328</text>
<path d="M519.46 1724.20A86.30 86.30 0 0 1 592.88 1765.15L564.13 1782.91A52.50 52.50 0 0 0 519.46 1758.00Z" fill="#eb6164"/>
<path d="M592.88 1765.15A86.30 86.30 0 0 1 595.30 1851.68L565.60 1835.55A52.50 52.50 0 0 0 564.13 1782.91Z" fill="#d9cce3"/>
<path d="M595.30 1851.68A86.30 86.30 0 0 1 519.46 1896.80L519.46 1863.00A52.50 52.50 0 0 0 565.60 1835.55Z" fill="#cae08f"/>
<path d="M519.46 1896.80A86.30 86.30 0 0 1 446.04 1855.85L474.79 1838.09A52.50 52.50 0 0 0 519.46 1863.00Z" fill="#f7c6dd"/>
<path d="M446.04 1855.85A86.30 86.30 0 0 1 443.40 1769.72L473.19 1785.69A52.50 52.50 0 0 0 474.79 1838.09Z" fill="#f6b557"/>
<path d="M443.40 1769.72A86.30 86.30 0 0 1 519.46 1724.20L519.46 1758.00A52.50 52.50 0 0 0 473.19 1785.69Z" fill="#78ccf0"/>
<text class="v" x="551.71" y="1752.68" transform="rotate(29.15 551.71 1752.68)" textLength="33.6" lengthAdjust="spacingAndGlyphs">3464</text>
<text class="v" x="587.03" y="1808.61" transform="rotate(88.4 587.03 1808.61)" textLength="31" lengthAdjust="spacingAndGlyphs">1.10</text>
<text class="v" x="554.64" y="1869.63" transform="rotate(-30.75 554.64 1869.63)" textLength="31" lengthAdjust="spacingAndGlyphs">6.15</text>
<text class="v" x="485.95" y="1870.59" transform="rotate(29.15 485.95 1870.59)" textLength="39.4" lengthAdjust="spacingAndGlyphs">538.1</text>
<text class="v" x="451.89" y="1812.56" transform="rotate(-91.75 451.89 1812.56)" textLength="31" lengthAdjust="spacingAndGlyphs">1.95</text>
<text class="v" x="485.46" y="1753.7" transform="rotate(-30.9 485.46 1753.7)" textLength="39.4" lengthAdjust="spacingAndGlyphs">920.0</text>
<text class="n" x="519.46" y="1780.2" textLength="14.22" lengthAdjust="spacingAndGlyphs">57</text>
<text class="s" x="519.46" y="1815.5" fill="#a2c43c" stroke="#a2c43c" textLength="48.53" lengthAdjust="spacingAndGlyphs">La</text>
<text class="nm" x="519.46" y="1832.3" textLength="56.89" lengthAdjust="spacingAndGlyphs">LANTHANUM</text>
<text class="m" x="519.46" y="1845.2" textLength="48.79" lengthAdjust="spacingAndGlyphs">138.905</text>
<path d="M692.84 1724.20A86.30 86.30 0 0 1 766.26 1765.15L737.51 1782.91A52.50 52.50 0 0 0 692.84 1758.00Z" fill="#eb6165"/>
<path d="M766.26 1765.15A86.30 86.30 0 0 1 768.68 1851.68L738.98 1835.55A52.50 52.50 0 0 0 737.51 1782.91Z" fill="#d8cae2"/>
<path d="M768.68 1851.68A86.30 86.30 0 0 1 692.84 1896.80L692.84 1863.00A52.50 52.50 0 0 0 738.98 1835.55Z" fill="#c8df8a"/>
<path d="M692.84 1896.80A86.30 86.30 0 0 1 619.42 1855.85L648.17 1838.09A52.50 52.50 0 0 0 692.84 1863.00Z" fill="#f7c6dd"/>
<path d="M619.42 1855.85A86.30 86.30 0 0 1 616.78 1769.72L646.57 1785.69A52.50 52.50 0 0 0 648.17 1838.09Z" fill="#f7ba62"/>
<path d="M616.78 1769.72A86.30 86.30 0 0 1 692.84 1724.20L692.84 1758.00A52.50 52.50 0 0 0 646.57 1785.69Z" fill="#80cff1"/>
<text class="v" x="725.09" y="1752.68" transform="rotate(29.15 725.09 1752.68)" textLength="33.6" lengthAdjust="spacingAndGlyphs">3443</text>
<text class="v" x="760.41" y="1808.61" transform="rotate(88.4 760.41 1808.61)" textLength="31" lengthAdjust="spacingAndGlyphs">1.12</text>
<text class="v" x="728.02" y="1869.63" transform="rotate(-30.75 728.02 1869.63)" textLength="31" lengthAdjust="spacingAndGlyphs">6.69</text>
<text class="v" x="659.33" y="1870.59" transform="rotate(29.15 659.33 1870.59)" textLength="39.4" lengthAdjust="spacingAndGlyphs">534.4</text>
<text class="v" x="625.27" y="1812.56" transform="rotate(-91.75 625.27 1812.56)" textLength="31" lengthAdjust="spacingAndGlyphs">1.85</text>
<text class="v" x="658.84" y="1753.7" transform="rotate(-30.9 658.84 1753.7)" textLength="39.4" lengthAdjust="spacingAndGlyphs">795.0</text>
<text class="n" x="692.84" y="1780.2" textLength="14.22" lengthAdjust="spacingAndGlyphs">58</text>
<text class="s" x="692.84" y="1815.5" fill="#a2c43c" stroke="#a2c43c" textLength="51.06" lengthAdjust="spacingAndGlyphs">Ce</text>
<text class="nm" x="692.84" y="1832.3" textLength="34.88" lengthAdjust="spacingAndGlyphs">CERIUM</text>
<text class="m" x="692.84" y="1845.2" textLength="48.79" lengthAdjust="spacingAndGlyphs">140.116</text>
<path d="M866.22 1724.20A86.30 86.30 0 0 1 939.64 1765.15L910.89 1782.91A52.50 52.50 0 0 0 866.22 1758.00Z" fill="#ed6c70"/>
<path d="M939.64 1765.15A86.30 86.30 0 0 1 942.06 1851.68L912.36 1835.55A52.50 52.50 0 0 0 910.89 1782.91Z" fill="#d8cae2"/>
<path d="M942.06 1851.68A86.30 86.30 0 0 1 866.22 1896.80L866.22 1863.00A52.50 52.50 0 0 0 912.36 1835.55Z" fill="#c9e08d"/>
<path d="M866.22 1896.80A86.30 86.30 0 0 1 792.80 1855.85L821.55 1838.09A52.50 52.50 0 0 0 866.22 1863.00Z" fill="#f7c7dd"/>
<path d="M792.80 1855.85A86.30 86.30 0 0 1 790.16 1769.72L819.95 1785.69A52.50 52.50 0 0 0 821.55 1838.09Z" fill="#f7ba62"/>
<path d="M790.16 1769.72A86.30 86.30 0 0 1 866.22 1724.20L866.22 1758.00A52.50 52.50 0 0 0 819.95 1785.69Z" fill="#77cbf0"/>
<text class="v" x="898.47" y="1752.68" transform="rotate(29.15 898.47 1752.68)" textLength="33.6" lengthAdjust="spacingAndGlyphs">3130</text>
<text class="v" x="933.79" y="1808.61" transform="rotate(88.4 933.79 1808.61)" textLength="31" lengthAdjust="spacingAndGlyphs">1.13</text>
<text class="v" x="901.4" y="1869.63" transform="rotate(-30.75 901.4 1869.63)" textLength="31" lengthAdjust="spacingAndGlyphs">6.40</text>
<text class="v" x="832.71" y="1870.59" transform="rotate(29.15 832.71 1870.59)" textLength="39.4" lengthAdjust="spacingAndGlyphs">528.1</text>
<text class="v" x="798.65" y="1812.56" transform="rotate(-91.75 798.65 1812.56)" textLength="31" lengthAdjust="spacingAndGlyphs">1.85</text>
<text class="v" x="832.22" y="1753.7" transform="rotate(-30.9 832.22 1753.7)" textLength="39.4" lengthAdjust="spacingAndGlyphs">935.0</text>
<text class="n" x="866.22" y="1780.2" textLength="14.22" lengthAdjust="spacingAndGlyphs">59</text>
<text class="s" x="866.22" y="1815.5" fill="#a2c43c" stroke="#a2c43c" textLength="44.81" lengthAdjust="spacingAndGlyphs">Pr</text>
<text class="nm" x="866.22" y="1832.3" textLength="73.36" lengthAdjust="spacingAndGlyphs">PRASEODYMIUM</text>
<text class="m" x="866.22" y="1845.2" textLength="48.79" lengthAdjust="spacingAndGlyphs">140.908</text>
<path d="M1039.60 1724.20A86.30 86.30 0 0 1 1113.02 1765.15L1084.27 1782.91A52.50 52.50 0 0 0 1039.60 1758.00Z" fill="#ed6e72"/>
<path d="M1113.02 1765.15A86.30 86.30 0 0 1 1115.44 1851.68L1085.74 1835.55A52.50 52.50 0 0 0 1084.27 1782.91Z" fill="#d8c9e1"/>
<path d="M1115.44 1851.68A86.30 86.30 0 0 1 1039.60 1896.80L1039.60 1863.00A52.50 52.50 0 0 0 1085.74 1835.55Z" fill="#c7de88"/>
<path d="M1039.60 1896.80A86.30 86.30 0 0 1 966.18 1855.85L994.93 1838.09A52.50 52.50 0 0 0 1039.60 1863.00Z" fill="#f7c7dd"/>
<path d="M966.18 1855.85A86.30 86.30 0 0 1 963.54 1769.72L993.33 1785.69A52.50 52.50 0 0 0 994.93 1838.09Z" fill="#f7ba62"/>
<path d="M963.54 1769.72A86.30 86.30 0 0 1 1039.60 1724.20L1039.60 1758.00A52.50 52.50 0 0 0 993.33 1785.69Z" fill="#71c9ef"/>
<text class="v" x="1071.85" y="1752.68" transform="rotate(29.15 1071.85 1752.68)" textLength="33.6" lengthAdjust="spacingAndGlyphs">3074</text>
<text class="v" x="1107.17" y="1808.61" transform="rotate(88.4 1107.17 1808.61)" textLength="31" lengthAdjust="spacingAndGlyphs">1.14</text>
<text class="v" x="1074.78" y="1869.63" transform="rotate(-30.75 1074.78 1869.63)" textLength="31" lengthAdjust="spacingAndGlyphs">7.01</text>
<text class="v" x="1006.09" y="1870.59" transform="rotate(29.15 1006.09 1870.59)" textLength="39.4" lengthAdjust="spacingAndGlyphs">533.1</text>
<text class="v" x="972.03" y="1812.56" transform="rotate(-91.75 972.03 1812.56)" textLength="31" lengthAdjust="spacingAndGlyphs">1.85</text>
<text class="v" x="1005.6" y="1753.7" transform="rotate(-30.9 1005.6 1753.7)" textLength="33.6" lengthAdjust="spacingAndGlyphs">1024</text>
<text class="n" x="1039.6" y="1780.2" textLength="14.22" lengthAdjust="spacingAndGlyphs">60</text>
<text class="s" x="1039.6" y="1815.5" fill="#a2c43c" stroke="#a2c43c" textLength="60.38" lengthAdjust="spacingAndGlyphs">Nd</text>
<text class="nm" x="1039.6" y="1832.3" textLength="55.7" lengthAdjust="spacingAndGlyphs">NEODYMIUM</text>
<text class="m" x="1039.6" y="1845.2" textLength="48.79" lengthAdjust="spacingAndGlyphs">144.242</text>
<path d="M1212.98 1724.20A86.30 86.30 0 0 1 1286.40 1765.15L1257.65 1782.91A52.50 52.50 0 0 0 1212.98 1758.00Z" fill="#ed7174"/>
<path d="M1286.40 1765.15A86.30 86.30 0 0 1 1288.82 1851.68L1259.12 1835.55A52.50 52.50 0 0 0 1257.65 1782.91Z" fill="#d8cae2"/>
<path d="M1288.82 1851.68A86.30 86.30 0 0 1 1212.98 1896.80L1212.98 1863.00A52.50 52.50 0 0 0 1259.12 1835.55Z" fill="#c6de85"/>
<path d="M1212.98 1896.80A86.30 86.30 0 0 1 1139.56 1855.85L1168.31 1838.09A52.50 52.50 0 0 0 1212.98 1863.00Z" fill="#f7c6dd"/>
<path d="M1139.56 1855.85A86.30 86.30 0 0 1 1136.92 1769.72L1166.71 1785.69A52.50 52.50 0 0 0 1168.31 1838.09Z" fill="#f7ba62"/>
<path d="M1136.92 1769.72A86.30 86.30 0 0 1 1212.98 1724.20L1212.98 1758.00A52.50 52.50 0 0 0 1166.71 1785.69Z" fill="#70c9ef"/>
<text class="v" x="1245.23" y="1752.68" transform="rotate(29.15 1245.23 1752.68)" textLength="33.6" lengthAdjust="spacingAndGlyphs">3000</text>
<text class="v" x="1280.55" y="1808.61" transform="rotate(88.4 1280.55 1808.61)" textLength="31" lengthAdjust="spacingAndGlyphs">1.13</text>
<text class="v" x="1248.16" y="1869.63" transform="rotate(-30.75 1248.16 1869.63)" textLength="31" lengthAdjust="spacingAndGlyphs">7.26</text>
<text class="v" x="1179.47" y="1870.59" transform="rotate(29.15 1179.47 1870.59)" textLength="39.4" lengthAdjust="spacingAndGlyphs">538.6</text>
<text class="v" x="1145.41" y="1812.56" transform="rotate(-91.75 1145.41 1812.56)" textLength="31" lengthAdjust="spacingAndGlyphs">1.85</text>
<text class="v" x="1178.98" y="1753.7" transform="rotate(-30.9 1178.98 1753.7)" textLength="33.6" lengthAdjust="spacingAndGlyphs">1042</text>
<text class="n" x="1212.98" y="1780.2" textLength="14.22" lengthAdjust="spacingAndGlyphs">61</text>
<text class="s" x="1212.98" y="1815.5" fill="#a2c43c" stroke="#a2c43c" textLength="67.4" lengthAdjust="spacingAndGlyphs">Pm</text>
<text class="nm" x="1212.98" y="1832.3" textLength="63.76" lengthAdjust="spacingAndGlyphs">PROMETHEUM</text>
<text class="m" x="1212.98" y="1845.2" textLength="58.32" lengthAdjust="spacingAndGlyphs">(144.000)</text>
<path d="M1386.36 1724.20A86.30 86.30 0 0 1 1459.78 1765.15L1431.03 1782.91A52.50 52.50 0 0 0 1386.36 1758.00Z" fill="#f29598"/>
<path d="M1459.78 1765.15A86.30 86.30 0 0 1 1462.20 1851.68L1432.50 1835.55A52.50 52.50 0 0 0 1431.03 1782.91Z" fill="#d6c7e0"/>
<path d="M1462.20 1851.68A86.30 86.30 0 0 1 1386.36 1896.80L1386.36 1863.00A52.50 52.50 0 0 0 1432.50 1835.55Z" fill="#c5dd85"/>
<path d="M1386.36 1896.80A86.30 86.30 0 0 1 1312.94 1855.85L1341.69 1838.09A52.50 52.50 0 0 0 1386.36 1863.00Z" fill="#f7c5dc"/>
<path d="M1312.94 1855.85A86.30 86.30 0 0 1 1310.30 1769.72L1340.09 1785.69A52.50 52.50 0 0 0 1341.69 1838.09Z" fill="#f7ba62"/>
<path d="M1310.30 1769.72A86.30 86.30 0 0 1 1386.36 1724.20L1386.36 1758.00A52.50 52.50 0 0 0 1340.09 1785.69Z" fill="#6ec8ef"/>
<text class="v" x="1418.61" y="1752.68" transform="rotate(29.15 1418.61 1752.68)" textLength="33.6" lengthAdjust="spacingAndGlyphs">1900</text>
<text class="v" x="1453.93" y="1808.61" transform="rotate(88.4 1453.93 1808.61)" textLength="31" lengthAdjust="spacingAndGlyphs">1.17</text>
<text class="v" x="1421.54" y="1869.63" transform="rotate(-30.75 1421.54 1869.63)" textLength="31" lengthAdjust="spacingAndGlyphs">7.35</text>
<text class="v" x="1352.85" y="1870.59" transform="rotate(29.15 1352.85 1870.59)" textLength="39.4" lengthAdjust="spacingAndGlyphs">544.5</text>
<text class="v" x="1318.79" y="1812.56" transform="rotate(-91.75 1318.79 1812.56)" textLength="31" lengthAdjust="spacingAndGlyphs">1.85</text>
<text class="v" x="1352.36" y="1753.7" transform="rotate(-30.9 1352.36 1753.7)" textLength="33.6" lengthAdjust="spacingAndGlyphs">1072</text>
<text class="n" x="1386.36" y="1780.2" textLength="14.22" lengthAdjust="spacingAndGlyphs">62</text>
<text class="s" x="1386.36" y="1815.5" fill="#a2c43c" stroke="#a2c43c" textLength="64.1" lengthAdjust="spacingAndGlyphs">Sm</text>
<text class="nm" x="1386.36" y="1832.3" textLength="49.53" lengthAdjust="spacingAndGlyphs">SAMARIUM</text>
<text class="m" x="1386.36" y="1845.2" textLength="48.79" lengthAdjust="spacingAndGlyphs">150.362</text>
<path d="M1559.74 1724.20A86.30 86.30 0 0 1 1633.16 1765.15L1604.41 1782.91A52.50 52.50 0 0 0 1559.74 1758.00Z" fill="#f3a1a3"/>
<path d="M1633.16 1765.15A86.30 86.30 0 0 1 1635.58 1851.68L1605.88 1835.55A52.50 52.50 0 0 0 1604.41 1782.91Z" fill="#d5c5df"/>
<path d="M1635.58 1851.68A86.30 86.30 0 0 1 1559.74 1896.80L1559.74 1863.00A52.50 52.50 0 0 0 1605.88 1835.55Z" fill="#cee298"/>
<path d="M1559.74 1896.80A86.30 86.30 0 0 1 1486.32 1855.85L1515.07 1838.09A52.50 52.50 0 0 0 1559.74 1863.00Z" fill="#f7c5dc"/>
<path d="M1486.32 1855.85A86.30 86.30 0 0 1 1483.68 1769.72L1513.47 1785.69A52.50 52.50 0 0 0 1515.07 1838.09Z" fill="#f7ba62"/>
<path d="M1483.68 1769.72A86.30 86.30 0 0 1 1559.74 1724.20L1559.74 1758.00A52.50 52.50 0 0 0 1513.47 1785.69Z" fill="#7ecef0"/>
<text class="v" x="1591.99" y="1752.68" transform="rotate(29.15 1591.99 1752.68)" textLength="33.6" lengthAdjust="spacingAndGlyphs">1529</text>
<text class="v" x="1627.31" y="1808.61" transform="rotate(88.4 1627.31 1808.61)" textLength="31" lengthAdjust="spacingAndGlyphs">1.20</text>
<text class="v" x="1594.92" y="1869.63" transform="rotate(-30.75 1594.92 1869.63)" textLength="31" lengthAdjust="spacingAndGlyphs">5.24</text>
<text class="v" x="1526.23" y="1870.59" transform="rotate(29.15 1526.23 1870.59)" textLength="39.4" lengthAdjust="spacingAndGlyphs">547.1</text>
<text class="v" x="1492.17" y="1812.56" transform="rotate(-91.75 1492.17 1812.56)" textLength="31" lengthAdjust="spacingAndGlyphs">1.85</text>
<text class="v" x="1525.74" y="1753.7" transform="rotate(-30.9 1525.74 1753.7)" textLength="39.4" lengthAdjust="spacingAndGlyphs">826.0</text>
<text class="n" x="1559.74" y="1780.2" textLength="14.22" lengthAdjust="spacingAndGlyphs">63</text>
<text class="s" x="1559.74" y="1815.5" fill="#a2c43c" stroke="#a2c43c" textLength="50.6" lengthAdjust="spacingAndGlyphs">Eu</text>
<text class="nm" x="1559.74" y="1832.3" textLength="47.35" lengthAdjust="spacingAndGlyphs">EUROPIUM</text>
<text class="m" x="1559.74" y="1845.2" textLength="48.79" lengthAdjust="spacingAndGlyphs">151.964</text>
<path d="M1733.12 1724.20A86.30 86.30 0 0 1 1806.54 1765.15L1777.79 1782.91A52.50 52.50 0 0 0 1733.12 1758.00Z" fill="#ed7174"/>
<path d="M1806.54 1765.15A86.30 86.30 0 0 1 1808.96 1851.68L1779.26 1835.55A52.50 52.50 0 0 0 1777.79 1782.91Z" fill="#d5c5df"/>
<path d="M1808.96 1851.68A86.30 86.30 0 0 1 1733.12 1896.80L1733.12 1863.00A52.50 52.50 0 0 0 1779.26 1835.55Z" fill="#c3dc80"/>
<path d="M1733.12 1896.80A86.30 86.30 0 0 1 1659.70 1855.85L1688.45 1838.09A52.50 52.50 0 0 0 1733.12 1863.00Z" fill="#f6c0d9"/>
<path d="M1659.70 1855.85A86.30 86.30 0 0 1 1657.06 1769.72L1686.85 1785.69A52.50 52.50 0 0 0 1688.45 1838.09Z" fill="#f7bc68"/>
<path d="M1657.06 1769.72A86.30 86.30 0 0 1 1733.12 1724.20L1733.12 1758.00A52.50 52.50 0 0 0 1686.85 1785.69Z" fill="#5fc2ed"/>
<text class="v" x="1765.37" y="1752.68" transform="rotate(29.15 1765.37 1752.68)" textLength="33.6" lengthAdjust="spacingAndGlyphs">3000</text>
<text class="v" x="1800.69" y="1808.61" transform="rotate(88.4 1800.69 1808.61)" textLength="31" lengthAdjust="spacingAndGlyphs">1.20</text>
<text class="v" x="1768.3" y="1869.63" transform="rotate(-30.75 1768.3 1869.63)" textLength="31" lengthAdjust="spacingAndGlyphs">7.90</text>
<text class="v" x="1699.61" y="1870.59" transform="rotate(29.15 1699.61 1870.59)" textLength="39.4" lengthAdjust="spacingAndGlyphs">593.4</text>
<text class="v" x="1665.55" y="1812.56" transform="rotate(-91.75 1665.55 1812.56)" textLength="31" lengthAdjust="spacingAndGlyphs">1.80</text>
<text class="v" x="1699.12" y="1753.7" transform="rotate(-30.9 1699.12 1753.7)" textLength="33.6" lengthAdjust="spacingAndGlyphs">1312</text>
<text class="n" x="1733.12" y="1780.2" textLength="14.22" lengthAdjust="spacingAndGlyphs">64</text>
<text class="s" x="1733.12" y="1815.5" fill="#a2c43c" stroke="#a2c43c" textLength="56.58" lengthAdjust="spacingAndGlyphs">Gd</text>
<text class="nm" x="1733.12" y="1832.3" textLength="57.08" lengthAdjust="spacingAndGlyphs">GADOLINIUM</text>
<text class="m" x="1733.12" y="1845.2" textLength="48.79" lengthAdjust="spacingAndGlyphs">157.253</text>
<path d="M1906.50 1724.20A86.30 86.30 0 0 1 1979.92 1765.15L1951.17 1782.91A52.50 52.50 0 0 0 1906.50 1758.00Z" fill="#ed6d70"/>
<path d="M1979.92 1765.15A86.30 86.30 0 0 1 1982.34 1851.68L1952.64 1835.55A52.50 52.50 0 0 0 1951.17 1782.91Z" fill="#d9cce3"/>
<path d="M1982.34 1851.68A86.30 86.30 0 0 1 1906.50 1896.80L1906.50 1863.00A52.50 52.50 0 0 0 1952.64 1835.55Z" fill="#c2db7e"/>
<path d="M1906.50 1896.80A86.30 86.30 0 0 1 1833.08 1855.85L1861.83 1838.09A52.50 52.50 0 0 0 1906.50 1863.00Z" fill="#f7c3db"/>
<path d="M1833.08 1855.85A86.30 86.30 0 0 1 1830.44 1769.72L1860.23 1785.69A52.50 52.50 0 0 0 1861.83 1838.09Z" fill="#f7bf6d"/>
<path d="M1830.44 1769.72A86.30 86.30 0 0 1 1906.50 1724.20L1906.50 1758.00A52.50 52.50 0 0 0 1860.23 1785.69Z" fill="#5dc1ed"/>
<text class="v" x="1938.75" y="1752.68" transform="rotate(29.15 1938.75 1752.68)" textLength="33.6" lengthAdjust="spacingAndGlyphs">3123</text>
<text class="v" x="1974.07" y="1808.61" transform="rotate(88.4 1974.07 1808.61)" textLength="31" lengthAdjust="spacingAndGlyphs">1.10</text>
<text class="v" x="1941.68" y="1869.63" transform="rotate(-30.75 1941.68 1869.63)" textLength="31" lengthAdjust="spacingAndGlyphs">8.22</text>
<text class="v" x="1872.99" y="1870.59" transform="rotate(29.15 1872.99 1870.59)" textLength="39.4" lengthAdjust="spacingAndGlyphs">565.8</text>
<text class="v" x="1838.93" y="1812.56" transform="rotate(-91.75 1838.93 1812.56)" textLength="31" lengthAdjust="spacingAndGlyphs">1.75</text>
<text class="v" x="1872.5" y="1753.7" transform="rotate(-30.9 1872.5 1753.7)" textLength="33.6" lengthAdjust="spacingAndGlyphs">1356</text>
<text class="n" x="1906.5" y="1780.2" textLength="14.22" lengthAdjust="spacingAndGlyphs">65</text>
<text class="s" x="1906.5" y="1815.5" fill="#a2c43c" stroke="#a2c43c" textLength="50.37" lengthAdjust="spacingAndGlyphs">Tb</text>
<text class="nm" x="1906.5" y="1832.3" textLength="40.87" lengthAdjust="spacingAndGlyphs">TERBIUM</text>
<text class="m" x="1906.5" y="1845.2" textLength="48.79" lengthAdjust="spacingAndGlyphs">158.925</text>
<path d="M2079.88 1724.20A86.30 86.30 0 0 1 2153.30 1765.15L2124.55 1782.91A52.50 52.50 0 0 0 2079.88 1758.00Z" fill="#ef8083"/>
<path d="M2153.30 1765.15A86.30 86.30 0 0 1 2155.72 1851.68L2126.02 1835.55A52.50 52.50 0 0 0 2124.55 1782.91Z" fill="#d4c4df"/>
<path d="M2155.72 1851.68A86.30 86.30 0 0 1 2079.88 1896.80L2079.88 1863.00A52.50 52.50 0 0 0 2126.02 1835.55Z" fill="#c1db7b"/>
<path d="M2079.88 1896.80A86.30 86.30 0 0 1 2006.46 1855.85L2035.21 1838.09A52.50 52.50 0 0 0 2079.88 1863.00Z" fill="#f7c2da"/>
<path d="M2006.46 1855.85A86.30 86.30 0 0 1 2003.82 1769.72L2033.61 1785.69A52.50 52.50 0 0 0 2035.21 1838.09Z" fill="#f7bf6d"/>
<path d="M2003.82 1769.72A86.30 86.30 0 0 1 2079.88 1724.20L2079.88 1758.00A52.50 52.50 0 0 0 2033.61 1785.69Z" fill="#5ac0ec"/>
<text class="v" x="2112.13" y="1752.68" transform="rotate(29.15 2112.13 1752.68)" textLength="33.6" lengthAdjust="spacingAndGlyphs">2567</text>
<text class="v" x="2147.45" y="1808.61" transform="rotate(88.4 2147.45 1808.61)" textLength="31" lengthAdjust="spacingAndGlyphs">1.22</text>
<text class="v" x="2115.06" y="1869.63" transform="rotate(-30.75 2115.06 1869.63)" textLength="31" lengthAdjust="spacingAndGlyphs">8.55</text>
<text class="v" x="2046.37" y="1870.59" transform="rotate(29.15 2046.37 1870.59)" textLength="39.4" lengthAdjust="spacingAndGlyphs">573.0</text>
<text class="v" x="2012.31" y="1812.56" transform="rotate(-91.75 2012.31 1812.56)" textLength="31" lengthAdjust="spacingAndGlyphs">1.75</text>
<text class="v" x="2045.88" y="1753.7" transform="rotate(-30.9 2045.88 1753.7)" textLength="33.6" lengthAdjust="spacingAndGlyphs">1407</text>
<text class="n" x="2079.88" y="1779.1" textLength="14.22" lengthAdjust="spacingAndGlyphs">66</text>
<text class="s" x="2079.88" y="1811.4" fill="#a2c43c" stroke="#a2c43c" textLength="51.26" lengthAdjust="spacingAndGlyphs" style="font-size:40.04px">Dy</text>
<text class="nm" x="2079.88" y="1834.1" textLength="58.99" lengthAdjust="spacingAndGlyphs">DYSPROSIUM</text>
<text class="m" x="2079.88" y="1847.6" textLength="48.79" lengthAdjust="spacingAndGlyphs">162.500</text>
<path d="M2253.26 1724.20A86.30 86.30 0 0 1 2326.68 1765.15L2297.93 1782.91A52.50 52.50 0 0 0 2253.26 1758.00Z" fill="#ef7f81"/>
<path d="M2326.68 1765.15A86.30 86.30 0 0 1 2329.10 1851.68L2299.40 1835.55A52.50 52.50 0 0 0 2297.93 1782.91Z" fill="#d3c4de"/>
<path d="M2329.10 1851.68A86.30 86.30 0 0 1 2253.26 1896.80L2253.26 1863.00A52.50 52.50 0 0 0 2299.40 1835.55Z" fill="#c0da79"/>
<path d="M2253.26 1896.80A86.30 86.30 0 0 1 2179.84 1855.85L2208.59 1838.09A52.50 52.50 0 0 0 2253.26 1863.00Z" fill="#f7c1da"/>
<path d="M2179.84 1855.85A86.30 86.30 0 0 1 2177.20 1769.72L2206.99 1785.69A52.50 52.50 0 0 0 2208.59 1838.09Z" fill="#f7bf6d"/>
<path d="M2177.20 1769.72A86.30 86.30 0 0 1 2253.26 1724.20L2253.26 1758.00A52.50 52.50 0 0 0 2206.99 1785.69Z" fill="#56bfec"/>
<text class="v" x="2285.51" y="1752.68" transform="rotate(29.15 2285.51 1752.68)" textLength="33.6" lengthAdjust="spacingAndGlyphs">2600</text>
<text class="v" x="2320.83" y="1808.61" transform="rotate(88.4 2320.83 1808.61)" textLength="31" lengthAdjust="spacingAndGlyphs">1.23</text>
<text class="v" x="2288.44" y="1869.63" transform="rotate(-30.75 2288.44 1869.63)" textLength="31" lengthAdjust="spacingAndGlyphs">8.79</text>
<text class="v" x="2219.75" y="1870.59" transform="rotate(29.15 2219.75 1870.59)" textLength="39.4" lengthAdjust="spacingAndGlyphs">581.0</text>
<text class="v" x="2185.69" y="1812.56" transform="rotate(-91.75 2185.69 1812.56)" textLength="31" lengthAdjust="spacingAndGlyphs">1.75</text>
<text class="v" x="2219.26" y="1753.7" transform="rotate(-30.9 2219.26 1753.7)" textLength="33.6" lengthAdjust="spacingAndGlyphs">1461</text>
<text class="n" x="2253.26" y="1780.2" textLength="14.22" lengthAdjust="spacingAndGlyphs">67</text>
<text class="s" x="2253.26" y="1815.5" fill="#a2c43c" stroke="#a2c43c" textLength="57.75" lengthAdjust="spacingAndGlyphs">Ho</text>
<text class="nm" x="2253.26" y="1832.3" textLength="43.19" lengthAdjust="spacingAndGlyphs">HOLMIUM</text>
<text class="m" x="2253.26" y="1845.2" textLength="48.79" lengthAdjust="spacingAndGlyphs">164.930</text>
<path d="M2426.64 1724.20A86.30 86.30 0 0 1 2500.06 1765.15L2471.31 1782.91A52.50 52.50 0 0 0 2426.64 1758.00Z" fill="#ee7678"/>
<path d="M2500.06 1765.15A86.30 86.30 0 0 1 2502.48 1851.68L2472.78 1835.55A52.50 52.50 0 0 0 2471.31 1782.91Z" fill="#d3c3de"/>
<path d="M2502.48 1851.68A86.30 86.30 0 0 1 2426.64 1896.80L2426.64 1863.00A52.50 52.50 0 0 0 2472.78 1835.55Z" fill="#bfd977"/>
<path d="M2426.64 1896.80A86.30 86.30 0 0 1 2353.22 1855.85L2381.97 1838.09A52.50 52.50 0 0 0 2426.64 1863.00Z" fill="#f6c0d9"/>
<path d="M2353.22 1855.85A86.30 86.30 0 0 1 2350.58 1769.72L2380.37 1785.69A52.50 52.50 0 0 0 2381.97 1838.09Z" fill="#f7bf6d"/>
<path d="M2350.58 1769.72A86.30 86.30 0 0 1 2426.64 1724.20L2426.64 1758.00A52.50 52.50 0 0 0 2380.37 1785.69Z" fill="#52bdeb"/>
<text class="v" x="2458.89" y="1752.68" transform="rotate(29.15 2458.89 1752.68)" textLength="33.6" lengthAdjust="spacingAndGlyphs">2868</text>
<text class="v" x="2494.21" y="1808.61" transform="rotate(88.4 2494.21 1808.61)" textLength="31" lengthAdjust="spacingAndGlyphs">1.24</text>
<text class="v" x="2461.82" y="1869.63" transform="rotate(-30.75 2461.82 1869.63)" textLength="31" lengthAdjust="spacingAndGlyphs">9.07</text>
<text class="v" x="2393.13" y="1870.59" transform="rotate(29.15 2393.13 1870.59)" textLength="39.4" lengthAdjust="spacingAndGlyphs">589.3</text>
<text class="v" x="2359.07" y="1812.56" transform="rotate(-91.75 2359.07 1812.56)" textLength="31" lengthAdjust="spacingAndGlyphs">1.75</text>
<text class="v" x="2392.64" y="1753.7" transform="rotate(-30.9 2392.64 1753.7)" textLength="33.6" lengthAdjust="spacingAndGlyphs">1529</text>
<text class="n" x="2426.64" y="1780.2" textLength="14.22" lengthAdjust="spacingAndGlyphs">68</text>
<text class="s" x="2426.64" y="1815.5" fill="#a2c43c" stroke="#a2c43c" textLength="41.91" lengthAdjust="spacingAndGlyphs">Er</text>
<text class="nm" x="2426.64" y="1832.3" textLength="35.17" lengthAdjust="spacingAndGlyphs">ERBIUM</text>
<text class="m" x="2426.64" y="1845.2" textLength="48.79" lengthAdjust="spacingAndGlyphs">167.259</text>
<path d="M2600.02 1724.20A86.30 86.30 0 0 1 2673.44 1765.15L2644.69 1782.91A52.50 52.50 0 0 0 2600.02 1758.00Z" fill="#f29b9d"/>
<path d="M2673.44 1765.15A86.30 86.30 0 0 1 2675.86 1851.68L2646.16 1835.55A52.50 52.50 0 0 0 2644.69 1782.91Z" fill="#d3c2de"/>
<path d="M2675.86 1851.68A86.30 86.30 0 0 1 2600.02 1896.80L2600.02 1863.00A52.50 52.50 0 0 0 2646.16 1835.55Z" fill="#bed975"/>
<path d="M2600.02 1896.80A86.30 86.30 0 0 1 2526.60 1855.85L2555.35 1838.09A52.50 52.50 0 0 0 2600.02 1863.00Z" fill="#f6c0d9"/>
<path d="M2526.60 1855.85A86.30 86.30 0 0 1 2523.96 1769.72L2553.75 1785.69A52.50 52.50 0 0 0 2555.35 1838.09Z" fill="#f7bf6d"/>
<path d="M2523.96 1769.72A86.30 86.30 0 0 1 2600.02 1724.20L2600.02 1758.00A52.50 52.50 0 0 0 2553.75 1785.69Z" fill="#51bdeb"/>
<text class="v" x="2632.27" y="1752.68" transform="rotate(29.15 2632.27 1752.68)" textLength="33.6" lengthAdjust="spacingAndGlyphs">1730</text>
<text class="v" x="2667.59" y="1808.61" transform="rotate(88.4 2667.59 1808.61)" textLength="31" lengthAdjust="spacingAndGlyphs">1.25</text>
<text class="v" x="2635.2" y="1869.63" transform="rotate(-30.75 2635.2 1869.63)" textLength="31" lengthAdjust="spacingAndGlyphs">9.32</text>
<text class="v" x="2566.51" y="1870.59" transform="rotate(29.15 2566.51 1870.59)" textLength="39.4" lengthAdjust="spacingAndGlyphs">596.7</text>
<text class="v" x="2532.45" y="1812.56" transform="rotate(-91.75 2532.45 1812.56)" textLength="31" lengthAdjust="spacingAndGlyphs">1.75</text>
<text class="v" x="2566.02" y="1753.7" transform="rotate(-30.9 2566.02 1753.7)" textLength="33.6" lengthAdjust="spacingAndGlyphs">1545</text>
<text class="n" x="2600.02" y="1780.2" textLength="14.22" lengthAdjust="spacingAndGlyphs">69</text>
<text class="s" x="2600.02" y="1815.5" fill="#a2c43c" stroke="#a2c43c" textLength="65.31" lengthAdjust="spacingAndGlyphs">Tm</text>
<text class="nm" x="2600.02" y="1832.3" textLength="40.82" lengthAdjust="spacingAndGlyphs">THULIUM</text>
<text class="m" x="2600.02" y="1845.2" textLength="48.79" lengthAdjust="spacingAndGlyphs">168.934</text>
<path d="M2773.40 1724.20A86.30 86.30 0 0 1 2846.82 1765.15L2818.07 1782.91A52.50 52.50 0 0 0 2773.40 1758.00Z" fill="#f4abac"/>
<path d="M2846.82 1765.15A86.30 86.30 0 0 1 2849.24 1851.68L2819.54 1835.55A52.50 52.50 0 0 0 2818.07 1782.91Z" fill="#d9cce3"/>
<path d="M2849.24 1851.68A86.30 86.30 0 0 1 2773.40 1896.80L2773.40 1863.00A52.50 52.50 0 0 0 2819.54 1835.55Z" fill="#c9df8b"/>
<path d="M2773.40 1896.80A86.30 86.30 0 0 1 2699.98 1855.85L2728.73 1838.09A52.50 52.50 0 0 0 2773.40 1863.00Z" fill="#f6bfd8"/>
<path d="M2699.98 1855.85A86.30 86.30 0 0 1 2697.34 1769.72L2727.13 1785.69A52.50 52.50 0 0 0 2728.73 1838.09Z" fill="#f7bf6d"/>
<path d="M2697.34 1769.72A86.30 86.30 0 0 1 2773.40 1724.20L2773.40 1758.00A52.50 52.50 0 0 0 2727.13 1785.69Z" fill="#7ecef0"/>
<text class="v" x="2805.65" y="1752.68" transform="rotate(29.15 2805.65 1752.68)" textLength="33.6" lengthAdjust="spacingAndGlyphs">1196</text>
<text class="v" x="2840.97" y="1808.61" transform="rotate(88.4 2840.97 1808.61)" textLength="31" lengthAdjust="spacingAndGlyphs">1.10</text>
<text class="v" x="2808.58" y="1869.63" transform="rotate(-30.75 2808.58 1869.63)" textLength="31" lengthAdjust="spacingAndGlyphs">6.57</text>
<text class="v" x="2739.89" y="1870.59" transform="rotate(29.15 2739.89 1870.59)" textLength="39.4" lengthAdjust="spacingAndGlyphs">603.4</text>
<text class="v" x="2705.83" y="1812.56" transform="rotate(-91.75 2705.83 1812.56)" textLength="31" lengthAdjust="spacingAndGlyphs">1.75</text>
<text class="v" x="2739.4" y="1753.7" transform="rotate(-30.9 2739.4 1753.7)" textLength="39.4" lengthAdjust="spacingAndGlyphs">824.0</text>
<text class="n" x="2773.4" y="1780.2" textLength="14.22" lengthAdjust="spacingAndGlyphs">70</text>
<text class="s" x="2773.4" y="1811.5" fill="#a2c43c" stroke="#a2c43c" textLength="48.11" lengthAdjust="spacingAndGlyphs" style="font-size:39.19px">Yb</text>
<text class="nm" x="2773.4" y="1832.3" textLength="52.88" lengthAdjust="spacingAndGlyphs">YTTERBIUM</text>
<text class="m" x="2773.4" y="1845.2" textLength="48.79" lengthAdjust="spacingAndGlyphs">173.054</text>
<path d="M2946.78 1724.20A86.30 86.30 0 0 1 3020.20 1765.15L2991.45 1782.91A52.50 52.50 0 0 0 2946.78 1758.00Z" fill="#eb6366"/>
<path d="M3020.20 1765.15A86.30 86.30 0 0 1 3022.62 1851.68L2992.92 1835.55A52.50 52.50 0 0 0 2991.45 1782.91Z" fill="#d2c1dd"/>
<path d="M3022.62 1851.68A86.30 86.30 0 0 1 2946.78 1896.80L2946.78 1863.00A52.50 52.50 0 0 0 2992.92 1835.55Z" fill="#bcd871"/>
<path d="M2946.78 1896.80A86.30 86.30 0 0 1 2873.36 1855.85L2902.11 1838.09A52.50 52.50 0 0 0 2946.78 1863.00Z" fill="#f7c8de"/>
<path d="M2873.36 1855.85A86.30 86.30 0 0 1 2870.72 1769.72L2900.51 1785.69A52.50 52.50 0 0 0 2902.11 1838.09Z" fill="#f7bf6d"/>
<path d="M2870.72 1769.72A86.30 86.30 0 0 1 2946.78 1724.20L2946.78 1758.00A52.50 52.50 0 0 0 2900.51 1785.69Z" fill="#4bbbeb"/>
<text class="v" x="2979.03" y="1752.68" transform="rotate(29.15 2979.03 1752.68)" textLength="33.6" lengthAdjust="spacingAndGlyphs">3402</text>
<text class="v" x="3014.35" y="1808.61" transform="rotate(88.4 3014.35 1808.61)" textLength="31" lengthAdjust="spacingAndGlyphs">1.27</text>
<text class="v" x="2981.96" y="1869.63" transform="rotate(-30.75 2981.96 1869.63)" textLength="31" lengthAdjust="spacingAndGlyphs">9.84</text>
<text class="v" x="2913.27" y="1870.59" transform="rotate(29.15 2913.27 1870.59)" textLength="39.4" lengthAdjust="spacingAndGlyphs">523.5</text>
<text class="v" x="2879.21" y="1812.56" transform="rotate(-91.75 2879.21 1812.56)" textLength="31" lengthAdjust="spacingAndGlyphs">1.75</text>
<text class="v" x="2912.78" y="1753.7" transform="rotate(-30.9 2912.78 1753.7)" textLength="33.6" lengthAdjust="spacingAndGlyphs">1652</text>
<text class="n" x="2946.78" y="1780.2" textLength="14.22" lengthAdjust="spacingAndGlyphs">71</text>
<text class="s" x="2946.78" y="1815.5" fill="#f8a922" stroke="#f8a922" textLength="50.81" lengthAdjust="spacingAndGlyphs">Lu</text>
<text class="nm" x="2946.78" y="1832.3" textLength="45.73" lengthAdjust="spacingAndGlyphs">LUTETIUM</text>
<text class="m" x="2946.78" y="1845.2" textLength="48.79" lengthAdjust="spacingAndGlyphs">174.967</text>
<path d="M692.84 1259.45A86.30 86.30 0 0 1 766.26 1300.40L737.51 1318.16A52.50 52.50 0 0 0 692.84 1293.25Z" fill="#e6363b"/>
<path d="M766.26 1300.40A86.30 86.30 0 0 1 768.68 1386.93L738.98 1370.80A52.50 52.50 0 0 0 737.51 1318.16Z" fill="#d0bfdc"/>
<path d="M768.68 1386.93A86.30 86.30 0 0 1 692.84 1432.05L692.84 1398.25A52.50 52.50 0 0 0 738.98 1370.80Z" fill="#b0d158"/>
<path d="M692.84 1432.05A86.30 86.30 0 0 1 619.42 1391.10L648.17 1373.34A52.50 52.50 0 0 0 692.84 1398.25Z" fill="#f5bad5"/>
<path d="M619.42 1391.10A86.30 86.30 0 0 1 616.78 1304.97L646.57 1320.94A52.50 52.50 0 0 0 648.17 1373.34Z" fill="#f8c882"/>
<path d="M616.78 1304.97A86.30 86.30 0 0 1 692.84 1259.45L692.84 1293.25A52.50 52.50 0 0 0 646.57 1320.94Z" fill="#2aaee7"/>
<text class="v" x="725.09" y="1287.93" transform="rotate(29.15 725.09 1287.93)" textLength="33.6" lengthAdjust="spacingAndGlyphs">4603</text>
<text class="v" x="760.41" y="1343.86" transform="rotate(88.4 760.41 1343.86)" textLength="31" lengthAdjust="spacingAndGlyphs">1.30</text>
<text class="v" x="728.02" y="1404.88" transform="rotate(-30.75 728.02 1404.88)" textLength="39.4" lengthAdjust="spacingAndGlyphs">13.31</text>
<text class="v" x="659.33" y="1405.84" transform="rotate(29.15 659.33 1405.84)" textLength="39.4" lengthAdjust="spacingAndGlyphs">658.5</text>
<text class="v" x="625.27" y="1347.81" transform="rotate(-91.75 625.27 1347.81)" textLength="31" lengthAdjust="spacingAndGlyphs">1.55</text>
<text class="v" x="658.84" y="1288.95" transform="rotate(-30.9 658.84 1288.95)" textLength="33.6" lengthAdjust="spacingAndGlyphs">2233</text>
<text class="n" x="692.84" y="1315.45" textLength="14.22" lengthAdjust="spacingAndGlyphs">72</text>
<text class="s" x="692.84" y="1350.75" fill="#f8a922" stroke="#f8a922" textLength="47.82" lengthAdjust="spacingAndGlyphs">Hf</text>
<text class="nm" x="692.84" y="1367.55" textLength="41.67" lengthAdjust="spacingAndGlyphs">HAFNIUM</text>
<text class="m" x="692.84" y="1380.45" textLength="48.79" lengthAdjust="spacingAndGlyphs">178.492</text>
<path d="M866.22 1259.45A86.30 86.30 0 0 1 939.64 1300.40L910.89 1318.16A52.50 52.50 0 0 0 866.22 1293.25Z" fill="#e2171c"/>
<path d="M939.64 1300.40A86.30 86.30 0 0 1 942.06 1386.93L912.36 1370.80A52.50 52.50 0 0 0 910.89 1318.16Z" fill="#c7b3d5"/>
<path d="M942.06 1386.93A86.30 86.30 0 0 1 866.22 1432.05L866.22 1398.25A52.50 52.50 0 0 0 912.36 1370.80Z" fill="#a6cb42"/>
<path d="M866.22 1432.05A86.30 86.30 0 0 1 792.80 1391.10L821.55 1373.34A52.50 52.50 0 0 0 866.22 1398.25Z" fill="#f5b3d1"/>
<path d="M792.80 1391.10A86.30 86.30 0 0 1 790.16 1304.97L819.95 1320.94A52.50 52.50 0 0 0 821.55 1373.34Z" fill="#f9cc8d"/>
<path d="M790.16 1304.97A86.30 86.30 0 0 1 866.22 1259.45L866.22 1293.25A52.50 52.50 0 0 0 819.95 1320.94Z" fill="#009ee2"/>
<text class="v" x="898.47" y="1287.93" transform="rotate(29.15 898.47 1287.93)" textLength="33.6" lengthAdjust="spacingAndGlyphs">5458</text>
<text class="v" x="933.79" y="1343.86" transform="rotate(88.4 933.79 1343.86)" textLength="31" lengthAdjust="spacingAndGlyphs">1.50</text>
<text class="v" x="901.4" y="1404.88" transform="rotate(-30.75 901.4 1404.88)" textLength="39.4" lengthAdjust="spacingAndGlyphs">16.65</text>
<text class="v" x="832.71" y="1405.84" transform="rotate(29.15 832.71 1405.84)" textLength="39.4" lengthAdjust="spacingAndGlyphs">728.4</text>
<text class="v" x="798.65" y="1347.81" transform="rotate(-91.75 798.65 1347.81)" textLength="31" lengthAdjust="spacingAndGlyphs">1.45</text>
<text class="v" x="832.22" y="1288.95" transform="rotate(-30.9 832.22 1288.95)" textLength="33.6" lengthAdjust="spacingAndGlyphs">3017</text>
<text class="n" x="866.22" y="1315.45" textLength="14.22" lengthAdjust="spacingAndGlyphs">73</text>
<text class="s" x="866.22" y="1350.75" fill="#f8a922" stroke="#f8a922" textLength="49.14" lengthAdjust="spacingAndGlyphs">Ta</text>
<text class="nm" x="866.22" y="1367.55" textLength="48.22" lengthAdjust="spacingAndGlyphs">TANTALUM</text>
<text class="m" x="866.22" y="1380.45" textLength="48.79" lengthAdjust="spacingAndGlyphs">180.948</text>
<path d="M1039.60 1259.45A86.30 86.30 0 0 1 1113.02 1300.40L1084.27 1318.16A52.50 52.50 0 0 0 1039.60 1293.25Z" fill="#e2171c"/>
<path d="M1113.02 1300.40A86.30 86.30 0 0 1 1115.44 1386.93L1085.74 1370.80A52.50 52.50 0 0 0 1084.27 1318.16Z" fill="#a07db7"/>
<path d="M1115.44 1386.93A86.30 86.30 0 0 1 1039.60 1432.05L1039.60 1398.25A52.50 52.50 0 0 0 1085.74 1370.80Z" fill="#9ec632"/>
<path d="M1039.60 1432.05A86.30 86.30 0 0 1 966.18 1391.10L994.93 1373.34A52.50 52.50 0 0 0 1039.60 1398.25Z" fill="#f4b1d0"/>
<path d="M966.18 1391.10A86.30 86.30 0 0 1 963.54 1304.97L993.33 1320.94A52.50 52.50 0 0 0 994.93 1373.34Z" fill="#f9d196"/>
<path d="M963.54 1304.97A86.30 86.30 0 0 1 1039.60 1259.45L1039.60 1293.25A52.50 52.50 0 0 0 993.33 1320.94Z" fill="#009ee2"/>
<text class="v" x="1071.85" y="1287.93" transform="rotate(29.15 1071.85 1287.93)" textLength="33.6" lengthAdjust="spacingAndGlyphs">5930</text>
<text class="v" x="1107.17" y="1343.86" transform="rotate(88.4 1107.17 1343.86)" textLength="31" lengthAdjust="spacingAndGlyphs">2.36</text>
<text class="v" x="1074.78" y="1404.88" transform="rotate(-30.75 1074.78 1404.88)" textLength="39.4" lengthAdjust="spacingAndGlyphs">19.25</text>
<text class="v" x="1006.09" y="1405.84" transform="rotate(29.15 1006.09 1405.84)" textLength="39.4" lengthAdjust="spacingAndGlyphs">758.8</text>
<text class="v" x="972.03" y="1347.81" transform="rotate(-91.75 972.03 1347.81)" textLength="31" lengthAdjust="spacingAndGlyphs">1.35</text>
<text class="v" x="1005.6" y="1288.95" transform="rotate(-30.9 1005.6 1288.95)" textLength="33.6" lengthAdjust="spacingAndGlyphs">3422</text>
<text class="n" x="1039.6" y="1315.45" textLength="14.22" lengthAdjust="spacingAndGlyphs">74</text>
<text class="s" x="1039.6" y="1350.75" fill="#f8a922" stroke="#f8a922" textLength="39.88" lengthAdjust="spacingAndGlyphs">W</text>
<text class="nm" x="1039.6" y="1367.55" textLength="47.68" lengthAdjust="spacingAndGlyphs">TUNGSTEN</text>
<text class="m" x="1039.6" y="1380.45" textLength="48.79" lengthAdjust="spacingAndGlyphs">183.841</text>
<path d="M1212.98 1259.45A86.30 86.30 0 0 1 1286.40 1300.40L1257.65 1318.16A52.50 52.50 0 0 0 1212.98 1293.25Z" fill="#e2171c"/>
<path d="M1286.40 1300.40A86.30 86.30 0 0 1 1288.82 1386.93L1259.12 1370.80A52.50 52.50 0 0 0 1257.65 1318.16Z" fill="#b59ac7"/>
<path d="M1288.82 1386.93A86.30 86.30 0 0 1 1212.98 1432.05L1212.98 1398.25A52.50 52.50 0 0 0 1259.12 1370.80Z" fill="#99c427"/>
<path d="M1212.98 1432.05A86.30 86.30 0 0 1 1139.56 1391.10L1168.31 1373.34A52.50 52.50 0 0 0 1212.98 1398.25Z" fill="#f4b1d0"/>
<path d="M1139.56 1391.10A86.30 86.30 0 0 1 1136.92 1304.97L1166.71 1320.94A52.50 52.50 0 0 0 1168.31 1373.34Z" fill="#f9d196"/>
<path d="M1136.92 1304.97A86.30 86.30 0 0 1 1212.98 1259.45L1212.98 1293.25A52.50 52.50 0 0 0 1166.71 1320.94Z" fill="#009ee2"/>
<text class="v" x="1245.23" y="1287.93" transform="rotate(29.15 1245.23 1287.93)" textLength="33.6" lengthAdjust="spacingAndGlyphs">5596</text>
<text class="v" x="1280.55" y="1343.86" transform="rotate(88.4 1280.55 1343.86)" textLength="31" lengthAdjust="spacingAndGlyphs">1.90</text>
<text class="v" x="1248.16" y="1404.88" transform="rotate(-30.75 1248.16 1404.88)" textLength="39.4" lengthAdjust="spacingAndGlyphs">21.02</text>
<text class="v" x="1179.47" y="1405.84" transform="rotate(29.15 1179.47 1405.84)" textLength="39.4" lengthAdjust="spacingAndGlyphs">755.8</text>
<text class="v" x="1145.41" y="1347.81" transform="rotate(-91.75 1145.41 1347.81)" textLength="31" lengthAdjust="spacingAndGlyphs">1.35</text>
<text class="v" x="1178.98" y="1288.95" transform="rotate(-30.9 1178.98 1288.95)" textLength="33.6" lengthAdjust="spacingAndGlyphs">3186</text>
<text class="n" x="1212.98" y="1315.45" textLength="14.22" lengthAdjust="spacingAndGlyphs">75</text>
<text class="s" x="1212.98" y="1350.75" fill="#f8a922" stroke="#f8a922" textLength="52.04" lengthAdjust="spacingAndGlyphs">Re</text>
<text class="nm" x="1212.98" y="1367.55" textLength="41.96" lengthAdjust="spacingAndGlyphs">RHENIUM</text>
<text class="m" x="1212.98" y="1380.45" textLength="48.79" lengthAdjust="spacingAndGlyphs">186.207</text>
<path d="M1386.36 1259.45A86.30 86.30 0 0 1 1459.78 1300.40L1431.03 1318.16A52.50 52.50 0 0 0 1386.36 1293.25Z" fill="#e4262b"/>
<path d="M1459.78 1300.40A86.30 86.30 0 0 1 1462.20 1386.93L1432.50 1370.80A52.50 52.50 0 0 0 1431.03 1318.16Z" fill="#a787bd"/>
<path d="M1462.20 1386.93A86.30 86.30 0 0 1 1386.36 1432.05L1386.36 1398.25A52.50 52.50 0 0 0 1432.50 1370.80Z" fill="#95c11e"/>
<path d="M1386.36 1432.05A86.30 86.30 0 0 1 1312.94 1391.10L1341.69 1373.34A52.50 52.50 0 0 0 1386.36 1398.25Z" fill="#f4accd"/>
<path d="M1312.94 1391.10A86.30 86.30 0 0 1 1310.30 1304.97L1340.09 1320.94A52.50 52.50 0 0 0 1341.69 1373.34Z" fill="#fad39b"/>
<path d="M1310.30 1304.97A86.30 86.30 0 0 1 1386.36 1259.45L1386.36 1293.25A52.50 52.50 0 0 0 1340.09 1320.94Z" fill="#009ee2"/>
<text class="v" x="1418.61" y="1287.93" transform="rotate(29.15 1418.61 1287.93)" textLength="33.6" lengthAdjust="spacingAndGlyphs">5012</text>
<text class="v" x="1453.93" y="1343.86" transform="rotate(88.4 1453.93 1343.86)" textLength="31" lengthAdjust="spacingAndGlyphs">2.20</text>
<text class="v" x="1421.54" y="1404.88" transform="rotate(-30.75 1421.54 1404.88)" textLength="39.4" lengthAdjust="spacingAndGlyphs">22.61</text>
<text class="v" x="1352.85" y="1405.84" transform="rotate(29.15 1352.85 1405.84)" textLength="39.4" lengthAdjust="spacingAndGlyphs">814.2</text>
<text class="v" x="1318.79" y="1347.81" transform="rotate(-91.75 1318.79 1347.81)" textLength="31" lengthAdjust="spacingAndGlyphs">1.30</text>
<text class="v" x="1352.36" y="1288.95" transform="rotate(-30.9 1352.36 1288.95)" textLength="33.6" lengthAdjust="spacingAndGlyphs">3033</text>
<text class="n" x="1386.36" y="1315.45" textLength="14.22" lengthAdjust="spacingAndGlyphs">76</text>
<text class="s" x="1386.36" y="1350.75" fill="#f8a922" stroke="#f8a922" textLength="53.84" lengthAdjust="spacingAndGlyphs">Os</text>
<text class="nm" x="1386.36" y="1367.55" textLength="37.1" lengthAdjust="spacingAndGlyphs">OSMIUM</text>
<text class="m" x="1386.36" y="1380.45" textLength="48.79" lengthAdjust="spacingAndGlyphs">190.233</text>
<path d="M1559.74 1259.45A86.30 86.30 0 0 1 1633.16 1300.40L1604.41 1318.16A52.50 52.50 0 0 0 1559.74 1293.25Z" fill="#e8484c"/>
<path d="M1633.16 1300.40A86.30 86.30 0 0 1 1635.58 1386.93L1605.88 1370.80A52.50 52.50 0 0 0 1604.41 1318.16Z" fill="#a787bd"/>
<path d="M1635.58 1386.93A86.30 86.30 0 0 1 1559.74 1432.05L1559.74 1398.25A52.50 52.50 0 0 0 1605.88 1370.80Z" fill="#95c11e"/>
<path d="M1559.74 1432.05A86.30 86.30 0 0 1 1486.32 1391.10L1515.07 1373.34A52.50 52.50 0 0 0 1559.74 1398.25Z" fill="#f3a8cb"/>
<path d="M1486.32 1391.10A86.30 86.30 0 0 1 1483.68 1304.97L1513.47 1320.94A52.50 52.50 0 0 0 1515.07 1373.34Z" fill="#f9d196"/>
<path d="M1483.68 1304.97A86.30 86.30 0 0 1 1559.74 1259.45L1559.74 1293.25A52.50 52.50 0 0 0 1513.47 1320.94Z" fill="#1ea9e5"/>
<text class="v" x="1591.99" y="1287.93" transform="rotate(29.15 1591.99 1287.93)" textLength="33.6" lengthAdjust="spacingAndGlyphs">4130</text>
<text class="v" x="1627.31" y="1343.86" transform="rotate(88.4 1627.31 1343.86)" textLength="31" lengthAdjust="spacingAndGlyphs">2.20</text>
<text class="v" x="1594.92" y="1404.88" transform="rotate(-30.75 1594.92 1404.88)" textLength="39.4" lengthAdjust="spacingAndGlyphs">22.65</text>
<text class="v" x="1526.23" y="1405.84" transform="rotate(29.15 1526.23 1405.84)" textLength="39.4" lengthAdjust="spacingAndGlyphs">865.2</text>
<text class="v" x="1492.17" y="1347.81" transform="rotate(-91.75 1492.17 1347.81)" textLength="31" lengthAdjust="spacingAndGlyphs">1.35</text>
<text class="v" x="1525.74" y="1288.95" transform="rotate(-30.9 1525.74 1288.95)" textLength="33.6" lengthAdjust="spacingAndGlyphs">2446</text>
<text class="n" x="1559.74" y="1315.45" textLength="14.22" lengthAdjust="spacingAndGlyphs">77</text>
<text class="s" x="1559.74" y="1350.75" fill="#f8a922" stroke="#f8a922" textLength="32.1" lengthAdjust="spacingAndGlyphs">Ir</text>
<text class="nm" x="1559.74" y="1367.55" textLength="36.16" lengthAdjust="spacingAndGlyphs">IRIDIUM</text>
<text class="m" x="1559.74" y="1380.45" textLength="48.79" lengthAdjust="spacingAndGlyphs">192.217</text>
<path d="M1733.12 1259.45A86.30 86.30 0 0 1 1806.54 1300.40L1777.79 1318.16A52.50 52.50 0 0 0 1733.12 1293.25Z" fill="#ea5357"/>
<path d="M1806.54 1300.40A86.30 86.30 0 0 1 1808.96 1386.93L1779.26 1370.80A52.50 52.50 0 0 0 1777.79 1318.16Z" fill="#a382ba"/>
<path d="M1808.96 1386.93A86.30 86.30 0 0 1 1733.12 1432.05L1733.12 1398.25A52.50 52.50 0 0 0 1779.26 1370.80Z" fill="#99c327"/>
<path d="M1733.12 1432.05A86.30 86.30 0 0 1 1659.70 1391.10L1688.45 1373.34A52.50 52.50 0 0 0 1733.12 1398.25Z" fill="#f3a8cb"/>
<path d="M1659.70 1391.10A86.30 86.30 0 0 1 1657.06 1304.97L1686.85 1320.94A52.50 52.50 0 0 0 1688.45 1373.34Z" fill="#f9d196"/>
<path d="M1657.06 1304.97A86.30 86.30 0 0 1 1733.12 1259.45L1733.12 1293.25A52.50 52.50 0 0 0 1686.85 1320.94Z" fill="#44b8ea"/>
<text class="v" x="1765.37" y="1287.93" transform="rotate(29.15 1765.37 1287.93)" textLength="33.6" lengthAdjust="spacingAndGlyphs">3825</text>
<text class="v" x="1800.69" y="1343.86" transform="rotate(88.4 1800.69 1343.86)" textLength="31" lengthAdjust="spacingAndGlyphs">2.28</text>
<text class="v" x="1768.3" y="1404.88" transform="rotate(-30.75 1768.3 1404.88)" textLength="39.4" lengthAdjust="spacingAndGlyphs">21.09</text>
<text class="v" x="1699.61" y="1405.84" transform="rotate(29.15 1699.61 1405.84)" textLength="39.4" lengthAdjust="spacingAndGlyphs">864.4</text>
<text class="v" x="1665.55" y="1347.81" transform="rotate(-91.75 1665.55 1347.81)" textLength="31" lengthAdjust="spacingAndGlyphs">1.35</text>
<text class="v" x="1699.12" y="1288.95" transform="rotate(-30.9 1699.12 1288.95)" textLength="33.6" lengthAdjust="spacingAndGlyphs">1768</text>
<text class="n" x="1733.12" y="1315.45" textLength="14.22" lengthAdjust="spacingAndGlyphs">78</text>
<text class="s" x="1733.12" y="1350.75" fill="#f8a922" stroke="#f8a922" textLength="43.95" lengthAdjust="spacingAndGlyphs">Pt</text>
<text class="nm" x="1733.12" y="1367.55" textLength="46.33" lengthAdjust="spacingAndGlyphs">PLATINUM</text>
<text class="m" x="1733.12" y="1380.45" textLength="48.79" lengthAdjust="spacingAndGlyphs">195.084</text>
<path d="M1906.50 1259.45A86.30 86.30 0 0 1 1979.92 1300.40L1951.17 1318.16A52.50 52.50 0 0 0 1906.50 1293.25Z" fill="#ed7275"/>
<path d="M1979.92 1300.40A86.30 86.30 0 0 1 1982.34 1386.93L1952.64 1370.80A52.50 52.50 0 0 0 1951.17 1318.16Z" fill="#9872b1"/>
<path d="M1982.34 1386.93A86.30 86.30 0 0 1 1906.50 1432.05L1906.50 1398.25A52.50 52.50 0 0 0 1952.64 1370.80Z" fill="#9ec631"/>
<path d="M1906.50 1432.05A86.30 86.30 0 0 1 1833.08 1391.10L1861.83 1373.34A52.50 52.50 0 0 0 1906.50 1398.25Z" fill="#f3a6ca"/>
<path d="M1833.08 1391.10A86.30 86.30 0 0 1 1830.44 1304.97L1860.23 1320.94A52.50 52.50 0 0 0 1861.83 1373.34Z" fill="#f9d196"/>
<path d="M1830.44 1304.97A86.30 86.30 0 0 1 1906.50 1259.45L1906.50 1293.25A52.50 52.50 0 0 0 1860.23 1320.94Z" fill="#6fc8ef"/>
<text class="v" x="1938.75" y="1287.93" transform="rotate(29.15 1938.75 1287.93)" textLength="33.6" lengthAdjust="spacingAndGlyphs">2970</text>
<text class="v" x="1974.07" y="1343.86" transform="rotate(88.4 1974.07 1343.86)" textLength="31" lengthAdjust="spacingAndGlyphs">2.54</text>
<text class="v" x="1941.68" y="1404.88" transform="rotate(-30.75 1941.68 1404.88)" textLength="39.4" lengthAdjust="spacingAndGlyphs">19.32</text>
<text class="v" x="1872.99" y="1405.84" transform="rotate(29.15 1872.99 1405.84)" textLength="39.4" lengthAdjust="spacingAndGlyphs">890.1</text>
<text class="v" x="1838.93" y="1347.81" transform="rotate(-91.75 1838.93 1347.81)" textLength="31" lengthAdjust="spacingAndGlyphs">1.35</text>
<text class="v" x="1872.5" y="1288.95" transform="rotate(-30.9 1872.5 1288.95)" textLength="33.6" lengthAdjust="spacingAndGlyphs">1064</text>
<text class="n" x="1906.5" y="1315.45" textLength="14.22" lengthAdjust="spacingAndGlyphs">79</text>
<text class="s" x="1906.5" y="1350.75" fill="#f8a922" stroke="#f8a922" textLength="56.16" lengthAdjust="spacingAndGlyphs">Au</text>
<text class="nm" x="1906.5" y="1367.55" textLength="23.31" lengthAdjust="spacingAndGlyphs">GOLD</text>
<text class="m" x="1906.5" y="1380.45" textLength="48.79" lengthAdjust="spacingAndGlyphs">196.967</text>
<path d="M2079.88 1259.45A86.30 86.30 0 0 1 2153.30 1300.40L2124.55 1318.16A52.50 52.50 0 0 0 2079.88 1293.25Z" fill="#f7c0c2"/>
<path d="M2153.30 1300.40A86.30 86.30 0 0 1 2155.72 1386.93L2126.02 1370.80A52.50 52.50 0 0 0 2124.55 1318.16Z" fill="#b094c4"/>
<path d="M2155.72 1386.93A86.30 86.30 0 0 1 2079.88 1432.05L2079.88 1398.25A52.50 52.50 0 0 0 2126.02 1370.80Z" fill="#b0d156"/>
<path d="M2079.88 1432.05A86.30 86.30 0 0 1 2006.46 1391.10L2035.21 1373.34A52.50 52.50 0 0 0 2079.88 1398.25Z" fill="#f29ec5"/>
<path d="M2006.46 1391.10A86.30 86.30 0 0 1 2003.82 1304.97L2033.61 1320.94A52.50 52.50 0 0 0 2035.21 1373.34Z" fill="#f9ca88"/>
<path d="M2003.82 1304.97A86.30 86.30 0 0 1 2079.88 1259.45L2079.88 1293.25A52.50 52.50 0 0 0 2033.61 1320.94Z" fill="#bee6f8"/>
<text class="v" x="2112.13" y="1287.93" transform="rotate(29.15 2112.13 1287.93)" textLength="39.4" lengthAdjust="spacingAndGlyphs">356.7</text>
<text class="v" x="2147.45" y="1343.86" transform="rotate(88.4 2147.45 1343.86)" textLength="31" lengthAdjust="spacingAndGlyphs">2.00</text>
<text class="v" x="2115.06" y="1404.88" transform="rotate(-30.75 2115.06 1404.88)" textLength="39.4" lengthAdjust="spacingAndGlyphs">13.53</text>
<text class="v" x="2046.37" y="1405.84" transform="rotate(29.15 2046.37 1405.84)" textLength="33.6" lengthAdjust="spacingAndGlyphs">1007</text>
<text class="v" x="2012.31" y="1347.81" transform="rotate(-91.75 2012.31 1347.81)" textLength="31" lengthAdjust="spacingAndGlyphs">1.50</text>
<text class="v" x="2045.88" y="1288.95" transform="rotate(-30.9 2045.88 1288.95)" textLength="41.9" lengthAdjust="spacingAndGlyphs">-38.83</text>
<text class="n" x="2079.88" y="1314.95" textLength="14.22" lengthAdjust="spacingAndGlyphs">80</text>
<text class="s" x="2079.88" y="1345.25" fill="#f8a922" stroke="#f8a922" textLength="49.88" lengthAdjust="spacingAndGlyphs" style="font-size:38.34px">Hg</text>
<text class="nm" x="2079.88" y="1367.05" textLength="43.69" lengthAdjust="spacingAndGlyphs">MERCURY</text>
<text class="m" x="2079.88" y="1380.75" textLength="48.79" lengthAdjust="spacingAndGlyphs">200.592</text>
<path d="M2253.26 1259.45A86.30 86.30 0 0 1 2326.68 1300.40L2297.93 1318.16A52.50 52.50 0 0 0 2253.26 1293.25Z" fill="#f3a2a4"/>
<path d="M2326.68 1300.40A86.30 86.30 0 0 1 2329.10 1386.93L2299.40 1370.80A52.50 52.50 0 0 0 2297.93 1318.16Z" fill="#c2abd1"/>
<path d="M2329.10 1386.93A86.30 86.30 0 0 1 2253.26 1432.05L2253.26 1398.25A52.50 52.50 0 0 0 2299.40 1370.80Z" fill="#b5d462"/>
<path d="M2253.26 1432.05A86.30 86.30 0 0 1 2179.84 1391.10L2208.59 1373.34A52.50 52.50 0 0 0 2253.26 1398.25Z" fill="#f6c0d9"/>
<path d="M2179.84 1391.10A86.30 86.30 0 0 1 2177.20 1304.97L2206.99 1320.94A52.50 52.50 0 0 0 2208.59 1373.34Z" fill="#f6b75d"/>
<path d="M2177.20 1304.97A86.30 86.30 0 0 1 2253.26 1259.45L2253.26 1293.25A52.50 52.50 0 0 0 2206.99 1320.94Z" fill="#a3dcf5"/>
<text class="v" x="2285.51" y="1287.93" transform="rotate(29.15 2285.51 1287.93)" textLength="33.6" lengthAdjust="spacingAndGlyphs">1473</text>
<text class="v" x="2320.83" y="1343.86" transform="rotate(88.4 2320.83 1343.86)" textLength="31" lengthAdjust="spacingAndGlyphs">1.62</text>
<text class="v" x="2288.44" y="1404.88" transform="rotate(-30.75 2288.44 1404.88)" textLength="39.4" lengthAdjust="spacingAndGlyphs">11.85</text>
<text class="v" x="2219.75" y="1405.84" transform="rotate(29.15 2219.75 1405.84)" textLength="39.4" lengthAdjust="spacingAndGlyphs">589.4</text>
<text class="v" x="2185.69" y="1347.81" transform="rotate(-91.75 2185.69 1347.81)" textLength="31" lengthAdjust="spacingAndGlyphs">1.90</text>
<text class="v" x="2219.26" y="1288.95" transform="rotate(-30.9 2219.26 1288.95)" textLength="39.4" lengthAdjust="spacingAndGlyphs">304.0</text>
<text class="n" x="2253.26" y="1315.45" textLength="14.22" lengthAdjust="spacingAndGlyphs">81</text>
<text class="s" x="2253.26" y="1350.75" fill="#005ea9" stroke="#005ea9" textLength="36.35" lengthAdjust="spacingAndGlyphs">Tl</text>
<text class="nm" x="2253.26" y="1367.55" textLength="46.23" lengthAdjust="spacingAndGlyphs">THALLIUM</text>
<text class="m" x="2253.26" y="1380.45" textLength="48.79" lengthAdjust="spacingAndGlyphs">204.383</text>
<path d="M2426.64 1259.45A86.30 86.30 0 0 1 2500.06 1300.40L2471.31 1318.16A52.50 52.50 0 0 0 2426.64 1293.25Z" fill="#f29a9c"/>
<path d="M2500.06 1300.40A86.30 86.30 0 0 1 2502.48 1386.93L2472.78 1370.80A52.50 52.50 0 0 0 2471.31 1318.16Z" fill="#a17fb8"/>
<path d="M2502.48 1386.93A86.30 86.30 0 0 1 2426.64 1432.05L2426.64 1398.25A52.50 52.50 0 0 0 2472.78 1370.80Z" fill="#b7d566"/>
<path d="M2426.64 1432.05A86.30 86.30 0 0 1 2353.22 1391.10L2381.97 1373.34A52.50 52.50 0 0 0 2426.64 1398.25Z" fill="#f5b4d2"/>
<path d="M2353.22 1391.10A86.30 86.30 0 0 1 2350.58 1304.97L2380.37 1320.94A52.50 52.50 0 0 0 2381.97 1373.34Z" fill="#f7bc68"/>
<path d="M2350.58 1304.97A86.30 86.30 0 0 1 2426.64 1259.45L2426.64 1293.25A52.50 52.50 0 0 0 2380.37 1320.94Z" fill="#a1dbf4"/>
<text class="v" x="2458.89" y="1287.93" transform="rotate(29.15 2458.89 1287.93)" textLength="33.6" lengthAdjust="spacingAndGlyphs">1749</text>
<text class="v" x="2494.21" y="1343.86" transform="rotate(88.4 2494.21 1343.86)" textLength="31" lengthAdjust="spacingAndGlyphs">2.33</text>
<text class="v" x="2461.82" y="1404.88" transform="rotate(-30.75 2461.82 1404.88)" textLength="39.4" lengthAdjust="spacingAndGlyphs">11.34</text>
<text class="v" x="2393.13" y="1405.84" transform="rotate(29.15 2393.13 1405.84)" textLength="39.4" lengthAdjust="spacingAndGlyphs">715.6</text>
<text class="v" x="2359.07" y="1347.81" transform="rotate(-91.75 2359.07 1347.81)" textLength="31" lengthAdjust="spacingAndGlyphs">1.80</text>
<text class="v" x="2392.64" y="1288.95" transform="rotate(-30.9 2392.64 1288.95)" textLength="39.4" lengthAdjust="spacingAndGlyphs">327.5</text>
<text class="n" x="2426.64" y="1315.45" textLength="14.22" lengthAdjust="spacingAndGlyphs">82</text>
<text class="s" x="2426.64" y="1350.75" fill="#005ea9" stroke="#005ea9" textLength="52.46" lengthAdjust="spacingAndGlyphs">Pb</text>
<text class="nm" x="2426.64" y="1367.55" textLength="22.93" lengthAdjust="spacingAndGlyphs">LEAD</text>
<text class="m" x="2426.64" y="1380.45" textLength="48.79" lengthAdjust="spacingAndGlyphs">207.210</text>
<path d="M2600.02 1259.45A86.30 86.30 0 0 1 2673.44 1300.40L2644.69 1318.16A52.50 52.50 0 0 0 2600.02 1293.25Z" fill="#f3a0a2"/>
<path d="M2673.44 1300.40A86.30 86.30 0 0 1 2675.86 1386.93L2646.16 1370.80A52.50 52.50 0 0 0 2644.69 1318.16Z" fill="#af92c3"/>
<path d="M2675.86 1386.93A86.30 86.30 0 0 1 2600.02 1432.05L2600.02 1398.25A52.50 52.50 0 0 0 2646.16 1370.80Z" fill="#bcd871"/>
<path d="M2600.02 1432.05A86.30 86.30 0 0 1 2526.60 1391.10L2555.35 1373.34A52.50 52.50 0 0 0 2600.02 1398.25Z" fill="#f5b5d3"/>
<path d="M2526.60 1391.10A86.30 86.30 0 0 1 2523.96 1304.97L2553.75 1320.94A52.50 52.50 0 0 0 2555.35 1373.34Z" fill="#f8c67d"/>
<path d="M2523.96 1304.97A86.30 86.30 0 0 1 2600.02 1259.45L2600.02 1293.25A52.50 52.50 0 0 0 2553.75 1320.94Z" fill="#a5ddf5"/>
<text class="v" x="2632.27" y="1287.93" transform="rotate(29.15 2632.27 1287.93)" textLength="33.6" lengthAdjust="spacingAndGlyphs">1564</text>
<text class="v" x="2667.59" y="1343.86" transform="rotate(88.4 2667.59 1343.86)" textLength="31" lengthAdjust="spacingAndGlyphs">2.02</text>
<text class="v" x="2635.2" y="1404.88" transform="rotate(-30.75 2635.2 1404.88)" textLength="31" lengthAdjust="spacingAndGlyphs">9.78</text>
<text class="v" x="2566.51" y="1405.84" transform="rotate(29.15 2566.51 1405.84)" textLength="39.4" lengthAdjust="spacingAndGlyphs">703.0</text>
<text class="v" x="2532.45" y="1347.81" transform="rotate(-91.75 2532.45 1347.81)" textLength="31" lengthAdjust="spacingAndGlyphs">1.60</text>
<text class="v" x="2566.02" y="1288.95" transform="rotate(-30.9 2566.02 1288.95)" textLength="39.4" lengthAdjust="spacingAndGlyphs">271.5</text>
<text class="n" x="2600.02" y="1315.45" textLength="14.22" lengthAdjust="spacingAndGlyphs">83</text>
<text class="s" x="2600.02" y="1350.75" fill="#005ea9" stroke="#005ea9" textLength="40.32" lengthAdjust="spacingAndGlyphs">Bi</text>
<text class="nm" x="2600.02" y="1367.55" textLength="41.23" lengthAdjust="spacingAndGlyphs">BISMUTH</text>
<text class="m" x="2600.02" y="1380.45" textLength="48.79" lengthAdjust="spacingAndGlyphs">208.980</text>
<path d="M2773.40 1259.45A86.30 86.30 0 0 1 2846.82 1300.40L2818.07 1318.16A52.50 52.50 0 0 0 2773.40 1293.25Z" fill="#f5b1b3"/>
<path d="M2846.82 1300.40A86.30 86.30 0 0 1 2849.24 1386.93L2819.54 1370.80A52.50 52.50 0 0 0 2818.07 1318.16Z" fill="#b094c4"/>
<path d="M2849.24 1386.93A86.30 86.30 0 0 1 2773.40 1432.05L2773.40 1398.25A52.50 52.50 0 0 0 2819.54 1370.80Z" fill="#bed976"/>
<path d="M2773.40 1432.05A86.30 86.30 0 0 1 2699.98 1391.10L2728.73 1373.34A52.50 52.50 0 0 0 2773.40 1398.25Z" fill="#f4accd"/>
<path d="M2699.98 1391.10A86.30 86.30 0 0 1 2697.34 1304.97L2727.13 1320.94A52.50 52.50 0 0 0 2728.73 1373.34Z" fill="#f6b75d"/>
<path d="M2697.34 1304.97A86.30 86.30 0 0 1 2773.40 1259.45L2773.40 1293.25A52.50 52.50 0 0 0 2727.13 1320.94Z" fill="#a6ddf5"/>
<text class="v" x="2805.65" y="1287.93" transform="rotate(29.15 2805.65 1287.93)" textLength="39.4" lengthAdjust="spacingAndGlyphs">962.0</text>
<text class="v" x="2840.97" y="1343.86" transform="rotate(88.4 2840.97 1343.86)" textLength="31" lengthAdjust="spacingAndGlyphs">2.00</text>
<text class="v" x="2808.58" y="1404.88" transform="rotate(-30.75 2808.58 1404.88)" textLength="31" lengthAdjust="spacingAndGlyphs">9.20</text>
<text class="v" x="2739.89" y="1405.84" transform="rotate(29.15 2739.89 1405.84)" textLength="39.4" lengthAdjust="spacingAndGlyphs">812.1</text>
<text class="v" x="2705.83" y="1347.81" transform="rotate(-91.75 2705.83 1347.81)" textLength="31" lengthAdjust="spacingAndGlyphs">1.90</text>
<text class="v" x="2739.4" y="1288.95" transform="rotate(-30.9 2739.4 1288.95)" textLength="39.4" lengthAdjust="spacingAndGlyphs">254.0</text>
<text class="n" x="2773.4" y="1315.45" textLength="14.22" lengthAdjust="spacingAndGlyphs">84</text>
<text class="s" x="2773.4" y="1350.75" fill="#005ea9" stroke="#005ea9" textLength="51.87" lengthAdjust="spacingAndGlyphs">Po</text>
<text class="nm" x="2773.4" y="1367.55" textLength="47.33" lengthAdjust="spacingAndGlyphs">POLONIUM</text>
<text class="m" x="2773.4" y="1380.45" textLength="58.32" lengthAdjust="spacingAndGlyphs">(208.982)</text>
<path d="M3022.62 1386.93A86.30 86.30 0 0 1 2946.78 1432.05L2946.78 1398.25A52.50 52.50 0 0 0 2992.92 1370.80Z" fill="#c0bfbe"/>
<path d="M2873.36 1391.10A86.30 86.30 0 0 1 2870.72 1304.97L2900.51 1320.94A52.50 52.50 0 0 0 2902.11 1373.34Z" fill="#c0bfbe"/>
<path d="M2946.78 1259.45A86.30 86.30 0 0 1 3020.20 1300.40L2991.45 1318.16A52.50 52.50 0 0 0 2946.78 1293.25Z" fill="#f7c1c2"/>
<path d="M3020.20 1300.40A86.30 86.30 0 0 1 3022.62 1386.93L2992.92 1370.80A52.50 52.50 0 0 0 2991.45 1318.16Z" fill="#a787bd"/>
<path d="M2946.78 1432.05A86.30 86.30 0 0 1 2873.36 1391.10L2902.11 1373.34A52.50 52.50 0 0 0 2946.78 1398.25Z" fill="#f2a4c8"/>
<path d="M2870.72 1304.97A86.30 86.30 0 0 1 2946.78 1259.45L2946.78 1293.25A52.50 52.50 0 0 0 2900.51 1320.94Z" fill="#a3dcf5"/>
<text class="v" x="2979.03" y="1287.93" transform="rotate(29.15 2979.03 1287.93)" textLength="39.4" lengthAdjust="spacingAndGlyphs">337.0</text>
<text class="v" x="3014.35" y="1343.86" transform="rotate(88.4 3014.35 1343.86)" textLength="31" lengthAdjust="spacingAndGlyphs">2.20</text>
<text class="v" x="2913.27" y="1405.84" transform="rotate(29.15 2913.27 1405.84)" textLength="39.4" lengthAdjust="spacingAndGlyphs">930.1</text>
<text class="v" x="2912.78" y="1288.95" transform="rotate(-30.9 2912.78 1288.95)" textLength="39.4" lengthAdjust="spacingAndGlyphs">302.0</text>
<text class="n" x="2946.78" y="1315.45" textLength="14.22" lengthAdjust="spacingAndGlyphs">85</text>
<text class="s" x="2946.78" y="1350.75" fill="#005ea9" stroke="#005ea9" textLength="46.61" lengthAdjust="spacingAndGlyphs">At</text>
<text class="nm" x="2946.78" y="1367.55" textLength="43.25" lengthAdjust="spacingAndGlyphs">ASTATINE</text>
<text class="m" x="2946.78" y="1380.45" textLength="58.32" lengthAdjust="spacingAndGlyphs">(209.987)</text>
<path d="M3193.58 1300.40A86.30 86.30 0 0 1 3196.00 1386.93L3166.30 1370.80A52.50 52.50 0 0 0 3164.83 1318.16Z" fill="#c0bfbe"/>
<path d="M3120.16 1259.45A86.30 86.30 0 0 1 3193.58 1300.40L3164.83 1318.16A52.50 52.50 0 0 0 3120.16 1293.25Z" fill="#f8c9ca"/>
<path d="M3196.00 1386.93A86.30 86.30 0 0 1 3120.16 1432.05L3120.16 1398.25A52.50 52.50 0 0 0 3166.30 1370.80Z" fill="#bcd872"/>
<path d="M3120.16 1432.05A86.30 86.30 0 0 1 3046.74 1391.10L3075.49 1373.34A52.50 52.50 0 0 0 3120.16 1398.25Z" fill="#f19cc4"/>
<path d="M3046.74 1391.10A86.30 86.30 0 0 1 3044.10 1304.97L3073.89 1320.94A52.50 52.50 0 0 0 3075.49 1373.34Z" fill="#fad7a4"/>
<path d="M3044.10 1304.97A86.30 86.30 0 0 1 3120.16 1259.45L3120.16 1293.25A52.50 52.50 0 0 0 3073.89 1320.94Z" fill="#c1e8f8"/>
<text class="v" x="3152.41" y="1287.93" transform="rotate(29.15 3152.41 1287.93)" textLength="41.9" lengthAdjust="spacingAndGlyphs">-61.70</text>
<text class="v" x="3155.34" y="1404.88" transform="rotate(-30.75 3155.34 1404.88)" textLength="31" lengthAdjust="spacingAndGlyphs" style="fill:#6e6e6e">9.73</text>
<text class="v" x="3086.65" y="1405.84" transform="rotate(29.15 3086.65 1405.84)" textLength="33.6" lengthAdjust="spacingAndGlyphs">1037</text>
<text class="v" x="3052.59" y="1347.81" transform="rotate(-91.75 3052.59 1347.81)" textLength="31" lengthAdjust="spacingAndGlyphs">1.20</text>
<text class="v" x="3086.16" y="1288.95" transform="rotate(-30.9 3086.16 1288.95)" textLength="41.9" lengthAdjust="spacingAndGlyphs">-71.00</text>
<text class="n" x="3120.16" y="1315.45" textLength="14.22" lengthAdjust="spacingAndGlyphs">86</text>
<text class="s" x="3120.16" y="1350.75" fill="#005ea9" stroke="#005ea9" textLength="54.88" lengthAdjust="spacingAndGlyphs">Rn</text>
<text class="nm" x="3120.16" y="1367.55" textLength="30.83" lengthAdjust="spacingAndGlyphs">RADON</text>
<text class="m" x="3120.16" y="1380.45" textLength="58.32" lengthAdjust="spacingAndGlyphs">(222.018)</text>
<path d="M99.28 1564.47A86.30 86.30 0 0 1 96.64 1478.34L126.43 1494.31A52.50 52.50 0 0 0 128.03 1546.71Z" fill="#c0bfbe"/>
<path d="M172.70 1432.82A86.30 86.30 0 0 1 246.12 1473.77L217.37 1491.53A52.50 52.50 0 0 0 172.70 1466.62Z" fill="#f6b9ba"/>
<path d="M246.12 1473.77A86.30 86.30 0 0 1 248.54 1560.30L218.84 1544.17A52.50 52.50 0 0 0 217.37 1491.53Z" fill="#ece5f0"/>
<path d="M248.54 1560.30A86.30 86.30 0 0 1 172.70 1605.42L172.70 1571.62A52.50 52.50 0 0 0 218.84 1544.17Z" fill="#e0edbd"/>
<path d="M172.70 1605.42A86.30 86.30 0 0 1 99.28 1564.47L128.03 1546.71A52.50 52.50 0 0 0 172.70 1571.62Z" fill="#faddeb"/>
<path d="M96.64 1478.34A86.30 86.30 0 0 1 172.70 1432.82L172.70 1466.62A52.50 52.50 0 0 0 126.43 1494.31Z" fill="#b9e4f7"/>
<text class="v" x="204.95" y="1461.3" transform="rotate(29.15 204.95 1461.3)" textLength="39.4" lengthAdjust="spacingAndGlyphs">677.0</text>
<text class="v" x="240.27" y="1517.23" transform="rotate(88.4 240.27 1517.23)" textLength="31" lengthAdjust="spacingAndGlyphs">0.70</text>
<text class="v" x="207.88" y="1578.25" transform="rotate(-30.75 207.88 1578.25)" textLength="31" lengthAdjust="spacingAndGlyphs">1.87</text>
<text class="v" x="139.19" y="1579.21" transform="rotate(29.15 139.19 1579.21)" textLength="39.4" lengthAdjust="spacingAndGlyphs">393.0</text>
<text class="v" x="138.7" y="1462.32" transform="rotate(-30.9 138.7 1462.32)" textLength="39.4" lengthAdjust="spacingAndGlyphs">27.00</text>
<text class="n" x="172.7" y="1488.82" textLength="14.22" lengthAdjust="spacingAndGlyphs">87</text>
<text class="s" x="172.7" y="1524.12" fill="#e1191f" stroke="#e1191f" textLength="41.43" lengthAdjust="spacingAndGlyphs">Fr</text>
<text class="nm" x="172.7" y="1540.92" textLength="47.4" lengthAdjust="spacingAndGlyphs">FRANCIUM</text>
<text class="m" x="172.7" y="1553.82" textLength="58.32" lengthAdjust="spacingAndGlyphs">(223.020)</text>
<path d="M346.08 1432.82A86.30 86.30 0 0 1 419.50 1473.77L390.75 1491.53A52.50 52.50 0 0 0 346.08 1466.62Z" fill="#f29a9d"/>
<path d="M419.50 1473.77A86.30 86.30 0 0 1 421.92 1560.30L392.22 1544.17A52.50 52.50 0 0 0 390.75 1491.53Z" fill="#e3d8ea"/>
<path d="M421.92 1560.30A86.30 86.30 0 0 1 346.08 1605.42L346.08 1571.62A52.50 52.50 0 0 0 392.22 1544.17Z" fill="#cde295"/>
<path d="M346.08 1605.42A86.30 86.30 0 0 1 272.66 1564.47L301.41 1546.71A52.50 52.50 0 0 0 346.08 1571.62Z" fill="#f8cadf"/>
<path d="M272.66 1564.47A86.30 86.30 0 0 1 270.02 1478.34L299.81 1494.31A52.50 52.50 0 0 0 301.41 1546.71Z" fill="#f5ab40"/>
<path d="M270.02 1478.34A86.30 86.30 0 0 1 346.08 1432.82L346.08 1466.62A52.50 52.50 0 0 0 299.81 1494.31Z" fill="#87d1f1"/>
<text class="v" x="378.33" y="1461.3" transform="rotate(29.15 378.33 1461.3)" textLength="33.6" lengthAdjust="spacingAndGlyphs">1737</text>
<text class="v" x="413.65" y="1517.23" transform="rotate(88.4 413.65 1517.23)" textLength="31" lengthAdjust="spacingAndGlyphs">0.90</text>
<text class="v" x="381.26" y="1578.25" transform="rotate(-30.75 381.26 1578.25)" textLength="31" lengthAdjust="spacingAndGlyphs">5.50</text>
<text class="v" x="312.57" y="1579.21" transform="rotate(29.15 312.57 1579.21)" textLength="39.4" lengthAdjust="spacingAndGlyphs">509.3</text>
<text class="v" x="278.51" y="1521.18" transform="rotate(-91.75 278.51 1521.18)" textLength="31" lengthAdjust="spacingAndGlyphs">2.15</text>
<text class="v" x="312.08" y="1462.32" transform="rotate(-30.9 312.08 1462.32)" textLength="39.4" lengthAdjust="spacingAndGlyphs">696.0</text>
<text class="n" x="346.08" y="1488.82" textLength="14.22" lengthAdjust="spacingAndGlyphs">88</text>
<text class="s" x="346.08" y="1524.12" fill="#e1191f" stroke="#e1191f" textLength="52.61" lengthAdjust="spacingAndGlyphs">Ra</text>
<text class="nm" x="346.08" y="1540.92" textLength="35.72" lengthAdjust="spacingAndGlyphs">RADIUM</text>
<text class="m" x="346.08" y="1553.82" textLength="58.32" lengthAdjust="spacingAndGlyphs">(226.025)</text>
<path d="M519.46 1897.60A86.30 86.30 0 0 1 592.88 1938.55L564.13 1956.31A52.50 52.50 0 0 0 519.46 1931.40Z" fill="#ec6a6d"/>
<path d="M592.88 1938.55A86.30 86.30 0 0 1 595.30 2025.08L565.60 2008.95A52.50 52.50 0 0 0 564.13 1956.31Z" fill="#d9cce3"/>
<path d="M595.30 2025.08A86.30 86.30 0 0 1 519.46 2070.20L519.46 2036.40A52.50 52.50 0 0 0 565.60 2008.95Z" fill="#bbd76f"/>
<path d="M519.46 2070.20A86.30 86.30 0 0 1 446.04 2029.25L474.79 2011.49A52.50 52.50 0 0 0 519.46 2036.40Z" fill="#f8cbe0"/>
<path d="M446.04 2029.25A86.30 86.30 0 0 1 443.40 1943.12L473.19 1959.09A52.50 52.50 0 0 0 474.79 2011.49Z" fill="#f6b557"/>
<path d="M443.40 1943.12A86.30 86.30 0 0 1 519.46 1897.60L519.46 1931.40A52.50 52.50 0 0 0 473.19 1959.09Z" fill="#70c9ef"/>
<text class="v" x="551.71" y="1926.08" transform="rotate(29.15 551.71 1926.08)" textLength="33.6" lengthAdjust="spacingAndGlyphs">3198</text>
<text class="v" x="587.03" y="1982.01" transform="rotate(88.4 587.03 1982.01)" textLength="31" lengthAdjust="spacingAndGlyphs">1.10</text>
<text class="v" x="554.64" y="2043.03" transform="rotate(-30.75 554.64 2043.03)" textLength="39.4" lengthAdjust="spacingAndGlyphs">10.07</text>
<text class="v" x="485.95" y="2043.99" transform="rotate(29.15 485.95 2043.99)" textLength="39.4" lengthAdjust="spacingAndGlyphs">498.8</text>
<text class="v" x="451.89" y="1985.96" transform="rotate(-91.75 451.89 1985.96)" textLength="31" lengthAdjust="spacingAndGlyphs">1.95</text>
<text class="v" x="485.46" y="1927.1" transform="rotate(-30.9 485.46 1927.1)" textLength="33.6" lengthAdjust="spacingAndGlyphs">1050</text>
<text class="n" x="519.46" y="1953.6" textLength="14.22" lengthAdjust="spacingAndGlyphs">89</text>
<text class="s" x="519.46" y="1988.9" fill="#a2c43c" stroke="#a2c43c" textLength="50.04" lengthAdjust="spacingAndGlyphs">Ac</text>
<text class="nm" x="519.46" y="2005.7" textLength="44.74" lengthAdjust="spacingAndGlyphs">ACTINIUM</text>
<text class="m" x="519.46" y="2018.6" textLength="58.32" lengthAdjust="spacingAndGlyphs">(227.028)</text>
<path d="M692.84 1897.60A86.30 86.30 0 0 1 766.26 1938.55L737.51 1956.31A52.50 52.50 0 0 0 692.84 1931.40Z" fill="#e52f34"/>
<path d="M766.26 1938.55A86.30 86.30 0 0 1 768.68 2025.08L738.98 2008.95A52.50 52.50 0 0 0 737.51 1956.31Z" fill="#d0bfdc"/>
<path d="M768.68 2025.08A86.30 86.30 0 0 1 692.84 2070.20L692.84 2036.40A52.50 52.50 0 0 0 738.98 2008.95Z" fill="#b5d463"/>
<path d="M692.84 2070.20A86.30 86.30 0 0 1 619.42 2029.25L648.17 2011.49A52.50 52.50 0 0 0 692.84 2036.40Z" fill="#f6bed8"/>
<path d="M619.42 2029.25A86.30 86.30 0 0 1 616.78 1943.12L646.57 1959.09A52.50 52.50 0 0 0 648.17 2011.49Z" fill="#f7bc68"/>
<path d="M616.78 1943.12A86.30 86.30 0 0 1 692.84 1897.60L692.84 1931.40A52.50 52.50 0 0 0 646.57 1959.09Z" fill="#45b8ea"/>
<text class="v" x="725.09" y="1926.08" transform="rotate(29.15 725.09 1926.08)" textLength="33.6" lengthAdjust="spacingAndGlyphs">4788</text>
<text class="v" x="760.41" y="1982.01" transform="rotate(88.4 760.41 1982.01)" textLength="31" lengthAdjust="spacingAndGlyphs">1.30</text>
<text class="v" x="728.02" y="2043.03" transform="rotate(-30.75 728.02 2043.03)" textLength="39.4" lengthAdjust="spacingAndGlyphs">11.72</text>
<text class="v" x="659.33" y="2043.99" transform="rotate(29.15 659.33 2043.99)" textLength="39.4" lengthAdjust="spacingAndGlyphs">608.5</text>
<text class="v" x="625.27" y="1985.96" transform="rotate(-91.75 625.27 1985.96)" textLength="31" lengthAdjust="spacingAndGlyphs">1.80</text>
<text class="v" x="658.84" y="1927.1" transform="rotate(-30.9 658.84 1927.1)" textLength="33.6" lengthAdjust="spacingAndGlyphs">1755</text>
<text class="n" x="692.84" y="1953.6" textLength="14.22" lengthAdjust="spacingAndGlyphs">90</text>
<text class="s" x="692.84" y="1988.9" fill="#a2c43c" stroke="#a2c43c" textLength="51.41" lengthAdjust="spacingAndGlyphs">Th</text>
<text class="nm" x="692.84" y="2005.7" textLength="41.6" lengthAdjust="spacingAndGlyphs">THORIUM</text>
<text class="m" x="692.84" y="2018.6" textLength="58.32" lengthAdjust="spacingAndGlyphs">(232.038)</text>
<path d="M866.22 1897.60A86.30 86.30 0 0 1 939.64 1938.55L910.89 1956.31A52.50 52.50 0 0 0 866.22 1931.40Z" fill="#e94c50"/>
<path d="M939.64 1938.55A86.30 86.30 0 0 1 942.06 2025.08L912.36 2008.95A52.50 52.50 0 0 0 910.89 1956.31Z" fill="#c7b3d5"/>
<path d="M942.06 2025.08A86.30 86.30 0 0 1 866.22 2070.20L866.22 2036.40A52.50 52.50 0 0 0 912.36 2008.95Z" fill="#aacd4a"/>
<path d="M866.22 2070.20A86.30 86.30 0 0 1 792.80 2029.25L821.55 2011.49A52.50 52.50 0 0 0 866.22 2036.40Z" fill="#f7c3db"/>
<path d="M792.80 2029.25A86.30 86.30 0 0 1 790.16 1943.12L819.95 1959.09A52.50 52.50 0 0 0 821.55 2011.49Z" fill="#f7bc68"/>
<path d="M790.16 1943.12A86.30 86.30 0 0 1 866.22 1897.60L866.22 1931.40A52.50 52.50 0 0 0 819.95 1959.09Z" fill="#50bceb"/>
<text class="v" x="898.47" y="1926.08" transform="rotate(29.15 898.47 1926.08)" textLength="33.6" lengthAdjust="spacingAndGlyphs">4027</text>
<text class="v" x="933.79" y="1982.01" transform="rotate(88.4 933.79 1982.01)" textLength="31" lengthAdjust="spacingAndGlyphs">1.50</text>
<text class="v" x="901.4" y="2043.03" transform="rotate(-30.75 901.4 2043.03)" textLength="39.4" lengthAdjust="spacingAndGlyphs">15.37</text>
<text class="v" x="832.71" y="2043.99" transform="rotate(29.15 832.71 2043.99)" textLength="39.4" lengthAdjust="spacingAndGlyphs">568.3</text>
<text class="v" x="798.65" y="1985.96" transform="rotate(-91.75 798.65 1985.96)" textLength="31" lengthAdjust="spacingAndGlyphs">1.80</text>
<text class="v" x="832.22" y="1927.1" transform="rotate(-30.9 832.22 1927.1)" textLength="33.6" lengthAdjust="spacingAndGlyphs">1568</text>
<text class="n" x="866.22" y="1953.6" textLength="14.22" lengthAdjust="spacingAndGlyphs">91</text>
<text class="s" x="866.22" y="1988.9" fill="#a2c43c" stroke="#a2c43c" textLength="51.23" lengthAdjust="spacingAndGlyphs">Pa</text>
<text class="nm" x="866.22" y="2005.7" textLength="68.2" lengthAdjust="spacingAndGlyphs">PROTACTINIUM</text>
<text class="m" x="866.22" y="2018.6" textLength="58.32" lengthAdjust="spacingAndGlyphs">(231.036)</text>
<path d="M1039.60 1897.60A86.30 86.30 0 0 1 1113.02 1938.55L1084.27 1956.31A52.50 52.50 0 0 0 1039.60 1931.40Z" fill="#e8484c"/>
<path d="M1113.02 1938.55A86.30 86.30 0 0 1 1115.44 2025.08L1085.74 2008.95A52.50 52.50 0 0 0 1084.27 1956.31Z" fill="#cdbad9"/>
<path d="M1115.44 2025.08A86.30 86.30 0 0 1 1039.60 2070.20L1039.60 2036.40A52.50 52.50 0 0 0 1085.74 2008.95Z" fill="#9fc733"/>
<path d="M1039.60 2070.20A86.30 86.30 0 0 1 966.18 2029.25L994.93 2011.49A52.50 52.50 0 0 0 1039.60 2036.40Z" fill="#f6c0d9"/>
<path d="M966.18 2029.25A86.30 86.30 0 0 1 963.54 1943.12L993.33 1959.09A52.50 52.50 0 0 0 994.93 2011.49Z" fill="#f7bf6d"/>
<path d="M963.54 1943.12A86.30 86.30 0 0 1 1039.60 1897.60L1039.60 1931.40A52.50 52.50 0 0 0 993.33 1959.09Z" fill="#6ac6ee"/>
<text class="v" x="1071.85" y="1926.08" transform="rotate(29.15 1071.85 1926.08)" textLength="33.6" lengthAdjust="spacingAndGlyphs">4131</text>
<text class="v" x="1107.17" y="1982.01" transform="rotate(88.4 1107.17 1982.01)" textLength="31" lengthAdjust="spacingAndGlyphs">1.38</text>
<text class="v" x="1074.78" y="2043.03" transform="rotate(-30.75 1074.78 2043.03)" textLength="39.4" lengthAdjust="spacingAndGlyphs">19.10</text>
<text class="v" x="1006.09" y="2043.99" transform="rotate(29.15 1006.09 2043.99)" textLength="39.4" lengthAdjust="spacingAndGlyphs">597.6</text>
<text class="v" x="972.03" y="1985.96" transform="rotate(-91.75 972.03 1985.96)" textLength="31" lengthAdjust="spacingAndGlyphs">1.75</text>
<text class="v" x="1005.6" y="1927.1" transform="rotate(-30.9 1005.6 1927.1)" textLength="33.6" lengthAdjust="spacingAndGlyphs">1135</text>
<text class="n" x="1039.6" y="1953.6" textLength="14.22" lengthAdjust="spacingAndGlyphs">92</text>
<text class="s" x="1039.6" y="1988.9" fill="#a2c43c" stroke="#a2c43c" textLength="30.85" lengthAdjust="spacingAndGlyphs">U</text>
<text class="nm" x="1039.6" y="2005.7" textLength="42.24" lengthAdjust="spacingAndGlyphs">URANIUM</text>
<text class="m" x="1039.6" y="2018.6" textLength="58.32" lengthAdjust="spacingAndGlyphs">(238.029)</text>
<path d="M1212.98 1897.60A86.30 86.30 0 0 1 1286.40 1938.55L1257.65 1956.31A52.50 52.50 0 0 0 1212.98 1931.40Z" fill="#e94d51"/>
<path d="M1286.40 1938.55A86.30 86.30 0 0 1 1288.82 2025.08L1259.12 2008.95A52.50 52.50 0 0 0 1257.65 1956.31Z" fill="#cdbbda"/>
<path d="M1288.82 2025.08A86.30 86.30 0 0 1 1212.98 2070.20L1212.98 2036.40A52.50 52.50 0 0 0 1259.12 2008.95Z" fill="#9cc52c"/>
<path d="M1212.98 2070.20A86.30 86.30 0 0 1 1139.56 2029.25L1168.31 2011.49A52.50 52.50 0 0 0 1212.98 2036.40Z" fill="#f6bfd8"/>
<path d="M1139.56 2029.25A86.30 86.30 0 0 1 1136.92 1943.12L1166.71 1959.09A52.50 52.50 0 0 0 1168.31 2011.49Z" fill="#f7bf6d"/>
<path d="M1136.92 1943.12A86.30 86.30 0 0 1 1212.98 1897.60L1212.98 1931.40A52.50 52.50 0 0 0 1166.71 1959.09Z" fill="#8ad3f2"/>
<text class="v" x="1245.23" y="1926.08" transform="rotate(29.15 1245.23 1926.08)" textLength="33.6" lengthAdjust="spacingAndGlyphs">4000</text>
<text class="v" x="1280.55" y="1982.01" transform="rotate(88.4 1280.55 1982.01)" textLength="31" lengthAdjust="spacingAndGlyphs">1.36</text>
<text class="v" x="1248.16" y="2043.03" transform="rotate(-30.75 1248.16 2043.03)" textLength="39.4" lengthAdjust="spacingAndGlyphs">20.20</text>
<text class="v" x="1179.47" y="2043.99" transform="rotate(29.15 1179.47 2043.99)" textLength="39.4" lengthAdjust="spacingAndGlyphs">604.5</text>
<text class="v" x="1145.41" y="1985.96" transform="rotate(-91.75 1145.41 1985.96)" textLength="31" lengthAdjust="spacingAndGlyphs">1.75</text>
<text class="v" x="1178.98" y="1927.1" transform="rotate(-30.9 1178.98 1927.1)" textLength="39.4" lengthAdjust="spacingAndGlyphs">644.0</text>
<text class="n" x="1212.98" y="1952.5" textLength="14.22" lengthAdjust="spacingAndGlyphs">93</text>
<text class="s" x="1212.98" y="1984.8" fill="#a2c43c" stroke="#a2c43c" textLength="56.76" lengthAdjust="spacingAndGlyphs" style="font-size:40.04px">Np</text>
<text class="nm" x="1212.98" y="2007.5" textLength="53.78" lengthAdjust="spacingAndGlyphs">NEPTUNIUM</text>
<text class="m" x="1212.98" y="2021" textLength="58.32" lengthAdjust="spacingAndGlyphs">(237.048)</text>
<path d="M1386.36 1897.60A86.30 86.30 0 0 1 1459.78 1938.55L1431.03 1956.31A52.50 52.50 0 0 0 1386.36 1931.40Z" fill="#ec696c"/>
<path d="M1459.78 1938.55A86.30 86.30 0 0 1 1462.20 2025.08L1432.50 2008.95A52.50 52.50 0 0 0 1431.03 1956.31Z" fill="#d1c0dd"/>
<path d="M1462.20 2025.08A86.30 86.30 0 0 1 1386.36 2070.20L1386.36 2036.40A52.50 52.50 0 0 0 1432.50 2008.95Z" fill="#9dc62f"/>
<path d="M1386.36 2070.20A86.30 86.30 0 0 1 1312.94 2029.25L1341.69 2011.49A52.50 52.50 0 0 0 1386.36 2036.40Z" fill="#f7c1da"/>
<path d="M1312.94 2029.25A86.30 86.30 0 0 1 1310.30 1943.12L1340.09 1959.09A52.50 52.50 0 0 0 1341.69 2011.49Z" fill="#f7bf6d"/>
<path d="M1310.30 1943.12A86.30 86.30 0 0 1 1386.36 1897.60L1386.36 1931.40A52.50 52.50 0 0 0 1340.09 1959.09Z" fill="#8bd3f2"/>
<text class="v" x="1418.61" y="1926.08" transform="rotate(29.15 1418.61 1926.08)" textLength="33.6" lengthAdjust="spacingAndGlyphs">3228</text>
<text class="v" x="1453.93" y="1982.01" transform="rotate(88.4 1453.93 1982.01)" textLength="31" lengthAdjust="spacingAndGlyphs">1.28</text>
<text class="v" x="1421.54" y="2043.03" transform="rotate(-30.75 1421.54 2043.03)" textLength="39.4" lengthAdjust="spacingAndGlyphs">19.81</text>
<text class="v" x="1352.85" y="2043.99" transform="rotate(29.15 1352.85 2043.99)" textLength="39.4" lengthAdjust="spacingAndGlyphs">581.4</text>
<text class="v" x="1318.79" y="1985.96" transform="rotate(-91.75 1318.79 1985.96)" textLength="31" lengthAdjust="spacingAndGlyphs">1.75</text>
<text class="v" x="1352.36" y="1927.1" transform="rotate(-30.9 1352.36 1927.1)" textLength="39.4" lengthAdjust="spacingAndGlyphs">639.4</text>
<text class="n" x="1386.36" y="1953.6" textLength="14.22" lengthAdjust="spacingAndGlyphs">94</text>
<text class="s" x="1386.36" y="1988.9" fill="#a2c43c" stroke="#a2c43c" textLength="53.5" lengthAdjust="spacingAndGlyphs">Pu</text>
<text class="nm" x="1386.36" y="2005.7" textLength="53.06" lengthAdjust="spacingAndGlyphs">PLUTONIUM</text>
<text class="m" x="1386.36" y="2018.6" textLength="58.32" lengthAdjust="spacingAndGlyphs">(244.064)</text>
<path d="M1559.74 1897.60A86.30 86.30 0 0 1 1633.16 1938.55L1604.41 1956.31A52.50 52.50 0 0 0 1559.74 1931.40Z" fill="#ef7e81"/>
<path d="M1633.16 1938.55A86.30 86.30 0 0 1 1635.58 2025.08L1605.88 2008.95A52.50 52.50 0 0 0 1604.41 1956.31Z" fill="#d8cae2"/>
<path d="M1635.58 2025.08A86.30 86.30 0 0 1 1559.74 2070.20L1559.74 2036.40A52.50 52.50 0 0 0 1605.88 2008.95Z" fill="#b5d361"/>
<path d="M1559.74 2070.20A86.30 86.30 0 0 1 1486.32 2029.25L1515.07 2011.49A52.50 52.50 0 0 0 1559.74 2036.40Z" fill="#f7c2da"/>
<path d="M1486.32 2029.25A86.30 86.30 0 0 1 1483.68 1943.12L1513.47 1959.09A52.50 52.50 0 0 0 1515.07 2011.49Z" fill="#f7bf6d"/>
<path d="M1483.68 1943.12A86.30 86.30 0 0 1 1559.74 1897.60L1559.74 1931.40A52.50 52.50 0 0 0 1513.47 1959.09Z" fill="#68c5ee"/>
<text class="v" x="1591.99" y="1926.08" transform="rotate(29.15 1591.99 1926.08)" textLength="33.6" lengthAdjust="spacingAndGlyphs">2607</text>
<text class="v" x="1627.31" y="1982.01" transform="rotate(88.4 1627.31 1982.01)" textLength="31" lengthAdjust="spacingAndGlyphs">1.13</text>
<text class="v" x="1594.92" y="2043.03" transform="rotate(-30.75 1594.92 2043.03)" textLength="39.4" lengthAdjust="spacingAndGlyphs">12.00</text>
<text class="v" x="1526.23" y="2043.99" transform="rotate(29.15 1526.23 2043.99)" textLength="39.4" lengthAdjust="spacingAndGlyphs">576.4</text>
<text class="v" x="1492.17" y="1985.96" transform="rotate(-91.75 1492.17 1985.96)" textLength="31" lengthAdjust="spacingAndGlyphs">1.75</text>
<text class="v" x="1525.74" y="1927.1" transform="rotate(-30.9 1525.74 1927.1)" textLength="33.6" lengthAdjust="spacingAndGlyphs">1176</text>
<text class="n" x="1559.74" y="1953.6" textLength="14.22" lengthAdjust="spacingAndGlyphs">95</text>
<text class="s" x="1559.74" y="1988.9" fill="#a2c43c" stroke="#a2c43c" textLength="70.06" lengthAdjust="spacingAndGlyphs">Am</text>
<text class="nm" x="1559.74" y="2005.7" textLength="52.53" lengthAdjust="spacingAndGlyphs">AMERICIUM</text>
<text class="m" x="1559.74" y="2018.6" textLength="58.32" lengthAdjust="spacingAndGlyphs">(243.061)</text>
<path d="M1659.70 2029.25A86.30 86.30 0 0 1 1657.06 1943.12L1686.85 1959.09A52.50 52.50 0 0 0 1688.45 2011.49Z" fill="#c0bfbe"/>
<path d="M1733.12 1897.60A86.30 86.30 0 0 1 1806.54 1938.55L1777.79 1956.31A52.50 52.50 0 0 0 1733.12 1931.40Z" fill="#ed6d70"/>
<path d="M1806.54 1938.55A86.30 86.30 0 0 1 1808.96 2025.08L1779.26 2008.95A52.50 52.50 0 0 0 1777.79 1956.31Z" fill="#d1c0dd"/>
<path d="M1808.96 2025.08A86.30 86.30 0 0 1 1733.12 2070.20L1733.12 2036.40A52.50 52.50 0 0 0 1779.26 2008.95Z" fill="#b0d156"/>
<path d="M1733.12 2070.20A86.30 86.30 0 0 1 1659.70 2029.25L1688.45 2011.49A52.50 52.50 0 0 0 1733.12 2036.40Z" fill="#f7c2da"/>
<path d="M1657.06 1943.12A86.30 86.30 0 0 1 1733.12 1897.60L1733.12 1931.40A52.50 52.50 0 0 0 1686.85 1959.09Z" fill="#5ec2ed"/>
<text class="v" x="1765.37" y="1926.08" transform="rotate(29.15 1765.37 1926.08)" textLength="33.6" lengthAdjust="spacingAndGlyphs">3110</text>
<text class="v" x="1800.69" y="1982.01" transform="rotate(88.4 1800.69 1982.01)" textLength="31" lengthAdjust="spacingAndGlyphs">1.28</text>
<text class="v" x="1768.3" y="2043.03" transform="rotate(-30.75 1768.3 2043.03)" textLength="39.4" lengthAdjust="spacingAndGlyphs">13.51</text>
<text class="v" x="1699.61" y="2043.99" transform="rotate(29.15 1699.61 2043.99)" textLength="39.4" lengthAdjust="spacingAndGlyphs">578.1</text>
<text class="v" x="1699.12" y="1927.1" transform="rotate(-30.9 1699.12 1927.1)" textLength="33.6" lengthAdjust="spacingAndGlyphs">1340</text>
<text class="n" x="1733.12" y="1953.6" textLength="14.22" lengthAdjust="spacingAndGlyphs">96</text>
<text class="s" x="1733.12" y="1988.9" fill="#a2c43c" stroke="#a2c43c" textLength="67.8" lengthAdjust="spacingAndGlyphs">Cm</text>
<text class="nm" x="1733.12" y="2005.7" textLength="35.42" lengthAdjust="spacingAndGlyphs">CURIUM</text>
<text class="m" x="1733.12" y="2018.6" textLength="58.32" lengthAdjust="spacingAndGlyphs">(247.070)</text>
<path d="M1906.50 1897.60A86.30 86.30 0 0 1 1979.92 1938.55L1951.17 1956.31A52.50 52.50 0 0 0 1906.50 1931.40Z" fill="#c0bfbe"/>
<path d="M1833.08 2029.25A86.30 86.30 0 0 1 1830.44 1943.12L1860.23 1959.09A52.50 52.50 0 0 0 1861.83 2011.49Z" fill="#c0bfbe"/>
<path d="M1979.92 1938.55A86.30 86.30 0 0 1 1982.34 2025.08L1952.64 2008.95A52.50 52.50 0 0 0 1951.17 1956.31Z" fill="#d0bfdc"/>
<path d="M1982.34 2025.08A86.30 86.30 0 0 1 1906.50 2070.20L1906.50 2036.40A52.50 52.50 0 0 0 1952.64 2008.95Z" fill="#b0d158"/>
<path d="M1906.50 2070.20A86.30 86.30 0 0 1 1833.08 2029.25L1861.83 2011.49A52.50 52.50 0 0 0 1906.50 2036.40Z" fill="#f6bfd9"/>
<path d="M1830.44 1943.12A86.30 86.30 0 0 1 1906.50 1897.60L1906.50 1931.40A52.50 52.50 0 0 0 1860.23 1959.09Z" fill="#74caef"/>
<text class="v" x="1974.07" y="1982.01" transform="rotate(88.4 1974.07 1982.01)" textLength="31" lengthAdjust="spacingAndGlyphs">1.30</text>
<text class="v" x="1941.68" y="2043.03" transform="rotate(-30.75 1941.68 2043.03)" textLength="39.4" lengthAdjust="spacingAndGlyphs">13.25</text>
<text class="v" x="1872.99" y="2043.99" transform="rotate(29.15 1872.99 2043.99)" textLength="39.4" lengthAdjust="spacingAndGlyphs">598.0</text>
<text class="v" x="1872.5" y="1927.1" transform="rotate(-30.9 1872.5 1927.1)" textLength="39.4" lengthAdjust="spacingAndGlyphs">986.0</text>
<text class="n" x="1906.5" y="1953.6" textLength="14.22" lengthAdjust="spacingAndGlyphs">97</text>
<text class="s" x="1906.5" y="1988.9" fill="#a2c43c" stroke="#a2c43c" textLength="53.8" lengthAdjust="spacingAndGlyphs">Bk</text>
<text class="nm" x="1906.5" y="2005.7" textLength="52.68" lengthAdjust="spacingAndGlyphs">BERKELIUM</text>
<text class="m" x="1906.5" y="2018.6" textLength="58.32" lengthAdjust="spacingAndGlyphs">(247.070)</text>
<path d="M2079.88 1897.60A86.30 86.30 0 0 1 2153.30 1938.55L2124.55 1956.31A52.50 52.50 0 0 0 2079.88 1931.40Z" fill="#c0bfbe"/>
<path d="M2006.46 2029.25A86.30 86.30 0 0 1 2003.82 1943.12L2033.61 1959.09A52.50 52.50 0 0 0 2035.21 2011.49Z" fill="#c0bfbe"/>
<path d="M2153.30 1938.55A86.30 86.30 0 0 1 2155.72 2025.08L2126.02 2008.95A52.50 52.50 0 0 0 2124.55 1956.31Z" fill="#d0bfdc"/>
<path d="M2155.72 2025.08A86.30 86.30 0 0 1 2079.88 2070.20L2079.88 2036.40A52.50 52.50 0 0 0 2126.02 2008.95Z" fill="#abce4c"/>
<path d="M2079.88 2070.20A86.30 86.30 0 0 1 2006.46 2029.25L2035.21 2011.49A52.50 52.50 0 0 0 2079.88 2036.40Z" fill="#f6bfd8"/>
<path d="M2003.82 1943.12A86.30 86.30 0 0 1 2079.88 1897.60L2079.88 1931.40A52.50 52.50 0 0 0 2033.61 1959.09Z" fill="#79ccf0"/>
<text class="v" x="2147.45" y="1982.01" transform="rotate(88.4 2147.45 1982.01)" textLength="31" lengthAdjust="spacingAndGlyphs">1.30</text>
<text class="v" x="2115.06" y="2043.03" transform="rotate(-30.75 2115.06 2043.03)" textLength="39.4" lengthAdjust="spacingAndGlyphs">15.10</text>
<text class="v" x="2046.37" y="2043.99" transform="rotate(29.15 2046.37 2043.99)" textLength="39.4" lengthAdjust="spacingAndGlyphs">606.1</text>
<text class="v" x="2045.88" y="1927.1" transform="rotate(-30.9 2045.88 1927.1)" textLength="39.4" lengthAdjust="spacingAndGlyphs">900.0</text>
<text class="n" x="2079.88" y="1953.6" textLength="14.22" lengthAdjust="spacingAndGlyphs">98</text>
<text class="s" x="2079.88" y="1988.9" fill="#a2c43c" stroke="#a2c43c" textLength="42.34" lengthAdjust="spacingAndGlyphs">Cf</text>
<text class="nm" x="2079.88" y="2005.7" textLength="62.36" lengthAdjust="spacingAndGlyphs">CALIFORNIUM</text>
<text class="m" x="2079.88" y="2018.6" textLength="58.32" lengthAdjust="spacingAndGlyphs">(251.080)</text>
<path d="M2253.26 1897.60A86.30 86.30 0 0 1 2326.68 1938.55L2297.93 1956.31A52.50 52.50 0 0 0 2253.26 1931.40Z" fill="#c0bfbe"/>
<path d="M2179.84 2029.25A86.30 86.30 0 0 1 2177.20 1943.12L2206.99 1959.09A52.50 52.50 0 0 0 2208.59 2011.49Z" fill="#c0bfbe"/>
<path d="M2326.68 1938.55A86.30 86.30 0 0 1 2329.10 2025.08L2299.40 2008.95A52.50 52.50 0 0 0 2297.93 1956.31Z" fill="#d0bfdc"/>
<path d="M2329.10 2025.08A86.30 86.30 0 0 1 2253.26 2070.20L2253.26 2036.40A52.50 52.50 0 0 0 2299.40 2008.95Z" fill="#c0da79"/>
<path d="M2253.26 2070.20A86.30 86.30 0 0 1 2179.84 2029.25L2208.59 2011.49A52.50 52.50 0 0 0 2253.26 2036.40Z" fill="#f6bdd8"/>
<path d="M2177.20 1943.12A86.30 86.30 0 0 1 2253.26 1897.60L2253.26 1931.40A52.50 52.50 0 0 0 2206.99 1959.09Z" fill="#7ccdf0"/>
<text class="v" x="2320.83" y="1982.01" transform="rotate(88.4 2320.83 1982.01)" textLength="31" lengthAdjust="spacingAndGlyphs">1.30</text>
<text class="v" x="2288.44" y="2043.03" transform="rotate(-30.75 2288.44 2043.03)" textLength="31" lengthAdjust="spacingAndGlyphs">8.84</text>
<text class="v" x="2219.75" y="2043.99" transform="rotate(29.15 2219.75 2043.99)" textLength="39.4" lengthAdjust="spacingAndGlyphs">619.4</text>
<text class="v" x="2219.26" y="1927.1" transform="rotate(-30.9 2219.26 1927.1)" textLength="39.4" lengthAdjust="spacingAndGlyphs">860.0</text>
<text class="n" x="2253.26" y="1953.6" textLength="14.22" lengthAdjust="spacingAndGlyphs">99</text>
<text class="s" x="2253.26" y="1988.9" fill="#a2c43c" stroke="#a2c43c" textLength="43.75" lengthAdjust="spacingAndGlyphs">Es</text>
<text class="nm" x="2253.26" y="2005.7" textLength="59.68" lengthAdjust="spacingAndGlyphs">EINSTEINIUM</text>
<text class="m" x="2253.26" y="2018.6" textLength="48.79" lengthAdjust="spacingAndGlyphs">252.083</text>
<path d="M2426.64 1897.60A86.30 86.30 0 0 1 2500.06 1938.55L2471.31 1956.31A52.50 52.50 0 0 0 2426.64 1931.40Z" fill="#c0bfbe"/>
<path d="M2502.48 2025.08A86.30 86.30 0 0 1 2426.64 2070.20L2426.64 2036.40A52.50 52.50 0 0 0 2472.78 2008.95Z" fill="#c0bfbe"/>
<path d="M2353.22 2029.25A86.30 86.30 0 0 1 2350.58 1943.12L2380.37 1959.09A52.50 52.50 0 0 0 2381.97 2011.49Z" fill="#c0bfbe"/>
<path d="M2500.06 1938.55A86.30 86.30 0 0 1 2502.48 2025.08L2472.78 2008.95A52.50 52.50 0 0 0 2471.31 1956.31Z" fill="#d0bfdc"/>
<path d="M2426.64 2070.20A86.30 86.30 0 0 1 2353.22 2029.25L2381.97 2011.49A52.50 52.50 0 0 0 2426.64 2036.40Z" fill="#f6bdd7"/>
<path d="M2350.58 1943.12A86.30 86.30 0 0 1 2426.64 1897.60L2426.64 1931.40A52.50 52.50 0 0 0 2380.37 1959.09Z" fill="#52bdeb"/>
<text class="v" x="2494.21" y="1982.01" transform="rotate(88.4 2494.21 1982.01)" textLength="31" lengthAdjust="spacingAndGlyphs">1.30</text>
<text class="v" x="2393.13" y="2043.99" transform="rotate(29.15 2393.13 2043.99)" textLength="39.4" lengthAdjust="spacingAndGlyphs">627.2</text>
<text class="v" x="2392.64" y="1927.1" transform="rotate(-30.9 2392.64 1927.1)" textLength="33.6" lengthAdjust="spacingAndGlyphs">1527</text>
<text class="n" x="2426.64" y="1953.6" textLength="21.58" lengthAdjust="spacingAndGlyphs">100</text>
<text class="s" x="2426.64" y="1988.9" fill="#a2c43c" stroke="#a2c43c" textLength="64.02" lengthAdjust="spacingAndGlyphs">Fm</text>
<text class="nm" x="2426.64" y="2005.7" textLength="42.44" lengthAdjust="spacingAndGlyphs">FERMIUM</text>
<text class="m" x="2426.64" y="2018.6" textLength="58.32" lengthAdjust="spacingAndGlyphs">(257.095)</text>
<path d="M2600.02 1897.60A86.30 86.30 0 0 1 2673.44 1938.55L2644.69 1956.31A52.50 52.50 0 0 0 2600.02 1931.40Z" fill="#c0bfbe"/>
<path d="M2675.86 2025.08A86.30 86.30 0 0 1 2600.02 2070.20L2600.02 2036.40A52.50 52.50 0 0 0 2646.16 2008.95Z" fill="#c0bfbe"/>
<path d="M2526.60 2029.25A86.30 86.30 0 0 1 2523.96 1943.12L2553.75 1959.09A52.50 52.50 0 0 0 2555.35 2011.49Z" fill="#c0bfbe"/>
<path d="M2673.44 1938.55A86.30 86.30 0 0 1 2675.86 2025.08L2646.16 2008.95A52.50 52.50 0 0 0 2644.69 1956.31Z" fill="#d0bfdc"/>
<path d="M2600.02 2070.20A86.30 86.30 0 0 1 2526.60 2029.25L2555.35 2011.49A52.50 52.50 0 0 0 2600.02 2036.40Z" fill="#f6bcd7"/>
<path d="M2523.96 1943.12A86.30 86.30 0 0 1 2600.02 1897.60L2600.02 1931.40A52.50 52.50 0 0 0 2553.75 1959.09Z" fill="#7ecef0"/>
<text class="v" x="2667.59" y="1982.01" transform="rotate(88.4 2667.59 1982.01)" textLength="31" lengthAdjust="spacingAndGlyphs">1.30</text>
<text class="v" x="2566.51" y="2043.99" transform="rotate(29.15 2566.51 2043.99)" textLength="39.4" lengthAdjust="spacingAndGlyphs">634.9</text>
<text class="v" x="2566.02" y="1927.1" transform="rotate(-30.9 2566.02 1927.1)" textLength="39.4" lengthAdjust="spacingAndGlyphs">827.0</text>
<text class="n" x="2600.02" y="1953.6" textLength="21.58" lengthAdjust="spacingAndGlyphs">101</text>
<text class="s" x="2600.02" y="1988.9" fill="#a2c43c" stroke="#a2c43c" textLength="65.94" lengthAdjust="spacingAndGlyphs">Md</text>
<text class="nm" x="2600.02" y="2005.7" textLength="66.39" lengthAdjust="spacingAndGlyphs">MENDELEVIUM</text>
<text class="m" x="2600.02" y="2018.6" textLength="58.32" lengthAdjust="spacingAndGlyphs">(258.098)</text>
<path d="M2773.40 1897.60A86.30 86.30 0 0 1 2846.82 1938.55L2818.07 1956.31A52.50 52.50 0 0 0 2773.40 1931.40Z" fill="#c0bfbe"/>
<path d="M2849.24 2025.08A86.30 86.30 0 0 1 2773.40 2070.20L2773.40 2036.40A52.50 52.50 0 0 0 2819.54 2008.95Z" fill="#c0bfbe"/>
<path d="M2699.98 2029.25A86.30 86.30 0 0 1 2697.34 1943.12L2727.13 1959.09A52.50 52.50 0 0 0 2728.73 2011.49Z" fill="#c0bfbe"/>
<path d="M2846.82 1938.55A86.30 86.30 0 0 1 2849.24 2025.08L2819.54 2008.95A52.50 52.50 0 0 0 2818.07 1956.31Z" fill="#d0bfdc"/>
<path d="M2773.40 2070.20A86.30 86.30 0 0 1 2699.98 2029.25L2728.73 2011.49A52.50 52.50 0 0 0 2773.40 2036.40Z" fill="#f6bbd6"/>
<path d="M2697.34 1943.12A86.30 86.30 0 0 1 2773.40 1897.60L2773.40 1931.40A52.50 52.50 0 0 0 2727.13 1959.09Z" fill="#7ecef0"/>
<text class="v" x="2840.97" y="1982.01" transform="rotate(88.4 2840.97 1982.01)" textLength="31" lengthAdjust="spacingAndGlyphs">1.30</text>
<text class="v" x="2739.89" y="2043.99" transform="rotate(29.15 2739.89 2043.99)" textLength="39.4" lengthAdjust="spacingAndGlyphs">641.6</text>
<text class="v" x="2739.4" y="1927.1" transform="rotate(-30.9 2739.4 1927.1)" textLength="39.4" lengthAdjust="spacingAndGlyphs">827.0</text>
<text class="n" x="2773.4" y="1953.6" textLength="21.58" lengthAdjust="spacingAndGlyphs">102</text>
<text class="s" x="2773.4" y="1988.9" fill="#a2c43c" stroke="#a2c43c" textLength="59.8" lengthAdjust="spacingAndGlyphs">No</text>
<text class="nm" x="2773.4" y="2005.7" textLength="47.13" lengthAdjust="spacingAndGlyphs">NOBELIUM</text>
<text class="m" x="2773.4" y="2018.6" textLength="58.32" lengthAdjust="spacingAndGlyphs">(259.101)</text>
<path d="M2946.78 1897.60A86.30 86.30 0 0 1 2946.78 2070.20L2946.78 2036.40A52.50 52.50 0 0 0 2946.78 1931.40Z" fill="#c0bfbe"/>
<path d="M2873.36 2029.25A86.30 86.30 0 0 1 2870.72 1943.12L2900.51 1959.09A52.50 52.50 0 0 0 2902.11 2011.49Z" fill="#c0bfbe"/>
<path d="M2946.78 2070.20A86.30 86.30 0 0 1 2873.36 2029.25L2902.11 2011.49A52.50 52.50 0 0 0 2946.78 2036.40Z" fill="#f8cee2"/>
<path d="M2870.72 1943.12A86.30 86.30 0 0 1 2946.78 1897.60L2946.78 1931.40A52.50 52.50 0 0 0 2900.51 1959.09Z" fill="#4cbbeb"/>
<text class="v" x="2913.27" y="2043.99" transform="rotate(29.15 2913.27 2043.99)" textLength="39.4" lengthAdjust="spacingAndGlyphs">472.8</text>
<text class="v" x="2912.78" y="1927.1" transform="rotate(-30.9 2912.78 1927.1)" textLength="33.6" lengthAdjust="spacingAndGlyphs">1627</text>
<text class="n" x="2946.78" y="1953.6" textLength="21.58" lengthAdjust="spacingAndGlyphs">103</text>
<text class="s" x="2946.78" y="1988.9" fill="#f8a922" stroke="#f8a922" textLength="42.12" lengthAdjust="spacingAndGlyphs">Lr</text>
<text class="nm" x="2946.78" y="2005.7" textLength="61.32" lengthAdjust="spacingAndGlyphs">LAWRENCIUM</text>
<text class="m" x="2946.78" y="2018.6" textLength="58.32" lengthAdjust="spacingAndGlyphs">(262.110)</text>
<path d="M619.42 1564.47A86.30 86.30 0 1 1 692.84 1605.42L692.84 1571.62A52.50 52.50 0 1 0 648.17 1546.71Z" fill="#c0bfbe"/>
<path d="M692.84 1605.42A86.30 86.30 0 0 1 619.42 1564.47L648.17 1546.71A52.50 52.50 0 0 0 692.84 1571.62Z" fill="#f7c1da"/>
<text class="v" x="659.33" y="1579.21" transform="rotate(29.15 659.33 1579.21)" textLength="39.4" lengthAdjust="spacingAndGlyphs">578.9</text>
<text class="n" x="692.84" y="1488.82" textLength="21.58" lengthAdjust="spacingAndGlyphs">104</text>
<text class="s" x="692.84" y="1524.12" fill="#f8a922" stroke="#f8a922" textLength="43.33" lengthAdjust="spacingAndGlyphs">Rf</text>
<text class="nm" x="692.84" y="1540.92" textLength="77.71" lengthAdjust="spacingAndGlyphs">RUTHERFORDIUM</text>
<text class="m" x="692.84" y="1553.82" textLength="58.32" lengthAdjust="spacingAndGlyphs">(261.109)</text>
<circle cx="866.22" cy="1519.12" r="69.4" fill="none" stroke="#c0bfbe" stroke-width="33.8"/>
<text class="n" x="866.22" y="1488.82" textLength="21.58" lengthAdjust="spacingAndGlyphs">105</text>
<text class="s" x="866.22" y="1524.12" fill="#f8a922" stroke="#f8a922" textLength="57.27" lengthAdjust="spacingAndGlyphs">Db</text>
<text class="nm" x="866.22" y="1540.92" textLength="42.32" lengthAdjust="spacingAndGlyphs">DUBNIUM</text>
<text class="m" x="866.22" y="1553.82" textLength="58.32" lengthAdjust="spacingAndGlyphs">(262.114)</text>
<circle cx="1039.6" cy="1519.12" r="69.4" fill="none" stroke="#c0bfbe" stroke-width="33.8"/>
<text class="n" x="1039.6" y="1486.42" textLength="21.58" lengthAdjust="spacingAndGlyphs">106</text>
<text class="s" x="1039.6" y="1516.82" fill="#f8a922" stroke="#f8a922" textLength="41.17" lengthAdjust="spacingAndGlyphs" style="font-size:37.91px">Sg</text>
<text class="nm" x="1039.6" y="1540.92" textLength="59.47" lengthAdjust="spacingAndGlyphs">SEABORGIUM</text>
<text class="m" x="1039.6" y="1553.82" textLength="58.32" lengthAdjust="spacingAndGlyphs">(266.122)</text>
<circle cx="1212.98" cy="1519.12" r="69.4" fill="none" stroke="#c0bfbe" stroke-width="33.8"/>
<text class="n" x="1212.98" y="1488.82" textLength="21.58" lengthAdjust="spacingAndGlyphs">107</text>
<text class="s" x="1212.98" y="1524.12" fill="#f8a922" stroke="#f8a922" textLength="55.39" lengthAdjust="spacingAndGlyphs">Bh</text>
<text class="nm" x="1212.98" y="1540.92" textLength="42.15" lengthAdjust="spacingAndGlyphs">BOHRIUM</text>
<text class="m" x="1212.98" y="1553.82" textLength="58.32" lengthAdjust="spacingAndGlyphs">(264.120)</text>
<circle cx="1386.36" cy="1519.12" r="69.4" fill="none" stroke="#c0bfbe" stroke-width="33.8"/>
<text class="n" x="1386.36" y="1488.82" textLength="21.58" lengthAdjust="spacingAndGlyphs">108</text>
<text class="s" x="1386.36" y="1524.12" fill="#f8a922" stroke="#f8a922" textLength="52.52" lengthAdjust="spacingAndGlyphs">Hs</text>
<text class="nm" x="1386.36" y="1540.92" textLength="41.26" lengthAdjust="spacingAndGlyphs">HASSIUM</text>
<text class="m" x="1386.36" y="1553.82" textLength="58.32" lengthAdjust="spacingAndGlyphs">(277.000)</text>
<circle cx="1559.74" cy="1519.12" r="69.4" fill="none" stroke="#c0bfbe" stroke-width="33.8"/>
<text class="n" x="1559.74" y="1488.82" textLength="21.58" lengthAdjust="spacingAndGlyphs">109</text>
<text class="s" x="1559.74" y="1524.12" fill="#f8a922" stroke="#f8a922" textLength="57.43" lengthAdjust="spacingAndGlyphs">Mt</text>
<text class="nm" x="1559.74" y="1540.92" textLength="58.31" lengthAdjust="spacingAndGlyphs">MEITNERIUM</text>
<text class="m" x="1559.74" y="1553.82" textLength="58.32" lengthAdjust="spacingAndGlyphs">(268.139)</text>
<circle cx="1733.12" cy="1519.12" r="69.4" fill="none" stroke="#c0bfbe" stroke-width="33.8"/>
<text class="n" x="1733.12" y="1488.82" textLength="21.58" lengthAdjust="spacingAndGlyphs">110</text>
<text class="s" x="1733.12" y="1524.12" fill="#f8a922" stroke="#f8a922" textLength="51.46" lengthAdjust="spacingAndGlyphs">Ds</text>
<text class="nm" x="1733.12" y="1540.92" textLength="72.82" lengthAdjust="spacingAndGlyphs">DARMSTADTIUM</text>
<text class="m" x="1733.12" y="1553.82" textLength="58.32" lengthAdjust="spacingAndGlyphs">(281.000)</text>
<circle cx="1906.5" cy="1519.12" r="69.4" fill="none" stroke="#c0bfbe" stroke-width="33.8"/>
<text class="n" x="1906.5" y="1486.42" textLength="21.58" lengthAdjust="spacingAndGlyphs">111</text>
<text class="s" x="1906.5" y="1521.12" fill="#f8a922" stroke="#f8a922" textLength="49.41" lengthAdjust="spacingAndGlyphs" style="font-size:41.32px">Rg</text>
<text class="nm" x="1906.5" y="1543.52" textLength="65.67" lengthAdjust="spacingAndGlyphs">ROENTGENIUM</text>
<text class="m" x="1906.5" y="1557.22" textLength="58.32" lengthAdjust="spacingAndGlyphs">(280.000)</text>
<circle cx="2079.88" cy="1519.12" r="69.4" fill="none" stroke="#c0bfbe" stroke-width="33.8"/>
<text class="n" x="2079.88" y="1488.82" textLength="21.58" lengthAdjust="spacingAndGlyphs">112</text>
<text class="s" x="2079.88" y="1524.12" fill="#f8a922" stroke="#f8a922" textLength="53.9" lengthAdjust="spacingAndGlyphs">Cn</text>
<text class="nm" x="2079.88" y="1540.92" textLength="62.98" lengthAdjust="spacingAndGlyphs">COPERNICIUM</text>
<text class="m" x="2079.88" y="1553.82" textLength="58.32" lengthAdjust="spacingAndGlyphs">(285.000)</text>
<circle cx="2253.26" cy="1519.12" r="69.4" fill="none" stroke="#c0bfbe" stroke-width="33.8"/>
<text class="n" x="2253.26" y="1488.82" textLength="21.58" lengthAdjust="spacingAndGlyphs">113</text>
<text class="s" x="2253.26" y="1524.12" fill="#005ea9" stroke="#005ea9" textLength="61.43" lengthAdjust="spacingAndGlyphs">Nh</text>
<text class="nm" x="2253.26" y="1540.92" textLength="46.13" lengthAdjust="spacingAndGlyphs">NIHONIUM</text>
<text class="m" x="2253.26" y="1553.82" textLength="58.32" lengthAdjust="spacingAndGlyphs">(286.000)</text>
<circle cx="2426.64" cy="1519.12" r="69.4" fill="none" stroke="#c0bfbe" stroke-width="33.8"/>
<text class="n" x="2426.64" y="1488.82" textLength="21.58" lengthAdjust="spacingAndGlyphs">114</text>
<text class="s" x="2426.64" y="1524.12" fill="#005ea9" stroke="#005ea9" textLength="35.05" lengthAdjust="spacingAndGlyphs">Fl</text>
<text class="nm" x="2426.64" y="1540.92" textLength="51.89" lengthAdjust="spacingAndGlyphs">FLEROVIUM</text>
<text class="m" x="2426.64" y="1553.82" textLength="58.32" lengthAdjust="spacingAndGlyphs">(289.000)</text>
<circle cx="2600.02" cy="1519.12" r="69.4" fill="none" stroke="#c0bfbe" stroke-width="33.8"/>
<text class="n" x="2600.02" y="1488.82" textLength="21.58" lengthAdjust="spacingAndGlyphs">115</text>
<text class="s" x="2600.02" y="1523.32" fill="#005ea9" stroke="#005ea9" textLength="55.99" lengthAdjust="spacingAndGlyphs" style="font-size:39.19px">Mc</text>
<text class="nm" x="2600.02" y="1542.82" textLength="55.22" lengthAdjust="spacingAndGlyphs">MOSCOVIUM</text>
<text class="m" x="2600.02" y="1555.72" textLength="58.32" lengthAdjust="spacingAndGlyphs">(289.000)</text>
<circle cx="2773.4" cy="1519.12" r="69.4" fill="none" stroke="#c0bfbe" stroke-width="33.8"/>
<text class="n" x="2773.4" y="1488.82" textLength="21.58" lengthAdjust="spacingAndGlyphs">116</text>
<text class="s" x="2773.4" y="1524.12" fill="#005ea9" stroke="#005ea9" textLength="47.03" lengthAdjust="spacingAndGlyphs">Lv</text>
<text class="nm" x="2773.4" y="1540.92" textLength="64.17" lengthAdjust="spacingAndGlyphs">LIVERMORIUM</text>
<text class="m" x="2773.4" y="1553.82" textLength="58.32" lengthAdjust="spacingAndGlyphs">(293.000)</text>
<circle cx="2946.78" cy="1519.12" r="69.4" fill="none" stroke="#c0bfbe" stroke-width="33.8"/>
<text class="n" x="2946.78" y="1488.82" textLength="21.58" lengthAdjust="spacingAndGlyphs">117</text>
<text class="s" x="2946.78" y="1524.12" fill="#005ea9" stroke="#005ea9" textLength="44.56" lengthAdjust="spacingAndGlyphs">Ts</text>
<text class="nm" x="2946.78" y="1540.92" textLength="56.79" lengthAdjust="spacingAndGlyphs">TENNESSINE</text>
<text class="m" x="2946.78" y="1553.82" textLength="58.32" lengthAdjust="spacingAndGlyphs">(294.000)</text>
<circle cx="3120.16" cy="1519.12" r="69.4" fill="none" stroke="#c0bfbe" stroke-width="33.8"/>
<text class="n" x="3120.16" y="1488.82" textLength="21.58" lengthAdjust="spacingAndGlyphs">118</text>
<text class="s" x="3120.16" y="1520.22" fill="#005ea9" stroke="#005ea9" textLength="55.04" lengthAdjust="spacingAndGlyphs" style="font-size:41.32px">Og</text>
<text class="nm" x="3120.16" y="1542.92" textLength="54.5" lengthAdjust="spacingAndGlyphs">OGANESSON</text>
<text class="m" x="3120.16" y="1555.42" textLength="58.32" lengthAdjust="spacingAndGlyphs">(294.000)</text>
<text class="lbl" x="519.1" y="1351.7" textLength="69.8" lengthAdjust="spacingAndGlyphs">E57-71</text>
<text class="lbl" x="519.1" y="1524.3" textLength="85.6" lengthAdjust="spacingAndGlyphs">E89-103</text>
<text class="note" x="197.5" y="2163.3" textLength="2925" lengthAdjust="spacingAndGlyphs">NOTES: For elements with more than one allotrope, the properties of the most common allotrope are given. Different allotropes may have differing melting points, boiling points, and densities. The discoveries of elements 113, 115, 117 &amp; 118 have yet to be confirmed, and as such their names and symbols are only placeholders until official names are designated.</text>
<rect x="99.4" y="2200.3" width="3121" height="12.5" fill="#a9c74b"/>
<circle cx="1244.3" cy="2261.5" r="15.4" fill="#4d5155" stroke="#a9c74b" stroke-width="2.4"/>
<text x="1244.3" y="2267" fill="#fff" font-family="Liberation Sans" font-weight="bold" font-size="15" text-anchor="middle">Ci</text>
<text class="cp" x="1272.3" y="2271.1" textLength="653.7" lengthAdjust="spacingAndGlyphs" style="font-size:24.3px;fill:#575757">© COMPOUND INTEREST 2014 - WWW.COMPOUNDCHEM.COM</text>
<rect x="1939.3" y="2238.8" width="141" height="48.6" rx="2" fill="#000"/>
<rect x="1940.3" y="2239.8" width="139" height="33" rx="1.5" fill="#abb1aa"/>
<circle cx="1964.3" cy="2260.8" r="17" fill="#fff" stroke="#000" stroke-width="3"/>
<text x="1964.3" y="2266.3" font-family="Liberation Sans" font-weight="bold" font-size="17" text-anchor="middle" letter-spacing="-0.5">cc</text>
<circle cx="1999.3" cy="2255.3" r="12.5" fill="#fff" stroke="#000" stroke-width="2.2"/>
<circle cx="2030.3" cy="2255.3" r="12.5" fill="#fff" stroke="#000" stroke-width="2.2"/>
<circle cx="2059.3" cy="2255.3" r="12.5" fill="#fff" stroke="#000" stroke-width="2.2"/>
<circle cx="1999.3" cy="2248.8" r="2.2" fill="#000"/><rect x="1996.8" y="2252.3" width="5" height="9" fill="#000"/>
<text x="2030.3" y="2260.3" font-family="Liberation Sans" font-weight="bold" font-size="14" text-anchor="middle">$</text>
<path d="M2021.3 2246.8L2039.3 2263.8" stroke="#000" stroke-width="2"/>
<rect x="2053.8" y="2251.3" width="11" height="2.6" fill="#000"/><rect x="2053.8" y="2256.8" width="11" height="2.6" fill="#000"/>
<text x="1998.3" y="2283.3" fill="#fff" font-family="Liberation Sans" font-weight="bold" font-size="8.5" text-anchor="middle">BY</text>
<text x="2030.3" y="2283.3" fill="#fff" font-family="Liberation Sans" font-weight="bold" font-size="8.5" text-anchor="middle">NC</text>
<text x="2059.3" y="2283.3" fill="#fff" font-family="Liberation Sans" font-weight="bold" font-size="8.5" text-anchor="middle">ND</text>
</svg>
</body></html>
